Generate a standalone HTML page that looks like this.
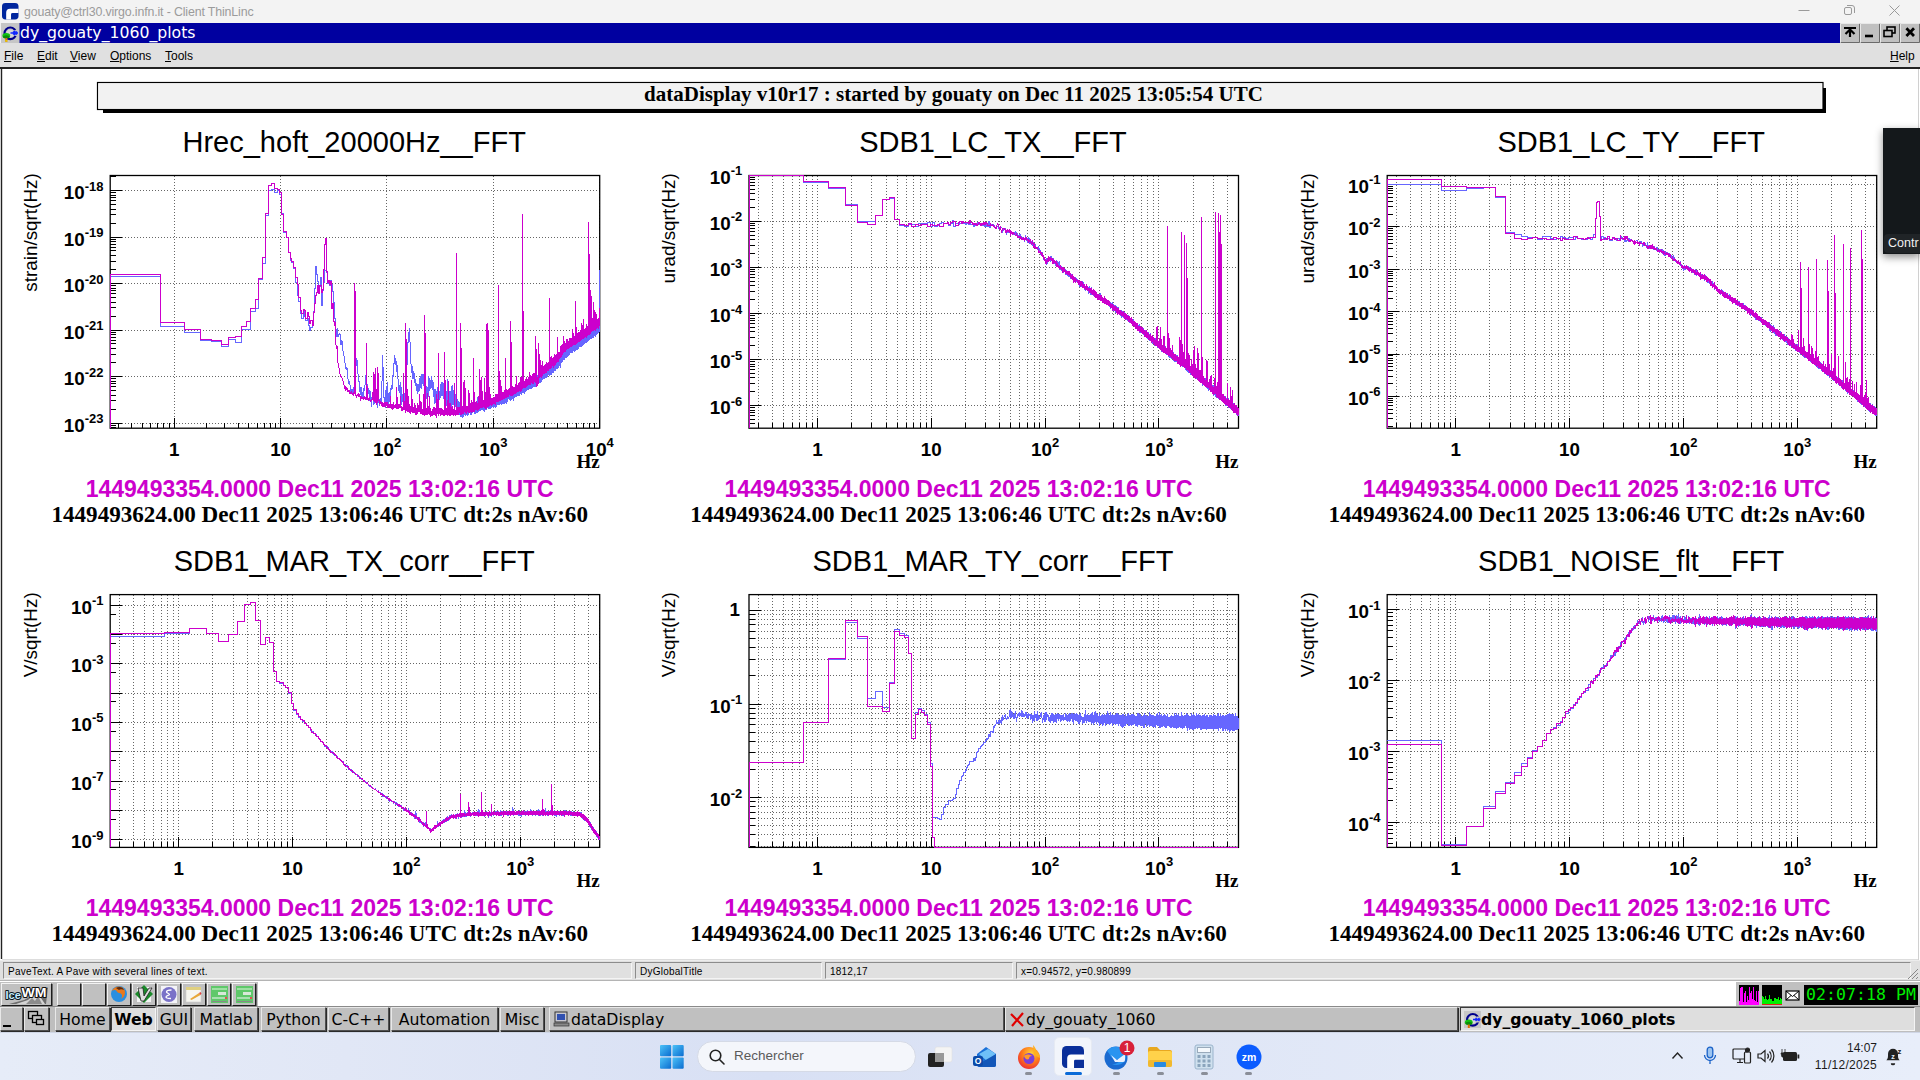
<!DOCTYPE html>
<html><head><meta charset="utf-8"><title>dy_gouaty_1060_plots</title>
<style>
html,body{margin:0;padding:0;}
body{width:1920px;height:1080px;overflow:hidden;background:#fff;font-family:"Liberation Sans",sans-serif;position:relative;}
.abs{position:absolute;}
#tl{left:0;top:0;width:1920px;height:23px;background:#f3f3f3;}
#tl .t{position:absolute;left:24px;top:5px;font-size:12.4px;color:#9b9b9b;letter-spacing:-0.15px;white-space:nowrap;}
#bb{left:0;top:23px;width:1920px;height:20px;background:#0000a0;}
#bb .t{position:absolute;left:20px;top:0px;font-family:"DejaVu Sans",sans-serif;font-size:15.7px;color:#fff;white-space:nowrap;}
#mb{left:0;top:43px;width:1920px;height:24px;background:#e0e0e0;border-bottom:2px solid #222;}
#mb span{position:absolute;top:6px;font-size:12px;color:#000;white-space:nowrap;}
#mb u{text-decoration:underline;}
svg text{font-family:"Liberation Sans",sans-serif;}
.tt{font-size:29px;fill:#000;}
.yt{font-size:18.9px;fill:#000;}
.al{font-size:18.8px;font-weight:bold;fill:#000;}
.sp{font-size:13px;font-weight:bold;}
.hz{font-family:"Liberation Serif",serif !important;font-size:19px;font-weight:bold;}
.mg{font-size:23px;font-weight:bold;fill:#cc00cc;}
.bk{font-family:"Liberation Serif",serif !important;font-size:23.1px;font-weight:bold;fill:#000;}
.pt{font-family:"Liberation Serif",serif !important;font-size:21px;font-weight:bold;fill:#000;}
</style></head><body>
<div id="tl" class="abs"><svg class="abs" style="left:2px;top:3px" width="16.5" height="16.5" viewBox="0 0 17 17"><rect width="17" height="17" rx="3.6" fill="#00269e"/><path d="M4.3 17V10a4 4 0 0 1 4-4H17v4.3H10.8a1.5 1.5 0 0 0-1.5 1.5V17z" fill="#fff"/></svg><span class="t">gouaty@ctrl30.virgo.infn.it - Client ThinLinc</span>
<svg class="abs" style="left:1780px;top:0" width="140" height="23" viewBox="0 0 140 23" fill="none" stroke="#9a9a9a" stroke-width="1"><path d="M18.5 10.5h11"/><rect x="64.5" y="7.5" width="7" height="7" rx="1.5"/><path d="M67 5.5h5a2.5 2.5 0 0 1 2.5 2.5v5"/><path d="M109.5 5.5l10 10M119.5 5.5l-10 10"/></svg></div>
<div id="bb" class="abs"><svg class="abs" style="left:0;top:0" width="19.5" height="20" viewBox="0 0 19.5 20"><rect width="19.5" height="20" fill="#c6c6c6"/><rect width="1" height="20" fill="#f0f0f0"/><circle cx="10.3" cy="10.3" r="5.8" fill="none" stroke="#00008c" stroke-width="2.1"/><circle cx="10.3" cy="10.3" r="3.600" fill="#d8d8d8"/><rect x="14" y="7" width="4" height="6" fill="#c6c6c6"/><path d="M10.5 10h7.5M14.5 7.5l.8 2.5-.8 2.5M13 8.5l4 3M13 11.5l4-3" stroke="#1228ff" stroke-width="1.3" fill="none"/><ellipse cx="6.3" cy="12.8" rx="3.900" ry="2.700" fill="#12c412"/><ellipse cx="6.3" cy="13.8" rx="3.3" ry="1.600" fill="#0a8a0a"/><rect x="5.3" y="15" width="2" height="3.8" fill="#e07000"/><rect x="5.3" y="17" width="2" height="1.8" fill="#e8c800"/></svg><svg class="abs" style="left:1840px;top:0" width="80" height="20" viewBox="0 1 80 20"><rect width="80" height="21" fill="#c0c0c0"/><g fill="none" stroke="#e8e8e8" stroke-width="1"><path d="M.5 20V1.5h19M20.5 20V1.5h19M40.5 20V1.5h19M60.5 20V1.5h19"/></g><g fill="none" stroke="#6a6a6a" stroke-width="1"><path d="M19.5 2v18.5H1M39.5 2v18.5H21M59.5 2v18.5H41M79.5 2v18.5H61"/></g><g stroke="#000" stroke-width="2.200" fill="none"><path d="M4 6h12M10 15V8M5.5 12l4.5-4.5 4.5 4.5"/><path d="M25 14h8" stroke-width="2.6"/><path d="M66.4 6.3l7.6 7.6M74 6.3l-7.6 7.6" stroke-width="2.8"/></g><g stroke="#000" stroke-width="1.6" fill="#c0c0c0"><rect x="47" y="5" width="8" height="6"/><rect x="44" y="8.5" width="8" height="6"/></g></svg><span class="t">dy_gouaty_1060_plots</span></div>
<div id="mb" class="abs"><span style="left:4px"><u>F</u>ile</span><span style="left:37px"><u>E</u>dit</span><span style="left:70px"><u>V</u>iew</span><span style="left:110px"><u>O</u>ptions</span><span style="left:165px"><u>T</u>ools</span><span style="left:1890px"><u>H</u>elp</span></div>
<svg class="abs" style="left:0;top:69px" width="1920" height="893" viewBox="0 69 1920 893">
<rect x="0" y="69" width="1920" height="893" fill="#fff"/>
<rect x="0.8" y="69" width="1.4" height="890" fill="#222"/><rect x="2" y="959" width="1916" height="1" fill="#ddd"/><rect x="1918" y="69" width="1" height="891" fill="#d0d0d0"/>
<rect x="103" y="88" width="1723" height="25" fill="#000"/>
<rect x="97.5" y="82.5" width="1725.5" height="27" fill="#fff" stroke="#000" stroke-width="1.2"/><rect x="99" y="84" width="1722.5" height="24" fill="#f2f2f2"/>
<text x="953.5" y="101" class="pt" text-anchor="middle">dataDisplay v10r17 : started by gouaty on Dec 11 2025 13:05:54 UTC</text>
<path d="M174.5 175.5V428.2M280.5 175.5V428.2M386.5 175.5V428.2M493.5 175.5V428.2M599.5 175.5V428.2M110.2 423.5H599.7M110.2 376.5H599.7M110.2 330.5H599.7M110.2 283.5H599.7M110.2 237.5H599.7M110.2 190.5H599.7" stroke="#000" stroke-opacity=".6" stroke-width="1" stroke-dasharray="1 2" fill="none" shape-rendering="crispEdges"/>
<rect x="110.2" y="175.5" width="489.5" height="252.7" fill="none" stroke="#000" stroke-width="1.3"/>
<path d="M118.5 428.2v-5M131.5 428.2v-5M142.5 428.2v-5M150.5 428.2v-5M157.5 428.2v-5M163.5 428.2v-5M169.5 428.2v-5M174.5 428.2v-10M206.5 428.2v-5M224.5 428.2v-5M238.5 428.2v-5M248.5 428.2v-5M257.5 428.2v-5M264.5 428.2v-5M270.5 428.2v-5M275.5 428.2v-5M280.5 428.2v-10M312.5 428.2v-5M331.5 428.2v-5M344.5 428.2v-5M354.5 428.2v-5M363.5 428.2v-5M370.5 428.2v-5M376.5 428.2v-5M382.5 428.2v-5M386.5 428.2v-10M418.5 428.2v-5M437.5 428.2v-5M451.5 428.2v-5M461.5 428.2v-5M469.5 428.2v-5M476.5 428.2v-5M483.5 428.2v-5M488.5 428.2v-5M493.5 428.2v-10M525.5 428.2v-5M544.5 428.2v-5M557.5 428.2v-5M567.5 428.2v-5M576.5 428.2v-5M583.5 428.2v-5M589.5 428.2v-5M594.5 428.2v-5M599.5 428.2v-10M110.2 427.5h5.5M110.2 425.5h5.5M110.2 423.5h11.5M110.2 409.5h5.5M110.2 400.5h5.5M110.2 395.5h5.5M110.2 390.5h5.5M110.2 386.5h5.5M110.2 383.5h5.5M110.2 381.5h5.5M110.2 378.5h5.5M110.2 376.5h11.5M110.2 362.5h5.5M110.2 354.5h5.5M110.2 348.5h5.5M110.2 343.5h5.5M110.2 340.5h5.5M110.2 337.5h5.5M110.2 334.5h5.5M110.2 332.5h5.5M110.2 330.5h11.5M110.2 316.5h5.5M110.2 307.5h5.5M110.2 302.5h5.5M110.2 297.5h5.5M110.2 293.5h5.5M110.2 290.5h5.5M110.2 288.5h5.5M110.2 285.5h5.5M110.2 283.5h11.5M110.2 269.5h5.5M110.2 261.5h5.5M110.2 255.5h5.5M110.2 250.5h5.5M110.2 247.5h5.5M110.2 244.5h5.5M110.2 241.5h5.5M110.2 239.5h5.5M110.2 237.5h11.5M110.2 223.5h5.5M110.2 214.5h5.5M110.2 209.5h5.5M110.2 204.5h5.5M110.2 200.5h5.5M110.2 197.5h5.5M110.2 195.5h5.5M110.2 192.5h5.5M110.2 190.5h11.5M110.2 176.5h5.5" stroke="#000" stroke-width="1" fill="none" shape-rendering="crispEdges"/>
<path d="M110.2 276.3H160.9V326.3H184.5V332.3H200.1V340.2H211.7V341.2H221V346.3H228.7V339.1H235.3V342.1H241.1V329.5H246.2H250.8V311.4H255V308.1H258.9V279.3H262.4V263H265.7V215.1H268.8V190.5H271.7V189.1H274.4V192.4H277V190.5H279.4V194.2H281.7V213.8H283.9V232.3H286V237.9H288.1V252.3H290V260.2H291.8V262.6H293.6V268.6H295.3V282.1H297V295.1H298.6V301.2H300.1V313.7H301.6V318.4H303V311.4H304.4V316H305.8V320.7H307.1V318.4H308.4V325.3H309.6V330H310.9V327.7H312V323H313.2V311.4H314.3V288.6H315.4V266.4H316.5V274.9H317.5V281.5H318.6V286.2H319.6V286.4H320.6V277.8H321.5V305.2H322.5V290.3H323.4V282.2H324.3V270H325.2V270.2H326.1V261.4H326.9V272.8H327.8V283.7H328.6V282H329.4V285.3H330.2V280.9H331V285.8H331.7V284.6H332.5V291.1H333.2V302.7H334V308.5H334.7V318.3H335.4L335.8 329L336.4 337.3L337.1 327.6L337.8 336.4L338.5 336.3L339.1 334.2L339.8 333.5L340.4 334.4L341 344.7L341.7 340.2L342.3 342.7L342.9 350.6L343.5 352.8L344.1 356.5L344.6 359.4L345.2 364.4L345.8 368.4L346.3 367.9L346.9 369.8L347.4 369L348 379L348.5 384.1L349 380.9L349.6 384.8L350.1 385L350.6 389.2L351.1 393.6L351.6 392.4L352.1 388.7L352.6 390.1L353.1 392.9L353.5 387L354 390.9L354.5 384.7L354.9 377.4L355.4 374.9L355.9 367.9L356.3 359.9L356.8 358.4L357.2 361L357.6 367.1L358.1 375.5L358.5 381.7L358.9 377.2L359.4 391.3L359.8 388.1L360.2 395.3L360.6 390.8L361 387.1L361.4 393.9L361.8 397L362.2 399L362.6 392.4L363 398.3L363.4 397.6L363.8 388.8L364.1 387.6L364.5 389.9L364.9 388.8L365.3 375.3L365.6 383.5L366 384.8L366.4 387.4L366.7 385.8L367.1 384.3L367.4 391.4L367.9 391V391.9L368.6 394.4V388.5L369.3 391.6V396.1L370 400.8V391L370.7 395.5V396L371.3 397.5V406.5L372 397.2V393.3L372.6 397.5V399.2L373.2 399.5V372L373.8 402.5V405.1L374.4 402V399.7L375 401.6V403.3L375.6 398V388.6L376.2 398.9V403.5L376.8 399.4V397.7L377.4 398.7V407.7L377.9 406.5V403.9L378.5 398.7V393.1L379.1 402.6V403.3L379.6 406.1V399.7L380.1 399.6V401.8L380.7 401.3V398.8L381.2 398.4V403.8L381.7 395.9V390.3L382.2 376.5V363.2L382.7 358V354.7L383.2 373.3V390L383.7 396.3V397.8L384.2 397.8V404.3L384.7 402.8V400.7L385.2 405.6V408.1L385.7 403.4V390L386.2 402.8V403.4L386.7 404.4V390.4L387.4 381.7V402.9L388.1 403.6V396.2L388.8 392.9V403.1L389.4 400.2V391.7L390.1 393.1V400.3L390.7 397.3V388.5L391.4 389.3V385.5L392 389.3V381.3L392.6 378V375.1L393.2 377.2V370.1L393.8 372.2V362.7L394.4 364V354.9L395 358.4V362.3L395.6 360.8V365.4L396.2 361V371.7L396.7 368.1V361.8L397.3 368V373.1L397.8 374.7V378.1L398.4 380.8V385.3L398.9 382.5V390.4L399.4 392.7V385.4L400.1 391.8V392.9L400.7 400.5V381.9L401.4 392.9V405.2L402.1 398.6V394.8L402.8 394.1V400.9L403.4 404.5V396.2L404.1 392.8V401.5L404.7 399.1V394.5L405.3 396.7V387.8L405.9 380.9V399L406.5 379.1V371.2L407.1 364.1V354.8L407.7 356V342.9L408.3 342.1V331.7L408.9 334.5V337.5L409.5 340V328.5L410.1 344.4V358.2L410.8 355.3V363.1L411.5 365.4V371.2L412.2 374.2V366.2L412.8 369.7V378.5L413.5 378V370.7L414.1 373.4V379.7L414.8 382.6V376.6L415.4 382.4V386.1L416 385V391.3L416.6 390.2V383.2L417.2 385.1V393.4L417.8 393.6V385.9L418.4 384.3V391.3L419 390.5V384.7L419.7 390.2V378.5L420.4 377.3V387.5L421.1 387.9V380L421.7 385.2V373.8L422.4 375.4V383.7L423 381.3V374.2L423.7 380.1V385.9L424.3 386.2V377L424.9 382.9V392.1L425.5 395.7V383.9L426.1 386.3V399.2L426.8 393.8V387L427.5 388V392.7L428.2 396.7V385.5L428.8 390.6V376.1L429.5 380.8V391L430.1 388V380.8L430.8 380.8V388.1L431.4 387.3V376.1L432 380.1V388.7L432.7 389.8V381.3L433.4 383.1V396.7L434.1 390V404.4L434.7 400.1V389.1L435.4 389.1V402L436 402.2V390.6L436.7 392.5V401.1L437.3 400.8V392.8L438 387V408.2L438.7 402.4V389.5L439.4 391.9V400.4L440 393.9V384.5L440.7 384.3V397.9L441.3 394.7V383.4L442 381.7V396.1L442.6 395.9V384.8L443.3 383V394.2L444 398.8V387.3L444.7 390V402.7L445.3 400.6V391.7L446 391.5V401.7L446.6 406V392.3L447.3 405.3V379.3L448 385.6V407.3L448.7 410.1V395L449.4 391.1V410.5L450 404.5V391.2L450.7 392.4V402.3L451.4 407.2V389.3L452.1 385.1V405.1L452.7 399.6V389.2L453.4 391.1V402.5L454.1 405V386.1L454.7 390.8V403.2L455.4 406.8V394.2L456.1 397.6V406.8L456.8 411.8V400.3L457.4 398.7V410.7L458.1 410.7V403.8L458.8 400.7V413.2L459.5 414.7V406.6L460.1 401.5V413.9L460.8 417.2V392.1L461.5 403V415.6L462.1 417V408.8L462.8 409.1V417.8L463.5 415.3V404L464.2 407.6V414.6L464.8 414.7V400.3L465.5 407.4V415.7L466.2 414.4V407.2L466.9 406.7V414.1L467.6 415.1V407.7L468.2 408.8V414.6L468.9 411.8V408.6L469.6 412.6V400.8L470.3 406.7V412.8L471 415.2V404.6L471.6 404.2V412.3L472.3 412.3V404L473 406.2V412.1L473.7 411.3V405.7L474.4 402V411.7L475.1 413.7V406.3L475.7 405.1V411.1L476.4 412.2V405.1L477.1 412.1V396.8L477.8 405.3V412.8L478.5 411.4V403.8L479.2 402.7V410.2L479.8 410.7V404.7L480.5 403.3V409.9L481.2 409.2V402.2L481.9 401.7V409.2L482.6 409.3V404.1L483.3 402.4V409.8L484 410.8V402.6L484.6 402.5V410.7L485.3 409.4V403.7L486 401.9V410.4L486.7 408.3V401.3L487.4 400.9V407.8L488.1 407.6V399L488.8 401V408.6L489.5 408.6V399.7L490.1 402.7V408.3L490.8 407V400.3L491.5 400.8V407.1L492.2 406.6V400.6L492.9 399.4V406.4L493.6 408V399.8L494.3 400.4V405.7L495 406.5V400.9L495.7 399V404.9L496.3 405.7V399.1L497 397.1V404.9L497.7 404.3V394.3L498.4 396.8V403.4L499.1 404.7V398.2L499.8 397.2V405.3L500.5 402.5V396.5L501.2 394.9V405.1L501.8 402.2V396.6L502.5 395.6V403.9L503.2 402V395L503.9 395.2V403.1L504.6 403.1V394.7L505.3 394.5V402L506 402.6V392.2L506.7 393.9V400.3L507.4 401.1V392.6L508.1 392.1V398.8L508.8 398.2V392.2L509.4 391.1V399.3L510.1 399.9V392.4L510.8 392.5V400L511.5 398.6V391.8L512.2 390.1V398L512.9 398V388.4L513.6 390.6V400.9L514.3 396.7V389.3L515 389.5V396L515.7 396.5V388.3L516.4 387.8V396.1L517 395.3V388.9L517.7 388.2V395.5L518.4 395.8V388.1L519.1 388.7V395.9L519.8 394V387.5L520.5 387.6V392.9L521.2 393.9V386.3L521.9 385.5V392.9L522.6 392.6V385.1L523.3 385.5V392.6L524 392V383.6L524.7 384.1V392.8L525.4 391.6V383.2L526.1 384.6V390L526.7 391.2V382.4L527.4 382.2V389.4L528.1 389.3V381.3L528.8 381.6V389L529.5 388.9V379.2L530.2 380.3V387.8L530.9 388.6V380.1L531.6 380.9V387.9L532.3 387.4V379.6L533 379V386.8L533.7 386.3V379.1L534.4 378.8V386.7L535.1 386.3V377.6L535.8 377.9V384.4L536.5 384.3V376.2L537.2 375.7V385.5L537.9 383.4V375.1L538.6 375V382.7L539.3 382.4V375.5L540 374V382.9L540.7 381.1V368.3L541.3 373.3V381.5L542 379.5V372.7L542.7 372.6V379.2L543.4 379V371.7L544.1 370.7V378.2L544.8 378.1V370.9L545.5 370.1V377.9L546.2 376.6V369.4L546.9 368.2V377.5L547.6 375.7V368.8L548.3 366.5V374.6L549 374.9V365.9L549.7 364.1V373.9L550.4 375.3V365.6L551.1 365.6V374.4L551.8 373.8V364.5L552.5 365V372.1L553.2 372.1V363.3L553.9 363.2V370.5L554.6 369.8V361.2L555.3 360.6V370.6L556 368.9V360.8L556.7 360.9V367.9L557.4 368.5V359.6L558.1 357.1V367.5L558.8 367.2V359.4L559.5 357V365.2L560.2 366.3V357.3L560.9 356.2V363.4L561.6 362.5V354L562.2 354.3V361.4L562.9 360.9V353.5L563.6 351.7V359.7L564.3 359.3V352.1L565 348.1V357.6L565.7 357.9V350.2L566.4 350V357.4L567.1 356.6V349.8L567.8 348V355.7L568.5 355.1V348.2L569.2 347.4V354.6L569.9 354V346L570.6 345.2V352.9L571.3 352.6V345.1L572 345.1V352.4L572.7 352.9V344.1L573.4 343.1V350.8L574.1 351.3V341.9L574.8 343.2V351.1L575.5 349.8V342.4L576.2 341.4V349.3L576.9 349.1V339.2L577.6 340.7V348.8L578.3 348.2V336.4L579 338.6V346.7L579.7 346.7V338.4L580.4 338.5V346.3L581.1 346.4V338.2L581.8 337.5V345L582.5 345.7V337.9L583.2 336.2V344.9L583.9 343.9V335.2L584.6 335.2V343L585.3 342.3V334.9L586 334.3V343.1L586.7 341.5V333.6L587.4 333.6V341.3L588.1 340.2V333.2L588.8 327.4V340L589.5 339.9V329L590.2 330.4V338.9L590.9 338.8V330.6L591.6 329.8V339L592.3 337.1V328.8L593 325.1V337.3L593.7 336.9V328.3L594.4 327V335.5L595.1 336V327.4L595.8 322.6V335.4L596.5 334.1V326.2L597.2 325.8V333.8L597.9 333.4V324.6L598.6 324.5V332L599.2 331.6V324L599.6 331V269.5" fill="none" stroke="#6666ff" stroke-width="1" stroke-linejoin="miter" shape-rendering="crispEdges"/>
<path d="M110.2 428.2V274.7H160.9V322.3H184.5V329.3H200.1V339.8H211.7V340.7H221V344.2H228.7V337.7H235.3V336.5H241.1V326.7H246.2V321.6H250.8V308.1H255V299.1H258.9V278.8H262.4V257.5H265.7V213.3H268.8V185.4H271.7V183.5H274.4V188.6H277V189.6H279.4V192.8H281.7V214.7H283.9V231.7H286V237H288.1V252.3H290V258.9H291.8V261.2H293.6V267.2H295.3V277H297V284.9H298.6V297.5H300.1V310H301.6V313.7H303V309.1H304.4V310.5H305.8V318.4H307.1V312.3H308.4V316H309.6V323H310.9V320.7H312V325.3H313.2V312.3H314.3V303.2H315.4V295.8H316.5V292.3H317.5V285.4H318.6V293.1H319.6V285.9H320.6V285.2H321.5V292.5H322.5V289H323.4V269.6H324.3V244.7H325.2V238.9H326.1V245.1H326.9V271H327.8V282.9H328.6V280.3H329.4V284.8H330.2V281.6H331V284.5H331.7V308.5H332.5V303.2H333.2V321.1H334V325.7H334.7V322.5H335.4L335.8 343.4L336.4 348.6L337.1 347.7L337.8 361.8L338.5 364.9L339.1 368.1L339.8 373.5L340.4 374.9L341 376.7L341.7 376.8L342.3 378.7L342.9 380.8L343.5 384L344.1 385.5L344.6 388.5L345.2 386.3L345.8 391.2L346.3 387.8L346.9 386.9L347.4 391.4L348 391.3L348.5 391.4L349 390L349.6 392.8L350.1 392.2L350.6 393.1L351.1 393.1L351.6 391.2L352.1 394.6L352.6 393.4L353.1 393.3L353.5 392.7L354 395.9L354.5 316.3L354.9 283.5L355.4 316.5L355.9 394.9L356.3 397.6L356.8 396.4L357.2 394.5L357.6 395.8L358.1 396.1L358.5 393.7L358.9 393.3L359.4 396.7L359.8 394.1L360.2 399.9L360.6 400.2L361 396.2L361.4 397.9L361.8 396.8L362.2 397L362.6 398L363 397L363.4 397.8L363.8 400.3L364.1 397.9L364.5 398.1L364.9 395.8L365.3 400.1L365.6 398.6L366 399.3L366.4 399L366.7 342.6L367.1 398.4L367.4 399.7L367.9 398.9V398.1L368.6 399.8V400.8L369.3 398.4V397.3L370 399.8V400.5L370.7 400.1V402.2L371.3 399.6V398.7L372 400V392L372.6 392.4V399.7L373.2 400.1V401.3L373.8 399.4V371.8L374.4 376.7V401.9L375 387.2V368.2L375.6 400.1V400.7L376.2 403.3V389.3L376.8 401.9V403.3L377.4 402.5V401.8L377.9 388V367.5L378.5 399.7V400.1L379.1 400.1V402.5L379.6 403.4V401.3L380.1 401.5V403.5L380.7 403.8V404.1L381.2 402.9V402.2L381.7 403.2V405.2L382.2 405.8V403.4L382.7 404.1V401.6L383.2 403.7V404.2L383.7 406.3V406.5L384.2 404.4V402.2L384.7 405.6V406.2L385.2 407.3V404.7L385.7 407.4V401.9L386.2 405.1V405.7L386.7 405.5V402.9L387.4 402.9V407.8L388.1 407.6V403.8L388.8 407V407.7L389.4 407.4V403.9L390.1 405.8V396.3L390.7 405.4V406.5L391.4 405.5V408.8L392 409.2V405.7L392.6 403.9V409.9L393.2 405.8V402.3L393.8 405.4V408.1L394.4 408V405.7L395 405.1V407.6L395.6 406.4V404.7L396.2 406.7V408.3L396.7 408.2V387.5L397.3 406.7V408.3L397.8 407.8V404.9L398.4 404.7V408.4L398.9 407.8V404.9L399.4 405.4V403.9L400.1 408.1V396.5L400.7 405.8V407.7L401.4 406V410.1L402.1 409.3V407L402.8 407.5V410.5L403.4 408.1V372.7L404.1 405.2V408.4L404.7 409.7V405.6L405.3 405.9V412.6L405.9 410V323.5L406.5 407.3V411L407.1 409.2V406.9L407.7 411.9V389.1L408.3 403.4V410.9L408.9 412.2V403.2L409.5 407.8V410.9L410.1 413.5V406.8L410.8 407V411.2L411.5 411.7V379.8L412.2 405.2V412.6L412.8 412.3V408.2L413.5 408V412.1L414.1 412.5V408.7L414.8 412.8V402.9L415.4 408.4V412.9L416 414.7V407.9L416.6 408.8V412L417.2 413.6V409.1L417.8 412.5V402.6L418.4 408.9V411.7L419 411.6V404.1L419.7 411.1V394.2L420.4 409.4V412.8L421.1 414.4V403.5L421.7 401.8V413.8L422.4 415.1V410.4L423 409.2V415L423.7 414.7V394.2L424.3 409.5V412.4L424.9 415.6V314.7L425.5 410.1V414.7L426.1 414.3V407.8L426.8 409.2V414.3L427.5 414.4V393.4L428.2 410.2V412.9L428.8 414.2V410.1L429.5 414.5V395.8L430.1 410.3V415.8L430.8 416.3V410.5L431.4 411.2V414.2L432 415.7V409.7L432.7 409.7V414.1L433.4 414.2V407.9L434.1 408.7V413.8L434.7 414.1V407.9L435.4 408V414.8L436 415.8V410.1L436.7 412.8V393.7L437.3 404.1V413.4L438 413.2V353.2L438.7 403.1V414.4L439.4 413.2V408.9L440 407.8V413.8L440.7 416.4V409.3L441.3 409V414.8L442 414.2V410L442.6 408.9V414.9L443.3 412.2V409.6L444 415.9V395.7L444.7 415.3V351.9L445.3 405.4V413.9L446 414.3V408.4L446.6 409.1V414.1L447.3 414.8V399.7L448 414.4V380.6L448.7 406.4V413.9L449.4 416.3V407.9L450 402.7V414.2L450.7 415V408.2L451.4 406.7V414.5L452.1 412.8V406.6L452.7 406.1V413.9L453.4 415.6V409.1L454.1 413.7V383.4L454.7 408.8V414.7L455.4 415.2V409.6L456.1 415V253.3L456.8 260.2V414.2L457.4 414.4V407.5L458.1 407.9V414.6L458.8 412.4V407.7L459.5 407.5V412.2L460.1 413.1V407.1L460.8 413.8V322.6L461.5 406.7V414.4L462.1 413.9V406.5L462.8 407.4V412.4L463.5 413.5V381.9L464.2 389.4V410.9L464.8 412.3V380.3L465.5 406.3V411.4L466.2 413V406.8L466.9 406.5V412.3L467.6 411.2V407.4L468.2 405.5V412.9L468.9 411.1V390.3L469.6 406.3V413.2L470.3 411.2V403.6L471 404.9V411.6L471.6 413.4V400.4L472.3 403.6V409.4L473 411.8V357.9L473.7 396V409.1L474.4 411.6V392.4L475.1 403.3V407.6L475.7 409.9V402.3L476.4 401.6V409.1L477.1 409.6V403.5L477.8 403V408.2L478.5 409.3V395.6L479.2 407.8V369.5L479.8 390.7V408.6L480.5 406.8V388L481.2 376.6V406.7L481.9 407.4V390.4L482.6 397V407.3L483.3 406.9V401.4L484 400.4V408L484.6 406.4V378.2L485.3 401V406L486 408.5V394.4L486.7 404.3V325.3L487.4 322.6V407L488.1 404.4V330L488.8 376.4V405.8L489.5 405V386.6L490.1 395.2V404.7L490.8 404V398L491.5 399V405.2L492.2 404.9V398.6L492.9 398.5V403.6L493.6 402.7V398.5L494.3 396.6V403.2L495 403.7V395.8L495.7 393.9V402.3L496.3 401.9V395.9L497 394.3V402.2L497.7 401.6V394.7L498.4 401.6V285.4L499.1 384.3V400.6L499.8 399.8V377.4L500.5 385.4V400.4L501.2 399.3V392.4L501.8 386.1V399.4L502.5 398.9V392.3L503.2 392.6V399L503.9 398.2V392.3L504.6 390.4V398.2L505.3 397.4V357.9L506 389.2V398L506.7 396V391.9L507.4 389.6V395.9L508.1 396.5V390.6L508.8 389.6V395.1L509.4 394.9V389L510.1 388.8V395.3L510.8 394.8V320.7L511.5 388.5V395.6L512.2 395.5V388.7L512.9 386.5V394.9L513.6 393.9V387.4L514.3 387.3V392.7L515 394.1V384.1L515.7 386.2V392.5L516.4 392.7V376L517 385.6V392.3L517.7 391.5V385.3L518.4 384.1V391.4L519.1 390.5V382.4L519.8 383.7V390.5L520.5 391.1V376.7L521.2 381.7V390.6L521.9 388.3V377L522.6 389V214.2L523.3 382.2V387.8L524 387.8V380.7L524.7 381.6V386.2L525.4 387.2V379.5L526.1 379.1V385.7L526.7 386.7V378.3L527.4 379.2V385.7L528.1 385.1V378.4L528.8 377.8V384.4L529.5 384.6V371.6L530.2 377.5V384.2L530.9 384.1V376.1L531.6 376.9V382.3L532.3 382.8V375.5L533 374.5V381.8L533.7 382.9V374.1L534.4 372.7V380.7L535.1 381.7V371.1L535.8 382.9V336L536.5 378.5V386L537.2 385.3V378.8L537.9 377.5V384.3L538.6 383.2V342.6L539.3 362.4V377.7L540 376.8V369.7L540.7 377V360.5L541.3 368.9V377L542 375.9V361.4L542.7 367.7V374.5L543.4 373.9V366.6L544.1 366.5V373.5L544.8 373V365.9L545.5 364.4V372.8L546.2 372.4V362.2L546.9 363.9V371.2L547.6 370.7V363.5L548.3 362V370.3L549 369.2V297.9L549.7 357.5V367.7L550.4 368.2V360.7L551.1 356.4V367.7L551.8 366.1V359.3L552.5 358.4V365.4L553.2 366.3V357.8L553.9 357.5V365.9L554.6 363.7V353.9L555.3 356V364.2L556 363.3V355.9L556.7 354.1V362.2L557.4 361.8V337L558.1 353.7V361.7L558.8 359.7V352.4L559.5 352.1V358.6L560.2 358V350.5L560.9 345.6V356.8L561.6 355.7V347.7L562.2 343.7V354.5L562.9 352.4V345.1L563.6 353V336L564.3 344.1V352L565 351.6V344.4L565.7 343.1V349.8L566.4 349.1V339.1L567.1 341.7V348.8L567.8 348.2V340.4L568.5 341.4V348.6L569.2 347.2V340.3L569.9 338.2V346.8L570.6 346.8V338.7L571.3 338.6V346.5L572 345.9V339.2L572.7 345.8V328.6L573.4 337.4V344.6L574.1 344.3V337.6L574.8 336.5V345L575.5 343.6V301.2L576.2 335.8V342.8L576.9 343.4V333.4L577.6 333.1V343.1L578.3 341.5V334.2L579 332V342L579.7 340.3V333.6L580.4 330.3V340.4L581.1 340V331.8L581.8 339.7V322.6L582.5 329.8V338.7L583.2 337.8V322.1L583.9 319.2V337.6L584.6 337V329.2L585.3 328.7V336.8L586 336.8V323.5L586.7 328.6V336.6L587.4 335.8V326.9L588.1 326.2V335L588.8 334.8V222.1L589.5 325V334.2L590.2 333.2V325.6L590.9 332.6V290.5L591.6 324.2V331.4L592.3 331V318.4L593 321.5V331.2L593.7 330.3V302.1L594.4 319.2V329.9L595.1 330.1V321.7L595.8 329.2V311.8L596.5 319.8V327.9L597.2 327V319.1L597.9 319.8V327.3L598.6 328.8V318.2L599.2 326.4V307.6L599.6 319.6V324.5" fill="none" stroke="#cc00cc" stroke-width="1" stroke-linejoin="miter" shape-rendering="crispEdges"/>
<text x="354.2" y="152.3" class="tt" text-anchor="middle">Hrec_hoft_20000Hz__FFT</text>
<text transform="translate(36.5 173.2) rotate(-90)" class="yt" text-anchor="end">strain/sqrt(Hz)</text>
<text x="103.5" y="199" class="al" text-anchor="end">10<tspan class="sp" dy="-8.5">-18</tspan></text>
<text x="103.5" y="245.5" class="al" text-anchor="end">10<tspan class="sp" dy="-8.5">-19</tspan></text>
<text x="103.5" y="292" class="al" text-anchor="end">10<tspan class="sp" dy="-8.5">-20</tspan></text>
<text x="103.5" y="338.5" class="al" text-anchor="end">10<tspan class="sp" dy="-8.5">-21</tspan></text>
<text x="103.5" y="385" class="al" text-anchor="end">10<tspan class="sp" dy="-8.5">-22</tspan></text>
<text x="103.5" y="431.5" class="al" text-anchor="end">10<tspan class="sp" dy="-8.5">-23</tspan></text>
<text x="174.2" y="455.7" class="al" text-anchor="middle">1</text>
<text x="280.6" y="455.7" class="al" text-anchor="middle">10</text>
<text x="373" y="455.7" class="al" text-anchor="start">10<tspan class="sp" dy="-9">2</tspan></text>
<text x="479.3" y="455.7" class="al" text-anchor="start">10<tspan class="sp" dy="-9">3</tspan></text>
<text x="585.7" y="455.7" class="al" text-anchor="start">10<tspan class="sp" dy="-9">4</tspan></text>
<text x="599.7" y="468.2" class="hz" text-anchor="end">Hz</text>
<text x="319.7" y="497.2" class="mg" text-anchor="middle">1449493354.0000 Dec11 2025 13:02:16 UTC</text>
<text x="319.7" y="521.7" class="bk" text-anchor="middle">1449493624.00 Dec11 2025 13:06:46 UTC dt:2s nAv:60</text>
<path d="M758.5 175.5V428.2M772.5 175.5V428.2M783.5 175.5V428.2M792.5 175.5V428.2M799.5 175.5V428.2M806.5 175.5V428.2M812.5 175.5V428.2M817.5 175.5V428.2M851.5 175.5V428.2M871.5 175.5V428.2M886.5 175.5V428.2M897.5 175.5V428.2M906.5 175.5V428.2M913.5 175.5V428.2M920.5 175.5V428.2M926.5 175.5V428.2M931.5 175.5V428.2M965.5 175.5V428.2M985.5 175.5V428.2M999.5 175.5V428.2M1010.5 175.5V428.2M1019.5 175.5V428.2M1027.5 175.5V428.2M1034.5 175.5V428.2M1039.5 175.5V428.2M1045.5 175.5V428.2M1079.5 175.5V428.2M1099.5 175.5V428.2M1113.5 175.5V428.2M1124.5 175.5V428.2M1133.5 175.5V428.2M1141.5 175.5V428.2M1147.5 175.5V428.2M1153.5 175.5V428.2M1158.5 175.5V428.2M1193.5 175.5V428.2M1213.5 175.5V428.2M1227.5 175.5V428.2M1238.5 175.5V428.2M749 405.5H1238.5M749 359.5H1238.5M749 313.5H1238.5M749 267.5H1238.5M749 221.5H1238.5" stroke="#000" stroke-opacity=".6" stroke-width="1" stroke-dasharray="1 2" fill="none" shape-rendering="crispEdges"/>
<rect x="749" y="175.5" width="489.5" height="252.7" fill="none" stroke="#000" stroke-width="1.3"/>
<path d="M758.5 428.2v-5M772.5 428.2v-5M783.5 428.2v-5M792.5 428.2v-5M799.5 428.2v-5M806.5 428.2v-5M812.5 428.2v-5M817.5 428.2v-10M851.5 428.2v-5M871.5 428.2v-5M886.5 428.2v-5M897.5 428.2v-5M906.5 428.2v-5M913.5 428.2v-5M920.5 428.2v-5M926.5 428.2v-5M931.5 428.2v-10M965.5 428.2v-5M985.5 428.2v-5M999.5 428.2v-5M1010.5 428.2v-5M1019.5 428.2v-5M1027.5 428.2v-5M1034.5 428.2v-5M1039.5 428.2v-5M1045.5 428.2v-10M1079.5 428.2v-5M1099.5 428.2v-5M1113.5 428.2v-5M1124.5 428.2v-5M1133.5 428.2v-5M1141.5 428.2v-5M1147.5 428.2v-5M1153.5 428.2v-5M1158.5 428.2v-10M1193.5 428.2v-5M1213.5 428.2v-5M1227.5 428.2v-5M1238.5 428.2v-5M749 423.5h5.5M749 419.5h5.5M749 415.5h5.5M749 412.5h5.5M749 410.5h5.5M749 407.5h5.5M749 405.5h11.5M749 391.5h5.5M749 383.5h5.5M749 377.5h5.5M749 373.5h5.5M749 369.5h5.5M749 366.5h5.5M749 364.5h5.5M749 361.5h5.5M749 359.5h11.5M749 345.5h5.5M749 337.5h5.5M749 331.5h5.5M749 327.5h5.5M749 323.5h5.5M749 320.5h5.5M749 318.5h5.5M749 315.5h5.5M749 313.5h11.5M749 299.5h5.5M749 291.5h5.5M749 285.5h5.5M749 281.5h5.5M749 277.5h5.5M749 274.5h5.5M749 271.5h5.5M749 269.5h5.5M749 267.5h11.5M749 253.5h5.5M749 245.5h5.5M749 239.5h5.5M749 235.5h5.5M749 231.5h5.5M749 228.5h5.5M749 225.5h5.5M749 223.5h5.5M749 221.5h11.5M749 207.5h5.5M749 199.5h5.5M749 193.5h5.5M749 189.5h5.5M749 185.5h5.5M749 182.5h5.5M749 179.5h5.5M749 177.5h5.5" stroke="#000" stroke-width="1" fill="none" shape-rendering="crispEdges"/>
<path d="M749 175.5H803.3V182.3H828.5V188.1H845.2V204.9H857.6V221.9H867.5V221.4H875.8V215.5H882.9V199.3H889V198.2H894.5V219.6H899.5V225.1H904V226.1H908.1V224.6H911.9V224.3H915.4V226.7H918.7V223.6H921.8V223.9H924.7V223.4H927.5V222.7H930.1V226.7H932.6V222H934.9V226.6H937.2V225.2H939.3V223.7H941.4V222.6H943.3V223.1H945.2V223.4H947.1V223H948.8V225.2H950.5V223.6H952.2V220.1H953.8V226.9H955.3V223.7H956.8V223.4H958.3V224.4H959.7V223.3H961.1V222.9H962.4V223.3H963.7V223H965V224.3H966.2V222.1H967.4V223.9H968.6V224.6H969.7V220.3H970.9V224.1H972H973V226.1H974.1V223H975.1V225H976.1V224.6H977.1V222.7H978.1V223.1H979V224.9H980V223.2H980.9V223.4H981.8V224.3H982.7V225.5H983.5V223.6H984.4V226.4H985.2V223.8H986V224.4H986.9V226.2H987.6V226H988.4V221.1H989.2V227.5H990V224.8H990.7V225.6H991.5V224.8H992.2V225.2H992.9V224.7H993.6L994 225.2L994.6 226.5L995.3 228.6L996 227.3L996.7 226.5L997.3 226.7L998 226.1L998.6 228.1L999.2 229.8L999.8 229.1L1000.5 228.2L1001.1 227.4L1001.7 227.6L1002.3 228.1L1002.8 231.2L1003.4 230.2L1004 229.1L1004.6 229.6L1005.1 229L1005.7 232.1L1006.2 229.8L1006.8 234.7L1007.3 231.7L1007.8 231.1L1008.3 231.9L1008.9 230.4L1009.4 232.1L1009.9 232L1010.4 231.3L1010.9 233.7L1011.4 230.7L1011.9 233.9L1012.3 232.3L1012.8 233.1L1013.3 234.2L1013.8 233.7L1014.2 233.6L1014.7 234.9L1015.1 231.4L1015.6 236.1L1016 234.9L1016.5 233.5L1016.9 234.6L1017.4 234L1017.8 237.8L1018.2 236.2L1018.6 236L1019.1 234.5L1019.5 237.6L1019.9 236.7L1020.3 234.2L1020.7 236.5L1021.1 236.6L1021.5 237.5L1021.9 235.9L1022.3 240.3L1022.7 239.1L1023.1 238.9L1023.5 238.1L1023.8 238.5L1024.2 241.6L1024.6 238.7L1025 240.2L1025.3 235.3L1025.7 239.7L1026.1 238L1026.4 240.4L1026.8 240.2L1027.2 241.2L1027.5 239L1028 238.5V242.2L1028.7 239.9V239.7L1029.4 239.2V242.1L1030.1 243.6V239.6L1030.8 241.9V243.2L1031.4 243.2V241.6L1032.1 242.7V239.7L1032.7 244.1V245.4L1033.3 244.6V243L1034 243.7V245.9L1034.6 243.8V248.2L1035.2 246.9V245L1035.8 244.9V248L1036.4 247.7V247.2L1037 247.9V249.9L1037.5 249.9V248.9L1038.1 248V249.8L1038.7 250.3V248.8L1039.2 248.4V249.9L1039.8 250.9V251.7L1040.3 252.4V250.3L1040.9 250V253.8L1041.4 253.3V254.6L1041.9 254.9V253.4L1042.5 252.7V252.3L1043 255.2V258.4L1043.5 259.6V256.2L1044 256.8L1044.5 258.6V258.8L1045 261.3V264L1045.5 263V260.5L1046 261.2V264.9L1046.5 263.1V257.8L1047 263V263.9L1047.4 259.2V259.1L1048 260.2V261.7L1048.7 259.9V258.3L1049.4 257V259.7L1050.1 260.6V255.8L1050.7 258.6V260.2L1051.4 259.2V255.7L1052 259.4V260.8L1052.7 259.5V262.7L1053.3 262.3V258L1053.9 260.5V262.6L1054.6 263V260.9L1055.2 262.5V264.8L1055.8 265.1V263.7L1056.4 264.2V261L1057 262V266.3L1057.5 264.4V261.4L1058.1 262.7V267.4L1058.7 265.2V263.1L1059.2 262.4V267.1L1059.8 267.5V269.8L1060.3 269.6V265.4L1060.9 268.2V269L1061.4 269.4V266.1L1061.9 267.3V269.6L1062.6 268.5V270.9L1063.2 270.8V269L1063.9 268V271.6L1064.6 271V268.9L1065.3 271.4V274.8L1065.9 272.4V269.7L1066.6 270.4V274.7L1067.2 275.2V271.7L1067.8 273.2V273.6L1068.4 273.2V276.5L1069.1 276.3V274.6L1069.7 274.1V275.6L1070.3 275.6V274.2L1070.9 273.8V279.3L1071.4 277.3V274.4L1072 274.3V279.4L1072.6 278.6V276.2L1073.2 276.7V279L1073.8 279.5V276.3L1074.5 278.6V280.6L1075.1 280V277.5L1075.8 277.1V281L1076.5 281.5V278.5L1077.1 280.3V282.3L1077.8 281.8V279.2L1078.4 281V282.7L1079 283.3V280.3L1079.6 282.9V286.9L1080.3 283.8V282L1080.9 282.3V285.9L1081.5 286.1V282.3L1082 284.6V287.4L1082.7 287.1V281L1083.4 283.1V286.6L1084.1 285.4V287.8L1084.7 289.9V284.5L1085.4 287.2V290.7L1086 288.9V287L1086.7 286.2V290L1087.3 290.5V286.4L1087.9 287.5V290L1088.6 286.8V294.2L1089.2 291.6V286.4L1089.8 289V290.8L1090.4 289.4V293.4L1091.1 295V287.6L1091.8 290.1V293.3L1092.5 293.5V291L1093.1 291.1V294.4L1093.8 295.3V290.6L1094.4 292.1V295.6L1095 296.6V291.6L1095.7 293V295.6L1096.3 295.6V293.7L1096.9 293V296.8L1097.6 294.7V299.3L1098.3 299V294.2L1099 295.2V299.9L1099.6 298.9V294.3L1100.3 294V299.7L1100.9 300.1V297.1L1101.6 297.2V300.6L1102.2 300.1V297.1L1102.9 297.6V300.3L1103.5 301.3V299L1104.2 299.2V302.2L1104.9 303.9V299.1L1105.6 299.6V303.7L1106.2 303.9V300.9L1106.8 300.6V303.7L1107.5 304.2V300.7L1108.2 301.8V304.8L1108.9 305.7V302.3L1109.6 302.9V306.5L1110.2 307.8V303.8L1110.9 302.8V308.2L1111.5 307.6V303.8L1112.2 302.2V308.8L1112.9 309.7V304.2L1113.6 305.2V310.1L1114.3 309.2V305.6L1114.9 305.5V310.7L1115.6 311.8V306.1L1116.2 306.5V311.2L1116.9 313.2V307.9L1117.6 307.8V312.6L1118.3 314.4V307.2L1119 310.5V314.2L1119.6 313.6V310.3L1120.3 310.3V314.5L1120.9 316.2V311.1L1121.6 310.7V317.3L1122.3 316.2V312L1123 310.7V317L1123.6 317.4V311.5L1124.3 313V317.2L1125 318.7V314.4L1125.7 314.4V319.3L1126.4 319.7V315.6L1127 315.9V319.3L1127.7 320.5V315.6L1128.4 315.2V321.1L1129.1 321.6V317.2L1129.8 317.7V321.7L1130.4 322.2V319.4L1131.1 317.3V323.3L1131.8 323.4V318.2L1132.5 321.5V324.1L1133.1 324.5V319.9L1133.8 319.8V325.7L1134.5 326.6V320.7L1135.2 322.3V327L1135.9 327.3V322.8L1136.6 323.1V328L1137.3 328.9V324.8L1137.9 325.2V328.8L1138.6 329.6V326L1139.3 325.3V330.2L1140 332.4V326.8L1140.7 326.5V333.3L1141.4 332V327.4L1142 328.8V333L1142.7 333.8V329.1L1143.4 329V333.7L1144.1 334.7V330.6L1144.8 330.9V335.7L1145.4 336.8V330.9L1146.1 331.9V337.3L1146.8 337.5V331.4L1147.5 333.9V338.3L1148.2 339V333.3L1148.9 332.7V339.7L1149.6 340.1V334.6L1150.2 334V340L1150.9 340.2V335.7L1151.6 336.9V341.5L1152.3 342.6V337.3L1153 338.1V343.6L1153.7 343.5V338.7L1154.4 339V345.2L1155.1 345.2V337.8L1155.7 339.8V345.4L1156.4 344.8V339.3L1157.1 342.4V346.7L1157.8 347.2V342.7L1158.5 342.4V347L1159.2 348.8V343.5L1159.9 343.7V348.7L1160.6 349V342.3L1161.2 345.6V351.2L1161.9 350.6V345.2L1162.6 345.5V349.7L1163.3 351.5V346L1164 347V352.6L1164.7 352.3V346.5L1165.4 346.3V353.1L1166.1 353.3V347.9L1166.8 348.9V354.4L1167.4 354.7V348.6L1168.1 348.9V354.9L1168.8 356.5V350.3L1169.5 350.3V357.2L1170.2 357.3V351.4L1170.9 352.4V357.2L1171.6 358.1V352.1L1172.3 352.5V358.5L1173 359.3V352.1L1173.7 353.8V359.5L1174.4 360.6V355.2L1175.1 354.6V361.7L1175.8 361.1V354L1176.4 356.1V361.4L1177.1 361.3V355.8L1177.8 356.4V362.6L1178.5 363.6V358.2L1179.2 357.4V363.2L1179.9 363.7V358.7L1180.6 358.9V365.2L1181.3 364.6V359.9L1182 359V366.2L1182.7 366.4V360.5L1183.4 361.7V366.9L1184.1 366.8V362.1L1184.8 362.8V367.2L1185.4 369.9V362.5L1186.1 363.5V369.4L1186.8 370.2V364.1L1187.5 364.8V369.7L1188.2 372.1V364.6L1188.9 365V372L1189.6 371.8V364.4L1190.3 367.2V372.7L1191 375.4V367.3L1191.7 367.6V374.3L1192.4 374.6V368.1L1193.1 367.5V376L1193.8 376.1V370.1L1194.5 370.2V375.7L1195.2 377.6V370.7L1195.8 371.6V377.9L1196.5 378.1V372.2L1197.2 373.1V379.4L1197.9 378.7V373.5L1198.6 373.8V380.4L1199.3 380.7V375L1200 373.7V381.9L1200.7 381.9V375.3L1201.4 376.1V382.8L1202.1 382.7V376.2L1202.8 377.4V385L1203.5 384.3V378.3L1204.2 378.4V385.1L1204.9 384.7V378.3L1205.6 379.9V386.4L1206.3 386.5V380.4L1206.9 379.7V387.2L1207.6 388.2V381.9L1208.3 382.4V390.6L1209 389.9V382.2L1209.7 383.6V389.4L1210.4 390.8V383.2L1211.1 385.1V391.9L1211.8 391.3V384.6L1212.5 386.4V393.2L1213.2 393.2V386.5L1213.9 385.5V394.6L1214.6 394V387.6L1215.3 387.5V395.4L1216 396.5V388.2L1216.7 389.5V396.6L1217.4 396.7V389.7L1218.1 391.5V396.8L1218.8 398.8V391.3L1219.5 392.4V398.4L1220.2 399.1V393L1220.9 394V400L1221.6 400.4V393.7L1222.3 394.5V401L1223 401.8V396L1223.7 396V402.5L1224.3 403.1V396.5L1225 396.5V404.4L1225.7 405.3V398.1L1226.4 398.1V405.6L1227.1 405.6V398L1227.8 398.5V405.9L1228.5 407.1V399.3L1229.2 400.3V407.3L1229.9 408.1V400.6L1230.6 401.2V408.4L1231.3 409.1V403.1L1232 402.9V409.4L1232.7 410.4V402.6L1233.4 404.2V411.5L1234.1 411.6V404.4L1234.8 405.3V412.1L1235.5 411.8V406.5L1236.2 407.1V413.2L1236.9 414.2V407.1L1237.6 408.2V414.5L1238.2 415.2V407.8" fill="none" stroke="#6666ff" stroke-width="1" stroke-linejoin="miter" shape-rendering="crispEdges"/>
<path d="M749 428.2V175.5H803.3V181.8H828.5V187.6H845.2V205.2H857.6V222.1H867.5V224.4H875.8V215.9H882.9V199.1H889V197.7H894.5V219.8H899.5V224.9H904V225.6H908.1V223.4H911.9V226.2H915.4V224.3H918.7V225.7H921.8V224.8H924.7V224.5H927.5V226.4H930.1V224.6H932.6V225.9H934.9V225.7H937.2V224.9H939.3V226.7H941.4V226H943.3V223.7H945.2V223H947.1V222.7H948.8V224.3H950.5V222.7H952.2V221.5H953.8V221.9H955.3V225.1H956.8V225.5H958.3V222.7H959.7V221.5H961.1V223.1H962.4V221.7H963.7V222.6H965H966.2H967.4V222.7H968.6V223.7H969.7V220.8H970.9V222.1H972V224.1H973V223.8H974.1V224.9H975.1V223H976.1V225.5H977.1V224.2H978.1V222.9H979V223.2H980V223.2H980.9V225.6H981.8V223.1H982.7V224.3H983.5V222.5H984.4V224.7H985.2V222.2H986V223.9H986.9V223.5H987.6V225.1H988.4V225.1H989.2H990V223.7H990.7V225.8H991.5V225.6H992.2V224.2H992.9V225.3H993.6L994 226.6L994.6 226.1L995.3 228.5L996 228.9L996.7 226.6L997.3 223.9L998 225.1L998.6 224.7L999.2 227.4L999.8 229L1000.5 227.2L1001.1 230.3L1001.7 232.7L1002.3 228.7L1002.8 228.1L1003.4 228.7L1004 227.8L1004.6 229.1L1005.1 229.8L1005.7 231.8L1006.2 230.8L1006.8 232.4L1007.3 231.5L1007.8 228.8L1008.3 231.1L1008.9 231.1L1009.4 232.7L1009.9 228.7L1010.4 234.8L1010.9 233.7L1011.4 231.5L1011.9 233.9L1012.3 234.2L1012.8 232.7L1013.3 232.7L1013.8 233L1014.2 235.1L1014.7 233.3L1015.1 236L1015.6 235.9L1016 236.2L1016.5 234.7L1016.9 235.7L1017.4 236.7L1017.8 235.6L1018.2 237.2L1018.6 236.7L1019.1 236.7L1019.5 237.2L1019.9 237.9L1020.3 238.4L1020.7 235.6L1021.1 239.9L1021.5 237L1021.9 238.6L1022.3 238.7L1022.7 240.2L1023.1 238.2L1023.5 239L1023.8 237.1L1024.2 239.4L1024.6 240.2L1025 240.5L1025.3 237.9L1025.7 238.6L1026.1 239.9L1026.4 237.5L1026.8 239.5L1027.2 240.4L1027.5 239.5L1028 240.3V241.7L1028.7 242.1V240L1029.4 240.3V241.6L1030.1 240.4V243L1030.8 242.9V241.7L1031.4 242.5V244.5L1032.1 241.5V240L1032.7 243.9V244.1L1033.3 242.7V246.5L1034 247.9V243.5L1034.6 246.6V247.5L1035.2 247.1V245.7L1035.8 247.7V248.6L1036.4 248.2V247.9L1037 247.6V247.4L1037.5 248.5V248.7L1038.1 249.4V251.7L1038.7 252.3V249.8L1039.2 251.8V252.3L1039.8 251.8V250.8L1040.3 252.6V253L1040.9 252.3V250.9L1041.4 254.1V255.5L1041.9 254.3V253L1042.5 255.5V255.9L1043 255.5V255.2L1043.5 258.5V259L1044 257.7V257.5L1044.5 259.1V260.1L1045 260.6V262.3L1045.5 263.1V259.3L1046 262.4V263.5L1046.5 260.7V260.6L1047 261.1V262.1L1047.4 259.7V257.9L1048 259V261.6L1048.7 258.8V257L1049.4 257.5V260.7L1050.1 259V258.2L1050.7 257.4V259.8L1051.4 260.2V258.5L1052 259.8V263.2L1052.7 263.5V259.1L1053.3 259.7V262.9L1053.9 263.4V261.6L1054.6 262.6V260.1L1055.2 262.4V263.8L1055.8 263.4V261.4L1056.4 261.6V265.9L1057 267.1V262.6L1057.5 264.2V266.1L1058.1 266.7V265.2L1058.7 265.9V266.4L1059.2 266.3V267.6L1059.8 268.4V266.3L1060.3 265.1V268.5L1060.9 268.7V268L1061.4 267.5V269.6L1061.9 268.6V268.1L1062.6 267.3V272.3L1063.2 271.6V267.2L1063.9 269V271.4L1064.6 270.9V269.5L1065.3 270.5V272.8L1065.9 273.3V271.1L1066.6 271.6V273.4L1067.2 273.8V271.8L1067.8 271.7V274.6L1068.4 274.1V271.2L1069.1 273.7V274.9L1069.7 276.1V272.3L1070.3 273.1V276.2L1070.9 275.1V277.4L1071.4 278.6V276.2L1072 275.5V277.7L1072.6 279.6V275.7L1073.2 276.6V278.7L1073.8 276.6V282.9L1074.5 280.8V277.3L1075.1 278.9V282.2L1075.8 281.5V279.3L1076.5 280.2V280.7L1077.1 280.9V283.1L1077.8 282.2V279.8L1078.4 280.9V283.2L1079 284.5V281.6L1079.6 280.9V283.4L1080.3 282.5V285.9L1080.9 286.5V283.3L1081.5 285.8V280.9L1082 282V287.1L1082.7 287.9V284.3L1083.4 284.9V286.8L1084.1 287.9V283.7L1084.7 285.7V287.6L1085.4 288.7V286.3L1086 286.2V288.8L1086.7 289.6V285.2L1087.3 286.2V290.2L1087.9 290V287.9L1088.6 288.3V290.2L1089.2 291.3V288.7L1089.8 289.7V292.6L1090.4 292.5V290.1L1091.1 288.2V293.2L1091.8 293.5V289.6L1092.5 291.4V294.2L1093.1 294.4V289.1L1093.8 291.3V295L1094.4 295.9V291.8L1095 290.6V295.4L1095.7 297.6V293.1L1096.3 294.1V297.7L1096.9 297.1V294L1097.6 295.1V299L1098.3 299.5V295L1099 295.7V298.6L1099.6 299.1V294.7L1100.3 296.7V300.4L1100.9 299.3V294.9L1101.6 297.6V300.7L1102.2 301.4V296.7L1102.9 298.3V301.6L1103.5 303.1V299.2L1104.2 298V302.7L1104.9 303.6V300.1L1105.6 299.1V303.3L1106.2 304.5V299.2L1106.8 300V303.9L1107.5 304.7V300.7L1108.2 300.8V304.5L1108.9 305.8V301.2L1109.6 302.6V305L1110.2 306.5V302.7L1110.9 304.3V307.2L1111.5 307.2V304.8L1112.2 304.6V310.3L1112.9 309.2V305.3L1113.6 305.2V308.9L1114.3 311.1V306L1114.9 306.4V310.5L1115.6 310.7V306.7L1116.2 307.6V312.9L1116.9 311V308.4L1117.6 309.3V315.4L1118.3 313.1V308.8L1119 310V313.9L1119.6 315.1V310L1120.3 310V313.4L1120.9 315.2V310.9L1121.6 312.6V315.6L1122.3 315.7V313L1123 312.2V316.9L1123.6 316.3V311.5L1124.3 314.2V317.9L1125 318.6V313.4L1125.7 314.3V319.3L1126.4 318.8V314.8L1127 315.4V319.6L1127.7 320V316.2L1128.4 316.9V321.8L1129.1 319.9V316.7L1129.8 317.3V322.1L1130.4 322.5V319.4L1131.1 318.6V322.9L1131.8 324V319.9L1132.5 319.7V323.8L1133.1 325.8V321.7L1133.8 322.5V325.8L1134.5 327.1V321.9L1135.2 322.6V328.6L1135.9 327.6V323.7L1136.6 323.9V327.7L1137.3 329.5V323.9L1137.9 323.6V330.5L1138.6 330.5V326.8L1139.3 326.5V331.5L1140 331V326.3L1140.7 326.9V331.2L1141.4 332V327L1142 328.4V333.4L1142.7 332.7V328.4L1143.4 329.4V333.1L1144.1 334.3V329.9L1144.8 331.4V336.4L1145.4 336.1V331.1L1146.1 331.5V335.5L1146.8 337.8V331.7L1147.5 332.8V337.6L1148.2 338.3V333.8L1148.9 334.8V339.1L1149.6 339V335.9L1150.2 334.5V340.5L1150.9 340.7V335.7L1151.6 336.4V342.4L1152.3 341.9V336L1153 337.2V343.3L1153.7 342.7V338.2L1154.4 338.4V344.6L1155.1 344.2V340L1155.7 340V346.3L1156.4 345V332.4L1157.1 325.9V346.5L1157.8 346.3V341.1L1158.5 341.1V346.6L1159.2 348.8V338.2L1159.9 344.1V348.4L1160.6 349.1V326.8L1161.2 344.1V349.6L1161.9 350.5V344.6L1162.6 345.4V351.1L1163.3 352.6V343.7L1164 336.5V351.2L1164.7 352.9V347.5L1165.4 347.2V352.8L1166.1 354.2V347.9L1166.8 349.6V353.8L1167.4 354V226.5L1168.1 348.9V355.4L1168.8 355.4V349.2L1169.5 356.3V337.6L1170.2 351.2V356.1L1170.9 356.4V352L1171.6 350.2V357.2L1172.3 358.2V344.7L1173 353.6V358.4L1173.7 359.1V353.5L1174.4 354.1V360.2L1175.1 360.4V355.6L1175.8 354.9V360L1176.4 361.2V356.8L1177.1 356.4V361.8L1177.8 363.4V357.1L1178.5 357.4V363.1L1179.2 363.9V358.2L1179.9 363.4V336.8L1180.6 357.9V366.7L1181.3 365.3V232.5L1182 357.6V366.3L1182.7 365.3V344L1183.4 361.8V366.5L1184.1 367V235.3L1184.8 362.9V367.7L1185.4 367.6V362.7L1186.1 358.6V369.7L1186.8 369.2V243.1L1187.5 359.4V369.8L1188.2 370V365.2L1188.9 370.9V353.1L1189.6 366.4V372.7L1190.3 372.7V366.5L1191 368.3V373.1L1191.7 374.2V359L1192.4 369.5V374.7L1193.1 375.6V369.5L1193.8 374.9V352.5L1194.5 345.8V377.7L1195.2 377.9V363.7L1195.8 366.5V376.3L1196.5 377.4V371.9L1197.2 366.4V378.2L1197.9 379.3V348.1L1198.6 374.1V380.5L1199.3 381.3V374.3L1200 369.6V380.5L1200.7 382.7V372.6L1201.4 382.5V216.8L1202.1 377.2V383L1202.8 383.5V376L1203.5 377.4V383.6L1204.2 385.2V377.9L1204.9 379.4V385.2L1205.6 387.1V380.5L1206.3 379.6V386.6L1206.9 387.1V359.6L1207.6 368.8V387.8L1208.3 387.6V382.2L1209 382.9V388.7L1209.7 389.5V381L1210.4 376.5V390.4L1211.1 392V375.5L1211.8 385.1V391.3L1212.5 392.5V385.7L1213.2 387.3V393.1L1213.9 394.5V387.3L1214.6 393.9V378.5L1215.3 394.2V211.8L1216 389.3V396.6L1216.7 396.4V389.2L1217.4 382V397.4L1218.1 397V212.7L1218.8 376.7V397.3L1219.5 400.3V232.5L1220.2 393.4V399.4L1220.9 399.6V214.8L1221.6 393.2V400.2L1222.3 402.1V395L1223 394.6V401.7L1223.7 402.3V395.2L1224.3 397V403.1L1225 403.6V397.7L1225.7 397.5V404L1226.4 404.5V398.7L1227.1 405.3V383.3L1227.8 399.3V405.2L1228.5 406.7V400L1229.2 400.7V406.4L1229.9 407.8V401.7L1230.6 408.1V387.1L1231.3 401.6V408.5L1232 409.5V389.6L1232.7 401.8V410.3L1233.4 411.5V404.5L1234.1 404V410.7L1234.8 413V404.8L1235.5 406V412.3L1236.2 412.8V406.4L1236.9 405.5V414L1237.6 415.6V406.8L1238.2 408.1V414.7" fill="none" stroke="#cc00cc" stroke-width="1" stroke-linejoin="miter" shape-rendering="crispEdges"/>
<text x="993" y="152.3" class="tt" text-anchor="middle">SDB1_LC_TX__FFT</text>
<text transform="translate(675.3 173.2) rotate(-90)" class="yt" text-anchor="end">urad/sqrt(Hz)</text>
<text x="742.3" y="183.9" class="al" text-anchor="end">10<tspan class="sp" dy="-8.5">-1</tspan></text>
<text x="742.3" y="229.9" class="al" text-anchor="end">10<tspan class="sp" dy="-8.5">-2</tspan></text>
<text x="742.3" y="276" class="al" text-anchor="end">10<tspan class="sp" dy="-8.5">-3</tspan></text>
<text x="742.3" y="322" class="al" text-anchor="end">10<tspan class="sp" dy="-8.5">-4</tspan></text>
<text x="742.3" y="368.1" class="al" text-anchor="end">10<tspan class="sp" dy="-8.5">-5</tspan></text>
<text x="742.3" y="414.1" class="al" text-anchor="end">10<tspan class="sp" dy="-8.5">-6</tspan></text>
<text x="817.5" y="455.7" class="al" text-anchor="middle">1</text>
<text x="931.3" y="455.7" class="al" text-anchor="middle">10</text>
<text x="1031.1" y="455.7" class="al" text-anchor="start">10<tspan class="sp" dy="-9">2</tspan></text>
<text x="1145" y="455.7" class="al" text-anchor="start">10<tspan class="sp" dy="-9">3</tspan></text>
<text x="1238.5" y="468.2" class="hz" text-anchor="end">Hz</text>
<text x="958.5" y="497.2" class="mg" text-anchor="middle">1449493354.0000 Dec11 2025 13:02:16 UTC</text>
<text x="958.5" y="521.7" class="bk" text-anchor="middle">1449493624.00 Dec11 2025 13:06:46 UTC dt:2s nAv:60</text>
<path d="M1396.5 175.5V428.2M1410.5 175.5V428.2M1421.5 175.5V428.2M1430.5 175.5V428.2M1438.5 175.5V428.2M1444.5 175.5V428.2M1450.5 175.5V428.2M1455.5 175.5V428.2M1489.5 175.5V428.2M1510.5 175.5V428.2M1524.5 175.5V428.2M1535.5 175.5V428.2M1544.5 175.5V428.2M1551.5 175.5V428.2M1558.5 175.5V428.2M1564.5 175.5V428.2M1569.5 175.5V428.2M1603.5 175.5V428.2M1623.5 175.5V428.2M1638.5 175.5V428.2M1649.5 175.5V428.2M1658.5 175.5V428.2M1665.5 175.5V428.2M1672.5 175.5V428.2M1678.5 175.5V428.2M1683.5 175.5V428.2M1717.5 175.5V428.2M1737.5 175.5V428.2M1751.5 175.5V428.2M1762.5 175.5V428.2M1771.5 175.5V428.2M1779.5 175.5V428.2M1786.5 175.5V428.2M1791.5 175.5V428.2M1797.5 175.5V428.2M1831.5 175.5V428.2M1851.5 175.5V428.2M1865.5 175.5V428.2M1876.5 175.5V428.2M1387.2 396.5H1876.7M1387.2 354.5H1876.7M1387.2 311.5H1876.7M1387.2 269.5H1876.7M1387.2 226.5H1876.7M1387.2 184.5H1876.7" stroke="#000" stroke-opacity=".6" stroke-width="1" stroke-dasharray="1 2" fill="none" shape-rendering="crispEdges"/>
<rect x="1387.2" y="175.5" width="489.5" height="252.7" fill="none" stroke="#000" stroke-width="1.3"/>
<path d="M1396.5 428.2v-5M1410.5 428.2v-5M1421.5 428.2v-5M1430.5 428.2v-5M1438.5 428.2v-5M1444.5 428.2v-5M1450.5 428.2v-5M1455.5 428.2v-10M1489.5 428.2v-5M1510.5 428.2v-5M1524.5 428.2v-5M1535.5 428.2v-5M1544.5 428.2v-5M1551.5 428.2v-5M1558.5 428.2v-5M1564.5 428.2v-5M1569.5 428.2v-10M1603.5 428.2v-5M1623.5 428.2v-5M1638.5 428.2v-5M1649.5 428.2v-5M1658.5 428.2v-5M1665.5 428.2v-5M1672.5 428.2v-5M1678.5 428.2v-5M1683.5 428.2v-10M1717.5 428.2v-5M1737.5 428.2v-5M1751.5 428.2v-5M1762.5 428.2v-5M1771.5 428.2v-5M1779.5 428.2v-5M1786.5 428.2v-5M1791.5 428.2v-5M1797.5 428.2v-10M1831.5 428.2v-5M1851.5 428.2v-5M1865.5 428.2v-5M1876.5 428.2v-5M1387.2 426.5h5.5M1387.2 418.5h5.5M1387.2 413.5h5.5M1387.2 409.5h5.5M1387.2 405.5h5.5M1387.2 402.5h5.5M1387.2 400.5h5.5M1387.2 398.5h5.5M1387.2 396.5h11.5M1387.2 383.5h5.5M1387.2 376.5h5.5M1387.2 370.5h5.5M1387.2 366.5h5.5M1387.2 363.5h5.5M1387.2 360.5h5.5M1387.2 358.5h5.5M1387.2 355.5h5.5M1387.2 354.5h11.5M1387.2 341.5h5.5M1387.2 333.5h5.5M1387.2 328.5h5.5M1387.2 324.5h5.5M1387.2 321.5h5.5M1387.2 318.5h5.5M1387.2 315.5h5.5M1387.2 313.5h5.5M1387.2 311.5h11.5M1387.2 298.5h5.5M1387.2 291.5h5.5M1387.2 286.5h5.5M1387.2 281.5h5.5M1387.2 278.5h5.5M1387.2 275.5h5.5M1387.2 273.5h5.5M1387.2 271.5h5.5M1387.2 269.5h11.5M1387.2 256.5h5.5M1387.2 248.5h5.5M1387.2 243.5h5.5M1387.2 239.5h5.5M1387.2 236.5h5.5M1387.2 233.5h5.5M1387.2 230.5h5.5M1387.2 228.5h5.5M1387.2 226.5h11.5M1387.2 214.5h5.5M1387.2 206.5h5.5M1387.2 201.5h5.5M1387.2 197.5h5.5M1387.2 193.5h5.5M1387.2 190.5h5.5M1387.2 188.5h5.5M1387.2 186.5h5.5M1387.2 184.5h11.5" stroke="#000" stroke-width="1" fill="none" shape-rendering="crispEdges"/>
<path d="M1387.2 184.4H1441.5V190.5H1466.7V188.4H1483.4V187.8H1495.8V197.1H1505.7V232.5H1514V234.2H1521.1V236.1H1527.2V237.4H1532.7V237H1537.7V239.7H1542.2V236.3H1546.3V236.4H1550.1V238H1553.6V239.2H1556.9V238.3H1560V236.5H1562.9V237.9H1565.7V238.4H1568.3V237.1H1570.8V237.6H1573.1V239.3H1575.4V237.8H1577.5V238.9H1579.6V238.3H1581.5V239.1H1583.4H1585.3V239.6H1587V237.1H1588.7V237.6H1590.4V239.9H1592V237H1593.5V234.3H1595V218.3H1596.5V202.2H1597.9V201.8H1599.3V216.2H1600.6V238.2H1601.9V236.7H1603.2V239.5H1604.4V237.5H1605.6V239.5H1606.8V238.9H1607.9V238.7H1609.1V240.9H1610.2V239.8H1611.2V240.7H1612.3V237.4H1613.3V238.6H1614.3V238.3H1615.3V238.6H1616.3V240.1H1617.2V238.5H1618.2V238.9H1619.1V240.4H1620V239.1H1620.9V236.8H1621.7V237H1622.6V239.5H1623.4V239.2H1624.2V241.7H1625.1V239.4H1625.8V241.1H1626.6V240.8H1627.4V238.8H1628.2V241.9H1628.9V238.1H1629.7V240.6H1630.4V239.1H1631.1V239.7H1631.8L1632.2 242L1632.8 241.9L1633.5 242.7L1634.2 241.4L1634.9 242.3L1635.5 242.7L1636.2 240.2L1636.8 240.5L1637.4 240.3L1638 242.4L1638.7 243.5L1639.3 241.6L1639.9 243L1640.5 243.2L1641 241.4L1641.6 242.6L1642.2 245.1L1642.8 246.2L1643.3 244.8L1643.9 245.1L1644.4 244.2L1645 243L1645.5 244.6L1646 245.2L1646.5 247.3L1647.1 246.3L1647.6 244.2L1648.1 245.8L1648.6 247.7L1649.1 245.8L1649.6 248.4L1650.1 247.7L1650.5 248.1L1651 245.9L1651.5 248.1L1652 246.1L1652.4 245.3L1652.9 247.4L1653.3 248.1L1653.8 249.4L1654.2 245.6L1654.7 248.4L1655.1 247.8L1655.6 248.6L1656 249.3L1656.4 248.6L1656.8 251L1657.3 247.1L1657.7 250.4L1658.1 249.9L1658.5 250L1658.9 250.5L1659.3 248.7L1659.7 252.9L1660.1 250.2L1660.5 249L1660.9 251.5L1661.3 251.8L1661.7 249.7L1662 251.8L1662.4 253.6L1662.8 249.7L1663.2 250.2L1663.5 253.5L1663.9 250.8L1664.3 251.9L1664.6 253.4L1665 255.9L1665.4 252.6L1665.7 251.2L1666.2 254.1V254.3L1666.9 254.2V254L1667.6 253.2V251.8L1668.3 253.7V255.2L1669 255V253.1L1669.6 253.9V255.3L1670.3 254.8V256.6L1670.9 257.4V254.9L1671.5 255.3V257.5L1672.2 256.8V259.9L1672.8 258.8V258.5L1673.4 259V255L1674 257.3V258.2L1674.6 259.4V259.6L1675.2 259.7V259.2L1675.7 260V261.2L1676.3 262.1V262.6L1676.9 262.4V261.9L1677.4 261.5V263.9L1678 262.8V262.2L1678.5 261.9V261.5L1679.1 262.6V263.5L1679.6 263.7L1680.1 265V261L1680.7 264.3V265L1681.2 265V264.3L1681.7 265.7V266.1L1682.2 267.9V268.3L1682.7 267.6V267.3L1683.2 267V270.6L1683.7 267.8V267.5L1684.2 268.1V269.8L1684.7 268.4V264.8L1685.2 267.5V269.9L1685.6 269.7V267.4L1686.2 267.1V266L1686.9 266.8V267.8L1687.6 266.8V268.9L1688.3 269.3V266L1688.9 267.5V270.1L1689.6 269.5V266.9L1690.2 268.6V270.1L1690.9 270.2V268L1691.5 268.2V270.1L1692.1 271.3V268.8L1692.8 270.3V272.2L1693.4 273.3V269.8L1694 271.2V272.9L1694.6 274.5V269.7L1695.2 272.3V273.9L1695.7 274.1V268.8L1696.3 272V274.5L1696.9 276.2V272.2L1697.4 272.6V274.1L1698 274V274.4L1698.5 274.9V272.8L1699.1 273.6V274.7L1699.6 274.9V273L1700.1 275.1V276.4L1700.8 275.4V277.7L1701.4 277V275L1702.1 276V277.8L1702.8 276.8V275.3L1703.5 275.3V278.9L1704.1 277.4V280.5L1704.8 279.1V277.7L1705.4 279.1V275.4L1706 276.9V278.3L1706.6 279.8V276.2L1707.3 278.9V280L1707.9 277.9V282.6L1708.5 282.4V279.9L1709.1 278.6V282.5L1709.6 283.7V280.2L1710.2 280.6V281.7L1710.8 281V284.8L1711.4 284.6V282.5L1712 281.9V286.3L1712.7 287.2V284.1L1713.3 282.9V286.5L1714 286V285.2L1714.7 285.9V289.6L1715.3 287.8V286.8L1716 287.2V290L1716.6 290.2V286.6L1717.2 288.7V292.1L1717.8 291.6V289.5L1718.5 289.1V292.4L1719.1 292.7V290L1719.7 290.7V293.2L1720.2 294.6V290.6L1720.9 290.6V293.6L1721.6 293.2V289.5L1722.3 291.6V295.2L1722.9 295V291.1L1723.6 291.4V295.5L1724.2 295.4V292.9L1724.9 293.4V296.6L1725.5 297.1V293.8L1726.1 293.6V296.8L1726.8 298.3V295.1L1727.4 295.3V295.6L1728 295.8V298.2L1728.6 299.3V296.1L1729.3 295.1V299.2L1730 301V296.9L1730.7 296.6V299.9L1731.3 302V297.5L1732 297.4V300.8L1732.6 303.4V298L1733.2 298.5V302.6L1733.9 301V299.9L1734.5 298.7V302.2L1735.1 303.2V300.4L1735.8 300.4V303.9L1736.5 304.2V300.7L1737.2 300.9V304.7L1737.8 306.3V301.5L1738.5 301.9V305.6L1739.1 305.5V301.1L1739.8 302.4V306.8L1740.4 306.5V303L1741.1 303.1V307.2L1741.7 307.5V303.3L1742.4 303.6V308.2L1743.1 307.6V303.5L1743.8 304.4V308.2L1744.4 309.3V305.8L1745 305.7V310.1L1745.7 310.3V305.2L1746.4 307V309.5L1747.1 311V306.9L1747.8 308.7V311.9L1748.4 312.5V308.3L1749.1 308.2V313.4L1749.7 313.1V310.7L1750.4 310V315.9L1751.1 313.9V310.2L1751.8 310.6V314.3L1752.5 315V312.1L1753.1 310.4V316.7L1753.8 317.1V312.5L1754.4 313.2V318.3L1755.1 316.8V314.7L1755.8 314.6V319.4L1756.5 319.1V314.5L1757.2 314.4V318.6L1757.8 319.9V315.9L1758.5 316.6V320.5L1759.1 320.4V317.2L1759.8 318.1V320.7L1760.5 321.4V317.9L1761.2 317.9V321.5L1761.8 322.2V319.4L1762.5 319.5V323.3L1763.2 323.2V319.2L1763.9 318.9V324.4L1764.6 324.6V321.6L1765.2 321.6V325.1L1765.9 325.8V322.6L1766.6 322.8V326.2L1767.3 327.1V322.5L1768 322.4V326.6L1768.6 327.9V324.3L1769.3 323.4V329.4L1770 330.6V324.5L1770.7 324.6V328.9L1771.3 330.5V325.5L1772 327.5V331.7L1772.7 330.7V327L1773.4 326.2V331.6L1774.1 333.5V328.6L1774.8 327.8V333.5L1775.5 335.5V329.3L1776.1 330.5V335.6L1776.8 334.1V330.4L1777.5 330V335.1L1778.2 335.5V330.9L1778.9 331.7V336.1L1779.6 336.5V330.6L1780.2 332.3V336.9L1780.9 338.5V332.1L1781.6 332.3V338.6L1782.3 339.4V335.4L1783 335.5V340.2L1783.6 339.1V335.8L1784.3 335V341.5L1785 341.7V337.1L1785.7 335.8V341.2L1786.4 341.9V336.7L1787.1 337.8V342.5L1787.8 344.5V338.9L1788.4 338.7V343.4L1789.1 344.5V338.9L1789.8 341V344.6L1790.5 346.1V340.2L1791.2 341.5V345.4L1791.9 346.4V341.8L1792.6 342.1V347L1793.3 347.4V342.7L1793.9 342.1V348.6L1794.6 348.9V343.8L1795.3 344.5V349.1L1796 351V344.7L1796.7 344.5V350.2L1797.4 350.9V344.1L1798.1 346.5V350.9L1798.8 351.3V346.3L1799.4 347.3V352.5L1800.1 353.4V347.4L1800.8 347.8V353.5L1801.5 353.6V348.2L1802.2 348.9V354.6L1802.9 356V349.9L1803.6 350.5V355.8L1804.3 357.5V350.3L1805 351.1V356.9L1805.6 357.3V351.8L1806.3 352.1V357.4L1807 358V353.1L1807.7 353.2V358.7L1808.4 359.4V354.4L1809.1 352.9V359.1L1809.8 360V354.9L1810.5 355.4V361.2L1811.2 361.1V356.9L1811.9 356.6V362L1812.6 363.3V357.3L1813.3 357V362.2L1814 363.1V358.5L1814.6 358.5V364.2L1815.3 366.2V358.9L1816 359.4V365.4L1816.7 365.8V360.2L1817.4 361.4V366.7L1818.1 367.4V362L1818.8 361.1V366.9L1819.5 368.4V362.6L1820.2 362.8V368.6L1820.9 367.9V364.7L1821.6 363.9V369.5L1822.3 371.2V365.4L1823 364.8V370.5L1823.6 371.6V365.8L1824.3 366V371.7L1825 373.9V367.3L1825.7 365.9V373.7L1826.4 374V368.5L1827.1 369V374.5L1827.8 375.6V368.3L1828.5 370.4V375L1829.2 376.1V370.6L1829.9 369.6V376.5L1830.6 376.4V370.9L1831.3 371.6V377.7L1832 378.6V372.8L1832.7 373.2V378.8L1833.4 379.8V374L1834 374.7V379.7L1834.7 380.6V375.4L1835.4 374.8V382.7L1836.1 381.9V375.9L1836.8 377.4V383.8L1837.5 382.3V376.9L1838.2 378.6V384.2L1838.9 383.9V378.9L1839.6 378.7V384.7L1840.3 385V379.5L1841 380.1V385.9L1841.7 387.5V381.3L1842.4 380.7V387.4L1843.1 388.6V381.7L1843.8 381.5V388.7L1844.5 388.6V383.4L1845.1 384V389.6L1845.8 390.3V384.3L1846.5 384.5V391L1847.2 391.9V385L1847.9 385.2V392.9L1848.6 392.4V385.4L1849.3 385.4V392.8L1850 394.1V387.2L1850.7 388.7V394.6L1851.4 396.1V389.5L1852.1 388.7V395.7L1852.8 395.9V390.2L1853.5 390.5V396.9L1854.2 397.1V392L1854.9 392.4V397.4L1855.6 399.2V392.7L1856.3 392.7V399.1L1857 400.1V393.4L1857.7 394.7V399.9L1858.4 401.9V394.7L1859.1 395.2V402.1L1859.8 401.8V396.3L1860.5 396.9V402.7L1861.2 403.8V397L1861.9 398.3V404.2L1862.5 404.7V398.4L1863.2 398.2V406.1L1863.9 405.4V398L1864.6 399.8V406.4L1865.3 406.8V400.1L1866 401.6V407.8L1866.7 407.6V401.4L1867.4 402.6V408L1868.1 409.2V402.4L1868.8 402.1V410.4L1869.5 411.1V404.3L1870.2 404.8V410.3L1870.9 411.5V404.6L1871.6 405.6V411.6L1872.3 411.9V404.3L1873 406.8V412.6L1873.7 412.8V407.6L1874.4 406.8V414.1L1875.1 414.6V407.7L1875.8 409.3V414.8L1876.4 416V409.2" fill="none" stroke="#6666ff" stroke-width="1" stroke-linejoin="miter" shape-rendering="crispEdges"/>
<path d="M1387.2 428.2V179.7H1441.5V186.7H1466.7V187.5H1483.4H1495.8V196.8H1505.7V233.2H1514V238.2H1521.1V239.1H1527.2V238.7H1532.7V237.4H1537.7V238.5H1542.2V238.9H1546.3V239.8H1550.1V239.7H1553.6V237.1H1556.9V238.9H1560V240.5H1562.9V238.3H1565.7V239H1568.3V239.1H1570.8V239.4H1573.1V236.5H1575.4V236H1577.5V238.9H1579.6V238.5H1581.5V238.7H1583.4V239.3H1585.3V238.4H1587V237.7H1588.7V238.8H1590.4V237.9H1592V237.7H1593.5V237.2H1595V218.3H1596.5V202.2H1597.9V201.8H1599.3V216.2H1600.6V240.1H1601.9V239.9H1603.2H1604.4V238.7H1605.6V238.8H1606.8V239.5H1607.9V236.8H1609.1V239.2H1610.2V239.3H1611.2V239.5H1612.3V237.2H1613.3V237H1614.3V239.4H1615.3V238.2H1616.3V238H1617.2V240.4H1618.2V240.8H1619.1V240.5H1620V235.8H1620.9V238.4H1621.7H1622.6V238.9H1623.4V239.3H1624.2V236.5H1625.1V239.7H1625.8V238.6H1626.6V236.5H1627.4V239.9H1628.2V239.8H1628.9V240.3H1629.7V241.6H1630.4V240.6H1631.1V239.1H1631.8L1632.2 241.2L1632.8 241L1633.5 242.8L1634.2 244.3L1634.9 240.5L1635.5 243.7L1636.2 242.8L1636.8 242.8L1637.4 240.8L1638 244.3L1638.7 242L1639.3 245.5L1639.9 242.5L1640.5 242.2L1641 243.5L1641.6 243.6L1642.2 243.9L1642.8 243.2L1643.3 245.2L1643.9 241.6L1644.4 245.5L1645 245.2L1645.5 245.5L1646 245.5L1646.5 246.5L1647.1 246.3L1647.6 248.2L1648.1 248.8L1648.6 248.1L1649.1 246.2L1649.6 244.8L1650.1 248.8L1650.5 247.2L1651 249L1651.5 246.4L1652 247.9L1652.4 244L1652.9 248.7L1653.3 246.4L1653.8 248.4L1654.2 248.6L1654.7 247.8L1655.1 250L1655.6 247.8L1656 249.7L1656.4 248.4L1656.8 248.5L1657.3 252L1657.7 250.5L1658.1 249.9L1658.5 250.9L1658.9 249.7L1659.3 250L1659.7 251L1660.1 249.9L1660.5 251L1660.9 251.8L1661.3 250.3L1661.7 251.7L1662 250.7L1662.4 252.5L1662.8 252.6L1663.2 252.7L1663.5 252.2L1663.9 254.8L1664.3 252.3L1664.6 253.1L1665 253.4L1665.4 254.7L1665.7 253.2L1666.2 253.2V252.7L1666.9 253.3V253.9L1667.6 253.4V254.7L1668.3 254.2V256.5L1669 256.2V254.7L1669.6 254.9V255.9L1670.3 255.8V254.6L1670.9 256.2V257.8L1671.5 258.1V259.2L1672.2 257.8V257L1672.8 256.2V259.3L1673.4 260V260.6L1674 260.4V258.9L1674.6 258.6V259.9L1675.2 259.8V259.7L1675.7 259.3V260.7L1676.3 261.5V262.1L1676.9 261.7V261.1L1677.4 261.5V263.5L1678 263.7V262.1L1678.5 263.5V260.4L1679.1 261.9V264.2L1679.6 264.7V262.8L1680.1 264.4L1680.7 264.3V262.5L1681.2 265.9V266.5L1681.7 267V264.8L1682.2 265.8V267.9L1682.7 267.5V265.9L1683.2 268.3V269.2L1683.7 268.2V266.3L1684.2 266.5V268L1684.7 266.5V266.2L1685.2 268.5V268.6L1685.6 268.1V266.9L1686.2 266.3V268.4L1686.9 267.5V266.8L1687.6 266.5V269L1688.3 270.1V267.2L1688.9 267V270.7L1689.6 271.5V268.5L1690.2 267.3V270.3L1690.9 270.4V269L1691.5 269.6V272.5L1692.1 271.7V269.1L1692.8 270V271.2L1693.4 272V269.8L1694 270.4V271.9L1694.6 271.3V273.2L1695.2 272.5V270.5L1695.7 271.5V273.9L1696.3 273.4V275L1696.9 273.6V271.9L1697.4 271V274L1698 273.3V275.1L1698.5 276.1V273.1L1699.1 275.3V276.8L1699.6 274.7V273.3L1700.1 272.9V276.3L1700.8 274.2V278.6L1701.4 277.9V275.6L1702.1 274.8V278.6L1702.8 278V274.9L1703.5 275.3V277.7L1704.1 278.8V276.1L1704.8 274.2V279.9L1705.4 279.8V276.3L1706 276.6V280.1L1706.6 281.1V278.1L1707.3 278.5V281.2L1707.9 281.2V278.3L1708.5 279.2V280.2L1709.1 280V282.5L1709.6 282.7V280L1710.2 281V283.4L1710.8 285.7V280.5L1711.4 281.4V285.7L1712 284.8V283.8L1712.7 284.6V287.4L1713.3 287V285.4L1714 284.2V288.8L1714.7 288.6V286.7L1715.3 286V288.5L1716 289V286.6L1716.6 286.6V290.2L1717.2 291.1V287.6L1717.8 287.7V289.7L1718.5 289.5V292.7L1719.1 292.7V289.1L1719.7 290.1V293.9L1720.2 291.8V290.2L1720.9 291.2V293.6L1721.6 293.5V290.9L1722.3 291.9V294.7L1722.9 296.2V292.6L1723.6 292.3V296.5L1724.2 295.8V292.8L1724.9 293.2V297.1L1725.5 297.2V292.5L1726.1 294V297.2L1726.8 297.4V294.2L1727.4 294V297.7L1728 298.9V295.6L1728.6 295.5V298.5L1729.3 299V296.6L1730 296V299.9L1730.7 300.6V297.2L1731.3 297.9V300.8L1732 301.9V297.5L1732.6 297.9V302.5L1733.2 302.3V298.7L1733.9 299.4V301.9L1734.5 302.5V299.8L1735.1 297.7V303.3L1735.8 302.8V300.3L1736.5 300.5V304.1L1737.2 303.8V300.6L1737.8 301.1V305L1738.5 304.8V301.8L1739.1 303.7V306.1L1739.8 306.6V303.1L1740.4 303.6V306.5L1741.1 307.2V303.5L1741.7 304.2V308.6L1742.4 308.4V303.1L1743.1 304.9V308.2L1743.8 308.5V306.4L1744.4 305.6V309.1L1745 309.3V305.8L1745.7 306.6V309L1746.4 311.2V305.8L1747.1 307.3V312.2L1747.8 313.2V307.4L1748.4 308.8V312.6L1749.1 312.5V308.4L1749.7 309.3V314L1750.4 312.9V309.9L1751.1 309.5V314.5L1751.8 314.6V310.3L1752.5 310.6V315.7L1753.1 316V311.7L1753.8 312.7V315.7L1754.4 316.4V313.4L1755.1 313.5V317.6L1755.8 317.2V313.2L1756.5 314.4V318.9L1757.2 317.9V314.5L1757.8 315.9V319.7L1758.5 319.9V316L1759.1 317.5V320.9L1759.8 320V316L1760.5 318.3V320.6L1761.2 321.6V318.1L1761.8 319V322.7L1762.5 323.8V319.4L1763.2 319.7V323.3L1763.9 324.7V319.9L1764.6 320.3V324.6L1765.2 324.6V319.8L1765.9 321.4V325.1L1766.6 326.7V321.7L1767.3 322.5V327.9L1768 326.9V323.8L1768.6 322.8V327.4L1769.3 328V323.6L1770 325V329L1770.7 329.4V326.6L1771.3 326.5V328.7L1772 330.9V325.9L1772.7 327.2V331.8L1773.4 330.9V326.7L1774.1 328.3V331.3L1774.8 332V328.8L1775.5 329.4V333.2L1776.1 334.5V329.6L1776.8 330.2V333.7L1777.5 335.5V330.2L1778.2 330.9V335.9L1778.9 336.7V331.2L1779.6 331.9V336.3L1780.2 337.4V333.2L1780.9 333.3V338.6L1781.6 337.4V333.3L1782.3 334.2V338.2L1783 339V333.9L1783.6 335.5V340.3L1784.3 342.1V336.6L1785 336.3V340.4L1785.7 340.4V336.9L1786.4 337.8V340.6L1787.1 338.8V342.6L1787.8 342.4V338.5L1788.4 339.3V344.4L1789.1 344.9V339.3L1789.8 339.6V344.6L1790.5 344.9V340.4L1791.2 341.9V345.5L1791.9 346.5V334.1L1792.6 342.6V347.4L1793.3 347V343.1L1793.9 339.2V347.4L1794.6 348.6V344.2L1795.3 345.4V349.2L1796 349V344.3L1796.7 344.7V349.4L1797.4 352.4V346.1L1798.1 351.4V329.7L1798.8 347.1V351.8L1799.4 351.8V347.2L1800.1 347.4V352.9L1800.8 353.7V262L1801.5 349.4V353.4L1802.2 353.9V347.6L1802.9 349V354.9L1803.6 354.6V338.4L1804.3 352.2V356.1L1805 356.2V351.1L1805.6 352.8V356.2L1806.3 356.9V352.1L1807 353.1V357.2L1807.7 358.2V351.7L1808.4 360.5V267.1L1809.1 354.9V359.7L1809.8 360.3V356.5L1810.5 354.9V360.6L1811.2 361.5V346.5L1811.9 357.2V361.7L1812.6 363.6V348.2L1813.3 357.5V363.6L1814 363.9V359.5L1814.6 358.6V363.9L1815.3 363.9V350.7L1816 365.4V259.4L1816.7 355.3V366.5L1817.4 365.8V360.5L1818.1 356.4V367L1818.8 367.3V361.5L1819.5 362V367.8L1820.2 367.8V363.5L1820.9 363.6V369.1L1821.6 369.3V364.3L1822.3 364.5V371.1L1823 371.2V365L1823.6 360.6V371.1L1824.3 371.8V367L1825 366V372.9L1825.7 373.1V368.4L1826.4 368.1V373.3L1827.1 375.3V369.2L1827.8 375V259.9L1828.5 364.1V374.8L1829.2 375.1V368.1L1829.9 364V376.2L1830.6 376.4V371.1L1831.3 377.6V354L1832 372.6V377.8L1832.7 378.9V373.6L1833.4 367.9V379.4L1834 379.7V369L1834.7 379.9V234.9L1835.4 366.1V382.4L1836.1 381.5V376.7L1836.8 377.1V383.1L1837.5 382.9V377.8L1838.2 383.1V356.1L1838.9 363.8V383.6L1839.6 384.8V378.5L1840.3 379.1V385.2L1841 385.4V380.4L1841.7 380.7V386.5L1842.4 386.5V381.9L1843.1 389.8V243.8L1843.8 382.7V388L1844.5 388.7V383.5L1845.1 389.4V362.5L1845.8 384.9V390L1846.5 391.1V381.1L1847.2 376.9V391.4L1847.9 392.1V386.7L1848.6 382V392.7L1849.3 393.5V379.1L1850 393.2V247.6L1850.7 388.1V394.1L1851.4 395.6V388.9L1852.1 395.7V381.2L1852.8 390.5V395.6L1853.5 396V391.3L1854.2 397.9V384.3L1854.9 385.1V397.5L1855.6 398.9V392.1L1856.3 399.8V382.2L1857 393.6V400.1L1857.7 399.5V394.1L1858.4 395.2V401.2L1859.1 401.8V395.4L1859.8 396V401.5L1860.5 403.1V384.9L1861.2 397.9V402.8L1861.9 403.4V230.2L1862.5 389.9V404.6L1863.2 405.5V396.9L1863.9 400.3V405.7L1864.6 405.5V399.5L1865.3 392.8V406.7L1866 408V379.7L1866.7 402.4V408.2L1867.4 408.9V401.8L1868.1 397.4V409.1L1868.8 409.6V404L1869.5 403.5V410.4L1870.2 410.3V404.7L1870.9 404.8V411.8L1871.6 411V405.7L1872.3 405.7V413.7L1873 412.1V405.8L1873.7 406.2V413.3L1874.4 415V407.4L1875.1 408.4V414.1L1875.8 414.7V409.4L1876.4 409V414.9" fill="none" stroke="#cc00cc" stroke-width="1" stroke-linejoin="miter" shape-rendering="crispEdges"/>
<text x="1631.2" y="152.3" class="tt" text-anchor="middle">SDB1_LC_TY__FFT</text>
<text transform="translate(1313.5 173.2) rotate(-90)" class="yt" text-anchor="end">urad/sqrt(Hz)</text>
<text x="1380.5" y="192.9" class="al" text-anchor="end">10<tspan class="sp" dy="-8.5">-1</tspan></text>
<text x="1380.5" y="235.3" class="al" text-anchor="end">10<tspan class="sp" dy="-8.5">-2</tspan></text>
<text x="1380.5" y="277.7" class="al" text-anchor="end">10<tspan class="sp" dy="-8.5">-3</tspan></text>
<text x="1380.5" y="320.1" class="al" text-anchor="end">10<tspan class="sp" dy="-8.5">-4</tspan></text>
<text x="1380.5" y="362.5" class="al" text-anchor="end">10<tspan class="sp" dy="-8.5">-5</tspan></text>
<text x="1380.5" y="404.9" class="al" text-anchor="end">10<tspan class="sp" dy="-8.5">-6</tspan></text>
<text x="1455.7" y="455.7" class="al" text-anchor="middle">1</text>
<text x="1569.5" y="455.7" class="al" text-anchor="middle">10</text>
<text x="1669.3" y="455.7" class="al" text-anchor="start">10<tspan class="sp" dy="-9">2</tspan></text>
<text x="1783.2" y="455.7" class="al" text-anchor="start">10<tspan class="sp" dy="-9">3</tspan></text>
<text x="1876.7" y="468.2" class="hz" text-anchor="end">Hz</text>
<text x="1596.7" y="497.2" class="mg" text-anchor="middle">1449493354.0000 Dec11 2025 13:02:16 UTC</text>
<text x="1596.7" y="521.7" class="bk" text-anchor="middle">1449493624.00 Dec11 2025 13:06:46 UTC dt:2s nAv:60</text>
<path d="M119.5 594.6V847.4M133.5 594.6V847.4M144.5 594.6V847.4M153.5 594.6V847.4M161.5 594.6V847.4M167.5 594.6V847.4M173.5 594.6V847.4M178.5 594.6V847.4M212.5 594.6V847.4M233.5 594.6V847.4M247.5 594.6V847.4M258.5 594.6V847.4M267.5 594.6V847.4M274.5 594.6V847.4M281.5 594.6V847.4M287.5 594.6V847.4M292.5 594.6V847.4M326.5 594.6V847.4M346.5 594.6V847.4M361.5 594.6V847.4M372.5 594.6V847.4M381.5 594.6V847.4M388.5 594.6V847.4M395.5 594.6V847.4M401.5 594.6V847.4M406.5 594.6V847.4M440.5 594.6V847.4M460.5 594.6V847.4M474.5 594.6V847.4M485.5 594.6V847.4M494.5 594.6V847.4M502.5 594.6V847.4M509.5 594.6V847.4M514.5 594.6V847.4M520.5 594.6V847.4M554.5 594.6V847.4M574.5 594.6V847.4M588.5 594.6V847.4M599.5 594.6V847.4M110.2 839.5H599.7M110.2 810.5H599.7M110.2 781.5H599.7M110.2 751.5H599.7M110.2 722.5H599.7M110.2 693.5H599.7M110.2 663.5H599.7M110.2 634.5H599.7M110.2 605.5H599.7" stroke="#000" stroke-opacity=".6" stroke-width="1" stroke-dasharray="1 2" fill="none" shape-rendering="crispEdges"/>
<rect x="110.2" y="594.6" width="489.5" height="252.8" fill="none" stroke="#000" stroke-width="1.3"/>
<path d="M119.5 847.4v-5M133.5 847.4v-5M144.5 847.4v-5M153.5 847.4v-5M161.5 847.4v-5M167.5 847.4v-5M173.5 847.4v-5M178.5 847.4v-10M212.5 847.4v-5M233.5 847.4v-5M247.5 847.4v-5M258.5 847.4v-5M267.5 847.4v-5M274.5 847.4v-5M281.5 847.4v-5M287.5 847.4v-5M292.5 847.4v-10M326.5 847.4v-5M346.5 847.4v-5M361.5 847.4v-5M372.5 847.4v-5M381.5 847.4v-5M388.5 847.4v-5M395.5 847.4v-5M401.5 847.4v-5M406.5 847.4v-10M440.5 847.4v-5M460.5 847.4v-5M474.5 847.4v-5M485.5 847.4v-5M494.5 847.4v-5M502.5 847.4v-5M509.5 847.4v-5M514.5 847.4v-5M520.5 847.4v-10M554.5 847.4v-5M574.5 847.4v-5M588.5 847.4v-5M599.5 847.4v-5M110.2 839.5h11.5M110.2 819.5h5.5M110.2 810.5h11.5M110.2 789.5h5.5M110.2 781.5h11.5M110.2 760.5h5.5M110.2 751.5h11.5M110.2 731.5h5.5M110.2 722.5h11.5M110.2 701.5h5.5M110.2 693.5h11.5M110.2 672.5h5.5M110.2 663.5h11.5M110.2 643.5h5.5M110.2 634.5h11.5M110.2 614.5h5.5M110.2 605.5h11.5" stroke="#000" stroke-width="1" fill="none" shape-rendering="crispEdges"/>
<path d="M110.2 636.3H164.5V633.3H189.7V628.8H206.4V633.9H218.8V641.7H228.7V634.6H237V621.6H244.1V604.6H250.2V602.7H255.7V620.6H260.7V644.8H265.2V637.6H269.3V642.7H273.1V671.4H276.6V681.8H279.9V683.3H283V685.9H285.9V687.7H288.7V693H291.3V703.8H293.8V710.2H296.1V714.3H298.4V717.3H300.5V719.4H302.6V721.1H304.5V723.3H306.4V725.9H308.3V727.7H310V730.1H311.7V731.8H313.4V733.6H315V734.5H316.5V736.7H318V738.7H319.5V739.5H320.9V741.7H322.3V742.7H323.6V744.8H324.9V746H326.2V746.8H327.4V747.9H328.6V749.3H329.8V750.7H330.9V751.9H332.1V753.3H333.2V754.1H334.2V755H335.3V755.4H336.3V756.7H337.3V758.4H338.3V758.5H339.3V759.7H340.2V760.7H341.2V761.1H342.1V761.8H343V762.7H343.9V764.2H344.7V764.8H345.6V765.3H346.4V765.9H347.2V767.2H348.1V767.9H348.8V769H349.6V769.7H350.4V769.6H351.2V770H351.9V771.2H352.7V771.4H353.4V772.2H354.1V773.2H354.8L355.2 773.4L355.8 773.5L356.5 774.7L357.2 774.7L357.9 776.9L358.5 776.1L359.2 776.9L359.8 777.6L360.4 777.9L361 779.3L361.7 779.1L362.3 779.4L362.9 779.4L363.5 780.7L364 781.3L364.6 781.7L365.2 781.6L365.8 782.3L366.3 783.1L366.9 783.2L367.4 783.8L368 783.9L368.5 785L369 785.3L369.5 785.8L370.1 786.6L370.6 786.2L371.1 786.6L371.6 787.1L372.1 787.5L372.6 788.4L373.1 788.3L373.5 788.6L374 789.1L374.5 789.2L375 789.3L375.4 789L375.9 790L376.3 790.3L376.8 790.8L377.2 791.9L377.7 791.4L378.1 791.7L378.6 790.9L379 792.4L379.4 792.5L379.8 792.9L380.3 793.7L380.7 793L381.1 793.5L381.5 793.7L381.9 794.8L382.3 794L382.7 795.6L383.1 795L383.5 794.5L383.9 796.3L384.3 796.3L384.7 796.3L385 796.9L385.4 797.7L385.8 797.1L386.2 798L386.5 797.4L386.9 798.4L387.3 797.3L387.6 798.9L388 798.9L388.4 798.5L388.7 799.9L389.2 799.3V798.9L389.9 800V800.8L390.6 800.1V800L391.3 801.5V801.7L392 801.1V800.8L392.6 801.4V801.5L393.3 802V802.4L393.9 802.1V803L394.5 802.6V801.5L395.2 802.8V803.9L395.8 804.1V803.1L396.4 803V804.6L397 804.1V803.5L397.6 803.4V804L398.2 805.1V805.7L398.7 805.9V806.1L399.3 805.7V805.5L399.9 805.5V805.8L400.4 805.4V806.3L401 806.9V804.7L401.5 806.5V807.8L402.1 808.2V807.1L402.6 807.2V807.8L403.1 807.6V808.2L403.7 809V809.7L404.2 809V808.1L404.7 808.8V810.2L405.2 809.1L405.7 809.6V810.3L406.2 809.8V811L406.7 809.9L407.2 809.8V809.6L407.7 812V812.2L408.2 811V810.9L408.6 811.2V808.5L409.2 811.2V811.6L409.9 812V813L410.6 813.5V813.9L411.3 815.6V811.8L411.9 813.5V815.7L412.6 815.9V813.7L413.2 814.7V816.1L413.9 816.5V815.5L414.5 814.3V818.2L415.1 817.3V816.2L415.8 817.8V810.8L416.4 816.8V818.8L417 818.7V816.8L417.6 818V819.7L418.2 820.6V817.1L418.7 818.4V820.3L419.3 819.4V816.6L419.9 820.3V823.2L420.4 822V819.7L421 821.5V822.5L421.5 823.3V820.6L422.1 822.3V823.4L422.6 823.6V822.8L423.1 823.2V823.8L423.8 822.5V826.2L424.4 825.7V824.3L425.1 823.6V826.2L425.8 826.8V825.6L426.5 826V827.7L427.1 827.7V826.7L427.8 826.9V828.7L428.4 828.8V827.8L429 828.1V829.9L429.6 830.1V829.5L430.3 828.7V831.8L430.9 830V829.7L431.5 830.1V831L432.1 830.4V829.1L432.6 829V830L433.2 829.5V828.6L433.8 828.5V829.9L434.4 828V826.9L435 827.1V828.5L435.7 827.9V825.7L436.3 826.1V826.9L437 826.8V824.6L437.7 826.1V821.4L438.3 825.1V826.5L439 825.1V822.6L439.6 822.1V824.8L440.2 824.8V822.2L440.8 822.1V824.4L441.5 823.5V822.2L442.1 821.1V823.5L442.7 822.6V820.6L443.2 819.9V821.7L443.9 822.5V820.2L444.6 818.9V822.6L445.3 821.8V819.2L445.9 819.4V821.8L446.6 820.5V818.7L447.2 819.3V820L447.9 819.4V817.3L448.5 817.9V820.1L449.1 819.4V816.7L449.8 815.2V818.9L450.4 818.5V815.8L451 815.6V817.6L451.6 817.8V815.1L452.3 816.2V817.3L453 817.2V815.8L453.7 815.8V817.8L454.3 817.8V815.7L455 816.1V817.6L455.6 818.1V814.9L456.2 815.5V816.7L456.9 816.3V815L457.5 814.1V816.2L458.1 817.4V814.3L458.8 814.7V817.4L459.5 816.2V813.7L460.2 812.8V816.2L460.8 816.1V813.7L461.5 814V816.7L462.1 815.7V813.2L462.8 813.5V815.8L463.4 816.3V813.7L464.1 813.5V817L464.7 814.9V809.7L465.4 814.5V815.1L466.1 816.7V813.3L466.8 813V815.6L467.4 815.4V813.4L468 812.6V815.4L468.7 816V812.9L469.4 813.4V814.8L470.1 815.7V813.7L470.8 812.9V815.7L471.4 815.4V813.9L472.1 815.3V812.1L472.7 812.2V814.8L473.4 815.5V813.4L474.1 813.3V815.5L474.8 815.2V813.3L475.5 813V814.9L476.1 815.3V812.3L476.8 812.9V815.2L477.4 815V812.1L478.1 812.9V814.7L478.8 815.2V809.5L479.5 812V815.1L480.2 814.3V812.5L480.8 813V815L481.5 814.3V812.3L482.1 812.5V815.1L482.8 815.7V812.5L483.5 812.8V815.1L484.2 815V812.1L484.8 813.2V815.8L485.5 815.4V812.4L486.2 812.2V814.3L486.9 814.3V812.1L487.6 812.5V815.1L488.2 815V812.6L488.9 812.8V816L489.6 814.9V812.1L490.3 812.9V815.2L491 815.9V812.1L491.6 811.8V814.5L492.3 814.6V812.4L493 811.8V815.5L493.7 814.9V811.7L494.3 812.5V814.8L495 814.8V812.2L495.7 811.9V814.4L496.4 814.6V811.5L497.1 812.2V815L497.8 814.6V811.7L498.5 811.5V815.1L499.1 814.4V812.4L499.8 812.2V814.9L500.5 815.3V809.7L501.2 811.7V815.4L501.9 814.6V811.7L502.6 811.8V814.4L503.2 814.8V811.7L503.9 812.1V814.3L504.6 814.6V811.3L505.3 811.9V814.6L506 814.1V811.3L506.6 811.8V814.6L507.3 815.4V811.9L508 812.1V815.1L508.7 815.4V812.4L509.4 810.8V814.4L510.1 814.3V811.7L510.8 811.3V814.8L511.4 814.1V812L512.1 811.8V814.2L512.8 814.9V807.3L513.5 811.9V815.3L514.2 814.4V811.6L514.9 811.8V814.6L515.6 814.8V812L516.3 811.9V814.6L516.9 814.5V812L517.6 811.6V814.4L518.3 815.1V811.3L519 810.9V814.8L519.7 815.4V812.3L520.4 812.2V814.7L521.1 815.5V811.2L521.8 812.2V815L522.4 814.9V812L523.1 811.5V815.1L523.8 814.4V812L524.5 811.7V814.9L525.2 814.6V811.7L525.9 811.8V815.1L526.6 814.5V812L527.3 811V814.3L528 814.8V812.3L528.6 812.1V814.6L529.3 814.3V812L530 812V814.4L530.7 814.6V808.8L531.4 811.1V814.8L532.1 815.1V811.5L532.8 811.3V814.9L533.5 814.8V812L534.2 811.9V814.2L534.9 814.7V811.8L535.6 811.8V815.1L536.3 814.3V812.1L537 811.3V814.6L537.6 814.5V811.6L538.3 810.4V815.2L539 815.4V810.2L539.7 811.5V814.6L540.4 815.3V811.9L541.1 811.9V814.7L541.8 814.6V812L542.5 809.3V815.3L543.2 814.6V811.6L543.9 809.1V814.7L544.6 815V811.8L545.3 814.3V808.1L546 811.7V814.7L546.6 815V811.6L547.3 811.8V815.3L548 815V811.7L548.7 811.5V814.8L549.4 814.6V811.6L550.1 811.5V814.7L550.8 814.9V810.9L551.5 811.8V814.8L552.2 814.6V812.1L552.9 812.1V814.8L553.6 814.9V811.7L554.3 811V815.1L555 815.2V811.3L555.7 812V814.6L556.4 815.1V811.6L557 811.7V815.3L557.7 814.6V811.8L558.4 811.8V814.7L559.1 815V811.8L559.8 811.9V814.8L560.5 814.7V811.8L561.2 812V815.2L561.9 815.2V811.7L562.6 811.6V815.4L563.3 815.4V811.3L564 811.1V815L564.7 814.8V812.1L565.4 811.2V814.8L566.1 814.8V811.7L566.8 811.4V814.8L567.5 814.7V811.4L568.1 811.7V814.6L568.8 815V811.8L569.5 812.3V814.9L570.2 815.3V811.9L570.9 812.3V815.5L571.6 815.6V811.7L572.3 812.3V815.2L573 815.4V811.6L573.7 812.3V815.7L574.4 815.3V812.1L575.1 812.1V815L575.8 815.7V812.4L576.5 812.2V815.6L577.2 815.5V812.1L577.9 813V815.8L578.6 815.9V812.4L579.3 812.5V815.7L580 816.2V812.6L580.7 813.3V816.5L581.4 816.9V813L582.1 814V817.7L582.8 818.8V814.7L583.5 815.1V818.6L584.2 819.6V815.7L584.9 816.4V819.4L585.5 820.3V816.9L586.2 817.3V821.5L586.9 821.8V817.9L587.6 818.2V822.5L588.3 823V819.8L589 820.9V824.7L589.7 826.7V821.8L590.4 822.4V826.9L591.1 828.2V824.3L591.8 825.5V829.4L592.5 830V826.4L593.2 827.3V831.3L593.9 831.9V829.1L594.6 830.2V833.1L595.3 834.4V830.7L596 831.4V835L596.7 836.1V833L597.4 833.6V837.4L598.1 837.4V834.2L598.8 835.4V839.2L599.4 839.7V836.2" fill="none" stroke="#6666ff" stroke-width="1" stroke-linejoin="miter" shape-rendering="crispEdges"/>
<path d="M110.2 847.4V633.4H164.5V632.6H189.7V628.3H206.4V633.4H218.8V641.2H228.7V634.2H237V621.2H244.1V604.1H250.2V602.3H255.7V620.1H260.7V644.4H265.2V637.1H269.3V642.3H273.1V671H276.6V681.4H279.9V682.8H283V685.5H285.9V687.2H288.7V692.5H291.3V703.4H293.8V709.8H296.1V713.9H298.4V716.8H300.5V719.4H302.6V720.6H304.5V723.9H306.4V725.5H308.3V727.9H310V729.6H311.7V732.2H313.4V733.1H315V735H316.5V736.9H318V738.1H319.5V739.4H320.9V741.6H322.3V742.9H323.6V744.8H324.9V745.8H326.2V747.1H327.4V748.1H328.6V749.4H329.8V750.8H330.9V752H332.1V752.5H333.2V753.8H334.2V754.3H335.3V755.5H336.3V757.1H337.3V758H338.3V758.5H339.3V759.9H340.2V760.4H341.2V761.2H342.1V762H343V762.9H343.9V764.1H344.7V765.1H345.6V766.1H346.4V766.3H347.2V766.4H348.1V768.4H348.8V768.1H349.6V769.9H350.4V770.3H351.2V770.7H351.9H352.7V772.1H353.4H354.1V772.6H354.8L355.2 773.2L355.8 774.1L356.5 774.5L357.2 775.1L357.9 775.5L358.5 776.4L359.2 777L359.8 778.4L360.4 778.4L361 778.5L361.7 778.6L362.3 778.7L362.9 780.1L363.5 780.7L364 781.5L364.6 781L365.2 782.4L365.8 782.8L366.3 783.1L366.9 783.7L367.4 783.2L368 784.1L368.5 784.9L369 784.8L369.5 785.9L370.1 785.6L370.6 786.1L371.1 787.1L371.6 787.3L372.1 787.5L372.6 788.3L373.1 787.9L373.5 788.7L374 789L374.5 789.5L375 789.5L375.4 789.6L375.9 789.9L376.3 790.2L376.8 790.4L377.2 791L377.7 791.6L378.1 791.6L378.6 792.4L379 792.3L379.4 792.7L379.8 793L380.3 793.3L380.7 793.9L381.1 794.5L381.5 794.2L381.9 793.8L382.3 795.2L382.7 795L383.1 794.9L383.5 795.3L383.9 795.8L384.3 796.2L384.7 795.4L385 796.4L385.4 796.4L385.8 796.8L386.2 797.8L386.5 797.5L386.9 797.4L387.3 798.1L387.6 798.5L388 799.1L388.4 798.8L388.7 799.2L389.2 798.8V800.4L389.9 800.4V799.8L390.6 800V800.3L391.3 800.3V800.4L392 801.1V801.9L392.6 801.8V801.3L393.3 801.6V802.5L393.9 802.8V802L394.5 802.3V802.9L395.2 803.1V803.3L395.8 804L396.4 803.8V803.5L397 804.3V804.6L397.6 804.4V805.6L398.2 805.6V804.4L398.7 805V803.8L399.3 805V805.7L399.9 805.9V806.5L400.4 806.4V805.4L401 806.3V806.5L401.5 806.2V807.8L402.1 807.5V807.2L402.6 807.2V808.5L403.1 808.1V807.5L403.7 808.2V808.8L404.2 809.5V809.6L404.7 809.1V810.5L405.2 808.7V807.1L405.7 808.8V810.2L406.2 809.6L406.7 809.9V811.3L407.2 810.8L407.7 811V811.2L408.2 810.8V810.5L408.6 811.1V812.3L409.2 812V812.8L409.9 812.8V813.8L410.6 812.9V814.8L411.3 815.1V813.7L411.9 813.5V815.3L412.6 815.4V813.2L413.2 814.8V816.8L413.9 816.9V815.1L414.5 815.7V816.5L415.1 816.1V817.1L415.8 816.9V818.4L416.4 817.9V816.8L417 817V819.4L417.6 819.4V817.8L418.2 817.8V820.2L418.7 819.4V821.2L419.3 820.6V820.2L419.9 820.2V819.4L420.4 820.1V821.8L421 821.9V822.4L421.5 822.7V821.9L422.1 822.7V823.6L422.6 824V822.4L423.1 823.6V824.3L423.8 823.4V825.6L424.4 825.5V823.3L425.1 825.1V827L425.8 826.7V825.5L426.5 827.8V810.9L427.1 826.6V828.4L427.8 828.7V827.2L428.4 827.5V829L429 828.8V829.9L429.6 829.2V830.8L430.3 831.3V829.4L430.9 830.4V831.5L431.5 830.7V830L432.1 830.3V829.1L432.6 828.8V829.8L433.2 830.3V827.6L433.8 827.1V828.3L434.4 828.1V826.1L435 827V827.8L435.7 828.2V825.6L436.3 825.6V827.6L437 826.8V825.6L437.7 826.6V824.2L438.3 823.7V825.1L439 825.1V822.5L439.6 823V824.1L440.2 824.9V822.7L440.8 822.9V824L441.5 823.3V821.5L442.1 821.6V822.9L442.7 823.5V821.2L443.2 821.1V823L443.9 822.1V820.8L444.6 820.2V821.7L445.3 821.9V819.4L445.9 818.8V820.7L446.6 820.4V818.2L447.2 819.1V820.3L447.9 819.8V818.2L448.5 817.5V819.5L449.1 818.7V817.4L449.8 816.6V818.8L450.4 817.7V816.9L451 817.4V816.2L451.6 815.7V817.8L452.3 817.6V816L453 815.8V818.8L453.7 816.7V815.1L454.3 815.7V818.1L455 816.8V814.8L455.6 815.6V816.7L456.2 817.7V814.5L456.9 815.3V816.9L457.5 816.6V814.7L458.1 814.6V816.4L458.8 816.5V815.2L459.5 814V816.8L460.2 816.4V793.9L460.8 814.8V816.8L461.5 816.2V813.8L462.1 814.4V816.3L462.8 815.4V814L463.4 812.8V815.5L464.1 816V813.9L464.7 813.8V815.9L465.4 815.5V814.3L466.1 813.7V815.8L466.8 815.4V813.7L467.4 813.6V815.7L468 815.4V812.9L468.7 816.1V802.4L469.4 812.6V815.2L470.1 815V813.8L470.8 812.9V815.5L471.4 815.1V813.6L472.1 813.5V814.9L472.7 814.6V813.1L473.4 812.9V815.2L474.1 815.5V813.2L474.8 812.7V815.5L475.5 815.1V813.1L476.1 813.9V814.9L476.8 815V812.6L477.4 812.9V814.9L478.1 815.4V812.2L478.8 812.7V815.5L479.5 814.8V813.4L480.2 812.7V815.4L480.8 815.3V812.8L481.5 815.5V791.8L482.1 812.6V815L482.8 815V813L483.5 812.4V815L484.2 815.2V813L484.8 812.8V814.8L485.5 815.4V812.9L486.2 812.8V814.9L486.9 814.6V812.7L487.6 812.5V815.1L488.2 815.5V813L488.9 812.7V815.3L489.6 814.4V812.4L490.3 813.3V815.3L491 814.6V804.4L491.6 813.1V815.6L492.3 814.8V813L493 812.2V814.4L493.7 814.5V812.2L494.3 812.1V815L495 814.8V812.5L495.7 812.8V814.5L496.4 815.3V812.3L497.1 812V814L497.8 814.8V812.3L498.5 812.4V815.1L499.1 815.1V812.6L499.8 812.3V815.2L500.5 814.6V812.2L501.2 811.8V814.2L501.9 814.8V812L502.6 812V814.3L503.2 815.2V812L503.9 811.8V814.4L504.6 814.4V812L505.3 811.8V814.4L506 813.7V812.4L506.6 812.2V814.2L507.3 814.2V811.7L508 812.2V814.7L508.7 814.3V811.8L509.4 811.8V814.8L510.1 814.4V811.4L510.8 811.7V814.9L511.4 814.3V811.8L512.1 811.6V814.2L512.8 815V811.3L513.5 811.6V814.7L514.2 814.3V811.9L514.9 811.5V814.4L515.6 814.6V812.4L516.3 812V814.6L516.9 815.1V811.6L517.6 811.7V814.3L518.3 813.9V811.9L519 812V814.1L519.7 814.7V812L520.4 812.1V814.7L521.1 814.3V812.2L521.8 811.9V814.7L522.4 814.7V812.2L523.1 811.2V814.2L523.8 814.4V811.9L524.5 812.2V814.5L525.2 814.6V811.7L525.9 811.8V814.7L526.6 814.5V812.2L527.3 812V814.8L528 814.5V811.6L528.6 812.3V815L529.3 814.4V812L530 811.7V814.3L530.7 814.2V811.9L531.4 811.6V814.5L532.1 814.4V812.4L532.8 811.8V814.7L533.5 814.5V812L534.2 811.6V814.3L534.9 814.2V812.1L535.6 811.8V814.4L536.3 814.5V812L537 811.7V815L537.6 814.5V812L538.3 811.5V814.6L539 815V811.7L539.7 812V814.5L540.4 814.6V811.7L541.1 811.3V814.3L541.8 814.7V811.9L542.5 814.6V799.2L543.2 812V814.3L543.9 815.3V812.3L544.6 811.2V814.5L545.3 815.1V812.2L546 812.1V814.4L546.6 814.7V812.2L547.3 811.6V814.7L548 814.6V812L548.7 812.1V815.1L549.4 814.8V811.2L550.1 811.8V814.7L550.8 814.9V811.9L551.5 814.6V783.9L552.2 812.1V815.2L552.9 815V811.4L553.6 812V814.7L554.3 814.6V811.9L555 811.7V814.9L555.7 814.4V812L556.4 811.5V814.7L557 814.5V812.2L557.7 811.6V814.6L558.4 814.7V811.6L559.1 812V814.6L559.8 814.3V812.1L560.5 811.7V814.8L561.2 814.3V811.9L561.9 811.3V814.6L562.6 814V811.7L563.3 811.7V814.3L564 815.3V811.8L564.7 811.9V814.5L565.4 814.7V812L566.1 811.8V814.6L566.8 814.9V812.1L567.5 812.2V814.7L568.1 814.9V812.1L568.8 811.9V814.9L569.5 815V812L570.2 812.1V814.8L570.9 815.1V812L571.6 812.1V814.8L572.3 815.3V812.2L573 812.3V815.6L573.7 815.3V812.5L574.4 812.3V815.2L575.1 815.2V812.7L575.8 812.6V815.4L576.5 815.4V812.6L577.2 812.2V815.4L577.9 816.3V812.5L578.6 812.4V815.6L579.3 815.3V812.7L580 813V815.7L580.7 816.3V813.5L581.4 814V817L582.1 817.3V814.7L582.8 815V818L583.5 819V815.2L584.2 815.9V819.1L584.9 819.6V816.6L585.5 817.2V820L586.2 820.6V817.8L586.9 818V821.1L587.6 822.3V818.4L588.3 819.7V823L589 824.7V820.7L589.7 822.3V825.5L590.4 826.8V822.9L591.1 824.4V827.8L591.8 828.9V825.4L592.5 826.8V830.7L593.2 831.4V828.3L593.9 829V832.2L594.6 833.3V829.9L595.3 830.9V833.9L596 834.8V832.1L596.7 832.7V835.5L597.4 836.8V833.6L598.1 834.3V838.1L598.8 839.3V835.5L599.4 836.7V839.3" fill="none" stroke="#cc00cc" stroke-width="1" stroke-linejoin="miter" shape-rendering="crispEdges"/>
<text x="354.2" y="571.4" class="tt" text-anchor="middle">SDB1_MAR_TX_corr__FFT</text>
<text transform="translate(36.5 592.3) rotate(-90)" class="yt" text-anchor="end">V/sqrt(Hz)</text>
<text x="103.5" y="613.7" class="al" text-anchor="end">10<tspan class="sp" dy="-8.5">-1</tspan></text>
<text x="103.5" y="672.3" class="al" text-anchor="end">10<tspan class="sp" dy="-8.5">-3</tspan></text>
<text x="103.5" y="730.9" class="al" text-anchor="end">10<tspan class="sp" dy="-8.5">-5</tspan></text>
<text x="103.5" y="789.5" class="al" text-anchor="end">10<tspan class="sp" dy="-8.5">-7</tspan></text>
<text x="103.5" y="848.1" class="al" text-anchor="end">10<tspan class="sp" dy="-8.5">-9</tspan></text>
<text x="178.7" y="874.9" class="al" text-anchor="middle">1</text>
<text x="292.5" y="874.9" class="al" text-anchor="middle">10</text>
<text x="392.3" y="874.9" class="al" text-anchor="start">10<tspan class="sp" dy="-9">2</tspan></text>
<text x="506.2" y="874.9" class="al" text-anchor="start">10<tspan class="sp" dy="-9">3</tspan></text>
<text x="599.7" y="887.4" class="hz" text-anchor="end">Hz</text>
<text x="319.7" y="916.4" class="mg" text-anchor="middle">1449493354.0000 Dec11 2025 13:02:16 UTC</text>
<text x="319.7" y="940.9" class="bk" text-anchor="middle">1449493624.00 Dec11 2025 13:06:46 UTC dt:2s nAv:60</text>
<path d="M758.5 594.6V847.4M772.5 594.6V847.4M783.5 594.6V847.4M792.5 594.6V847.4M799.5 594.6V847.4M806.5 594.6V847.4M812.5 594.6V847.4M817.5 594.6V847.4M851.5 594.6V847.4M871.5 594.6V847.4M886.5 594.6V847.4M897.5 594.6V847.4M906.5 594.6V847.4M913.5 594.6V847.4M920.5 594.6V847.4M926.5 594.6V847.4M931.5 594.6V847.4M965.5 594.6V847.4M985.5 594.6V847.4M999.5 594.6V847.4M1010.5 594.6V847.4M1019.5 594.6V847.4M1027.5 594.6V847.4M1034.5 594.6V847.4M1039.5 594.6V847.4M1045.5 594.6V847.4M1079.5 594.6V847.4M1099.5 594.6V847.4M1113.5 594.6V847.4M1124.5 594.6V847.4M1133.5 594.6V847.4M1141.5 594.6V847.4M1147.5 594.6V847.4M1153.5 594.6V847.4M1158.5 594.6V847.4M1193.5 594.6V847.4M1213.5 594.6V847.4M1227.5 594.6V847.4M1238.5 594.6V847.4M749 846.5H1238.5M749 834.5H1238.5M749 825.5H1238.5M749 818.5H1238.5M749 812.5H1238.5M749 806.5H1238.5M749 801.5H1238.5M749 797.5H1238.5M749 769.5H1238.5M749 752.5H1238.5M749 741.5H1238.5M749 732.5H1238.5M749 724.5H1238.5M749 718.5H1238.5M749 713.5H1238.5M749 708.5H1238.5M749 704.5H1238.5M749 675.5H1238.5M749 659.5H1238.5M749 647.5H1238.5M749 638.5H1238.5M749 631.5H1238.5M749 624.5H1238.5M749 619.5H1238.5M749 614.5H1238.5M749 610.5H1238.5" stroke="#000" stroke-opacity=".6" stroke-width="1" stroke-dasharray="1 2" fill="none" shape-rendering="crispEdges"/>
<rect x="749" y="594.6" width="489.5" height="252.8" fill="none" stroke="#000" stroke-width="1.3"/>
<path d="M758.5 847.4v-5M772.5 847.4v-5M783.5 847.4v-5M792.5 847.4v-5M799.5 847.4v-5M806.5 847.4v-5M812.5 847.4v-5M817.5 847.4v-10M851.5 847.4v-5M871.5 847.4v-5M886.5 847.4v-5M897.5 847.4v-5M906.5 847.4v-5M913.5 847.4v-5M920.5 847.4v-5M926.5 847.4v-5M931.5 847.4v-10M965.5 847.4v-5M985.5 847.4v-5M999.5 847.4v-5M1010.5 847.4v-5M1019.5 847.4v-5M1027.5 847.4v-5M1034.5 847.4v-5M1039.5 847.4v-5M1045.5 847.4v-10M1079.5 847.4v-5M1099.5 847.4v-5M1113.5 847.4v-5M1124.5 847.4v-5M1133.5 847.4v-5M1141.5 847.4v-5M1147.5 847.4v-5M1153.5 847.4v-5M1158.5 847.4v-10M1193.5 847.4v-5M1213.5 847.4v-5M1227.5 847.4v-5M1238.5 847.4v-5M749 846.5h5.5M749 834.5h5.5M749 825.5h5.5M749 818.5h5.5M749 812.5h5.5M749 806.5h5.5M749 801.5h5.5M749 797.5h11.5M749 769.5h5.5M749 752.5h5.5M749 741.5h5.5M749 732.5h5.5M749 724.5h5.5M749 718.5h5.5M749 713.5h5.5M749 708.5h5.5M749 704.5h11.5M749 675.5h5.5M749 659.5h5.5M749 647.5h5.5M749 638.5h5.5M749 631.5h5.5M749 624.5h5.5M749 619.5h5.5M749 614.5h5.5M749 610.5h11.5" stroke="#000" stroke-width="1" fill="none" shape-rendering="crispEdges"/>
<path d="M749 762.9H803.3V722.7H828.5V659.4H845.2V622H857.6V638.2H867.5V698.1H875.8V691.1H882.9V707.9H889V682.8H894.5V629.1H899.5V633.3H904V635.7H908.1V653.5H911.9V738.6H915.4V712H918.7V708.7H921.8V710.6H924.7V714.3H927.5V722.7H930.1V763.9H932.6V817.3H934.9V817.4H937.2V818.1H939.3V819.2H941.4V814.1H943.3V807.4H945.2V804.9H947.1V804H948.8V800H950.5V800.8H952.2V799H953.8V798.5H955.3V794.6H956.8V788.5H958.3V784.2H959.7V780.6H961.1V776.5H962.4V775.4H963.7V772H965V770.8H966.2V767.5H967.4V765.3H968.6V764.8H969.7V761.5H970.9V761.1H972V761H973V758.8H974.1V760.8H975.1V757H976.1V752.1H977.1V751.2H978.1V748.8H979V748.4H980V748.1H980.9V746.3H981.8V745.2H982.7V744.6H983.5V742.1H984.4V742.4H985.2V740.6H986V738.7H986.9V739.9H987.6V738.8H988.4V734.7H989.2V736.9H990V734.7H990.7V731.3H991.5V731.5H992.2V731.1H992.9V732.1H993.6L994 725.6L994.6 726.9L995.3 725.6L996 724.2L996.7 721.3L997.3 723.4L998 723.9L998.6 722L999.2 719.2L999.8 723.9L1000.5 721.4L1001.1 723.6L1001.7 719.7L1002.3 715.4L1002.8 720.7L1003.4 718.3L1004 716.7L1004.6 716.8L1005.1 714.4L1005.7 718.7L1006.2 719.1L1006.8 719.3L1007.3 716.7L1007.8 718L1008.3 717.5L1008.9 719.2L1009.4 710.3L1009.9 716.3L1010.4 717L1010.9 709.4L1011.4 715.1L1011.9 717.5L1012.3 714.6L1012.8 713.1L1013.3 715.3L1013.8 718.4L1014.2 718.2L1014.7 717.8L1015.1 711.3L1015.6 711.6L1016 718.4L1016.5 719.9L1016.9 718L1017.4 716L1017.8 714.9L1018.2 716L1018.6 715.9L1019.1 711.8L1019.5 715.4L1019.9 716.7L1020.3 713L1020.7 714.7L1021.1 716.9L1021.5 710L1021.9 711.6L1022.3 711.9L1022.7 716.4L1023.1 716.8L1023.5 715.9L1023.8 713.5L1024.2 715.9L1024.6 714.1L1025 716.5L1025.3 711.8L1025.7 714.3L1026.1 712.4L1026.4 715.1L1026.8 717.2L1027.2 719.1L1027.5 714.9L1028 715.4V717.1L1028.7 717.2V714L1029.4 715.1V715.3L1030.1 714.9V713.7L1030.8 719.2V719.8L1031.4 716.5V713.9L1032.1 715.8V722.5L1032.7 717.2V715.8L1033.3 715.4V717L1034 721.2V710.5L1034.6 718.2V718.6L1035.2 717.1V715.9L1035.8 716.9V714.9L1036.4 714.8V717.7L1037 721.2V711.3L1037.5 711.4V715.1L1038.1 715.5V718.5L1038.7 719.2V717.2L1039.2 716V719.1L1039.8 717.2V716.3L1040.3 716.4V713L1040.9 713.4V717.2L1041.4 713.7V712.4L1041.9 715.1V717.4L1042.5 721.7V722.6L1043 717.7V715.3L1043.5 715.5V719.3L1044 720.3V712.7L1044.5 718V719.6L1045 721.9V715.4L1045.5 714.5V714.4L1046 712.3V720.3L1046.5 714V713.5L1047 715.5V715.9L1047.4 716.4V714.7L1048 715.3V719.4L1048.7 720.2V716.8L1049.4 718V721.1L1050.1 720.6V717.6L1050.7 715.5V721.5L1051.4 720.4V714.6L1052 713V721.3L1052.7 714.5V713.9L1053.3 716V719.4L1053.9 722.5V714.4L1054.6 716.4V719.7L1055.2 722.3V716.5L1055.8 714.1V719.9L1056.4 722.8V715.3L1057 714V717.5L1057.5 719.2V714L1058.1 714.1V719.4L1058.7 721.4V717.2L1059.2 719.3V714.4L1059.8 714.7V716.9L1060.3 714.6V722.4L1060.9 717.5V715.9L1061.4 715.6V720.4L1061.9 719.3V715.1L1062.6 715V718.5L1063.2 720.9V715.6L1063.9 713.9V718.9L1064.6 719.2V717.1L1065.3 719.7V713.3L1065.9 715.2V718.3L1066.6 720.6V713.9L1067.2 717.7V720.3L1067.8 721.5V716.1L1068.4 713.6V721L1069.1 720.9V713.5L1069.7 714.7V720.9L1070.3 720.5V714.8L1070.9 714.4V719.6L1071.4 717.5V715.3L1072 712.7V718.7L1072.6 721.5V715.1L1073.2 717V723.8L1073.8 718.5V714.9L1074.5 714.2V719.2L1075.1 719V716.1L1075.8 714.4V720.3L1076.5 720.3V714.2L1077.1 715V720.9L1077.8 721.2V715.3L1078.4 715.9V720.6L1079 724.4V715.2L1079.6 714.5V719.9L1080.3 722.1V714L1080.9 713.8V717.7L1081.5 718.6V716.2L1082 717.7V723.6L1082.7 722.9V716.6L1083.4 718.1V719.5L1084.1 722.9V713.8L1084.7 715.7V722L1085.4 720.3V710.2L1086 716.2V722.6L1086.7 721.4V715.5L1087.3 714.7V719.7L1087.9 720.7V714.5L1088.6 717V721.4L1089.2 720.9V715.1L1089.8 715V721.3L1090.4 722.4V715L1091.1 714.4V723.7L1091.8 722.6V715.6L1092.5 712.1V721.2L1093.1 723V717.3L1093.8 715.6V724.5L1094.4 719.9V712.4L1095 712.1V720.1L1095.7 721.7V716.5L1096.3 714.5V723.1L1096.9 722.4V713.5L1097.6 717.1V721.3L1098.3 723.1V716.3L1099 716.2V725.9L1099.6 722.1V713.1L1100.3 717.9V722.5L1100.9 723.6V716.9L1101.6 714.7V722.4L1102.2 724.1V713.8L1102.9 717V725.5L1103.5 724V717.5L1104.2 714.5V722.2L1104.9 721.3V715.2L1105.6 715.9V726.1L1106.2 722.5V713.9L1106.8 715.5V720.8L1107.5 723.6V711.3L1108.2 714.1V722.7L1108.9 723.5V715.3L1109.6 716.9V724.9L1110.2 723V715.6L1110.9 712.4V722.7L1111.5 722.1V716.5L1112.2 714.1V724.7L1112.9 725.2V715.9L1113.6 715.7V723.3L1114.3 723V715.8L1114.9 715.2V723.2L1115.6 724.3V715.3L1116.2 713.6V723.3L1116.9 724V713.2L1117.6 715.5V722L1118.3 726V714.4L1119 716.7V723.5L1119.6 722.9V715.4L1120.3 715.8V725.9L1120.9 723.3V715.3L1121.6 716.7V724.2L1122.3 728.1V718.5L1123 714.4V726.9L1123.6 723.6V717.3L1124.3 716V725.2L1125 725.6V717.5L1125.7 714.4V725.3L1126.4 721.8V717.1L1127 716V724.2L1127.7 723.2V715L1128.4 713.4V726L1129.1 725.8V714.7L1129.8 716.4V722.6L1130.4 725.4V716L1131.1 716.4V725L1131.8 725.1V713.6L1132.5 715.7V725.2L1133.1 723.7V714.7L1133.8 715.2V723.7L1134.5 722.7V716.1L1135.2 717.2V725.5L1135.9 726V715.6L1136.6 717V724.5L1137.3 726.8V716.3L1137.9 713.4V723.7L1138.6 724.1V712.9L1139.3 715.6V724.8L1140 722.1V713.9L1140.7 717.1V726.2L1141.4 724.7V716.5L1142 716.5V725.5L1142.7 724.8V717.1L1143.4 716.1V725.1L1144.1 728.1V715L1144.8 713.4V724.3L1145.4 722.4V717L1146.1 714.9V726.6L1146.8 726.7V715.9L1147.5 718V725.7L1148.2 725V716.3L1148.9 716.6V724.8L1149.6 727.2V711.6L1150.2 716.1V723.9L1150.9 725.3V715.3L1151.6 716.4V725.9L1152.3 726.4V715.4L1153 715.7V726.8L1153.7 725.3V715.1L1154.4 718.1V725.3L1155.1 727.6V717.2L1155.7 716.7V725.5L1156.4 724.7V715.5L1157.1 714.4V723.9L1157.8 726.3V715L1158.5 716.3V725.7L1159.2 724.1V712.4L1159.9 715V728.1L1160.6 725.1V715.3L1161.2 714.9V726.3L1161.9 726.1V715.3L1162.6 718.5V726L1163.3 725.3V715.5L1164 715.4V726L1164.7 726.8V714.1L1165.4 715.7V727.2L1166.1 727.3V716L1166.8 716.9V724.2L1167.4 725.6V714.4L1168.1 717V725.8L1168.8 725.7V717.4L1169.5 717.4V726.2L1170.2 725.4V715.8L1170.9 717.3V727.8L1171.6 725.9V714.6L1172.3 717.5V726.2L1173 726.1V716.6L1173.7 716.4V728.4L1174.4 727V712.7L1175.1 715.6V727.3L1175.8 727.7V716.5L1176.4 712.7V728.3L1177.1 727.6V716.1L1177.8 715.8V727.4L1178.5 727V714.3L1179.2 717.3V725.9L1179.9 727.2V716L1180.6 717.5V728.3L1181.3 727V712.6L1182 714.9V728.7L1182.7 727.8V716.2L1183.4 716.7V726.4L1184.1 728.3V715.6L1184.8 716.2V726L1185.4 725.7V717.5L1186.1 714.9V725.5L1186.8 727.9V713.1L1187.5 715.6V730.9L1188.2 727.1V716L1188.9 715.8V725.8L1189.6 729.8V716.2L1190.3 716.2V729.2L1191 726.3V715.2L1191.7 713.3V728.1L1192.4 729V715.3L1193.1 716.3V726.2L1193.8 729.5V714.3L1194.5 716.1V729L1195.2 727.6V716.7L1195.8 716.1V728L1196.5 726.9V713.3L1197.2 715.8V728.2L1197.9 728V716.6L1198.6 714.2V727.7L1199.3 727.2V717.1L1200 714.8V727.3L1200.7 729.6V715.6L1201.4 716.1V729.9L1202.1 729.2V715.6L1202.8 716V727.9L1203.5 729.2V716.9L1204.2 713.9V726.3L1204.9 729.1V717.2L1205.6 716.7V728.4L1206.3 729.8V717.6L1206.9 715.1V728.2L1207.6 728.3V716L1208.3 717.1V728.6L1209 727.4V714.6L1209.7 716.4V728.7L1210.4 728.3V715.5L1211.1 715.9V727.4L1211.8 728.4V716.1L1212.5 717.1V728.1L1213.2 729.1V715.3L1213.9 714.2V727.1L1214.6 728.6V715.6L1215.3 715.6V728.3L1216 728.3V716.5L1216.7 716.8V726L1217.4 729.1V715.6L1218.1 714.4V731.1L1218.8 728.8V716.3L1219.5 716.4V727.2L1220.2 728V714.9L1220.9 715V727.6L1221.6 727.7V716.5L1222.3 715.8V729.1L1223 730.9V715.3L1223.7 715.2V728.8L1224.3 728.3V717.3L1225 716.3V729.2L1225.7 730.5V717.4L1226.4 716.2V729.1L1227.1 727.1V716L1227.8 714.9V729.9L1228.5 729.5V716.5L1229.2 713.8V732.4L1229.9 728.6V714.5L1230.6 715.1V729.7L1231.3 729V715.2L1232 714.6V728.1L1232.7 730.7V716.7L1233.4 714.1V730.2L1234.1 730.5V717.2L1234.8 716.7V729.4L1235.5 729.4V713.3L1236.2 716.8V729.7L1236.9 728.1V717.2L1237.6 717V728.8L1238.2 728.1V717.6" fill="none" stroke="#6666ff" stroke-width="1" stroke-linejoin="miter" shape-rendering="crispEdges"/>
<path d="M749 847.4V762.9H803.3V722.7H828.5V658.3H845.2V620.6H857.6V636.5H867.5V706.1H875.8H882.9V711.6H889V683.7H894.5V631.5H899.5V635.7H904V637.5H908.1V653.8H911.9V738.6H915.4V714.5H918.7V709.6H921.8V712H924.7V715.7H927.5V724.1H930.1V766.7H932.6V837.8H934.9V847.4H937.2H939.3H941.4H943.3H945.2H947.1H948.8H950.5H952.2H953.8H955.3H956.8H958.3H959.7H961.1H962.4H963.7H965H966.2H967.4H968.6H969.7H970.9H972H973H974.1H975.1H976.1H977.1H978.1H979H980H980.9H981.8H982.7H983.5H984.4H985.2H986H986.9H987.6H988.4H989.2H990H990.7H991.5H992.2H992.9H993.6L994 847.4L994.6 847.4L995.3 847.4L996 847.4L996.7 847.4L997.3 847.4L998 847.4L998.6 847.4L999.2 847.4L999.8 847.4L1000.5 847.4L1001.1 847.4L1001.7 847.4L1002.3 847.4L1002.8 847.4L1003.4 847.4L1004 847.4L1004.6 847.4L1005.1 847.4L1005.7 847.4L1006.2 847.4L1006.8 847.4L1007.3 847.4L1007.8 847.4L1008.3 847.4L1008.9 847.4L1009.4 847.4L1009.9 847.4L1010.4 847.4L1010.9 847.4L1011.4 847.4L1011.9 847.4L1012.3 847.4L1012.8 847.4L1013.3 847.4L1013.8 847.4L1014.2 847.4L1014.7 847.4L1015.1 847.4L1015.6 847.4L1016 847.4L1016.5 847.4L1016.9 847.4L1017.4 847.4L1017.8 847.4L1018.2 847.4L1018.6 847.4L1019.1 847.4L1019.5 847.4L1019.9 847.4L1020.3 847.4L1020.7 847.4L1021.1 847.4L1021.5 847.4L1021.9 847.4L1022.3 847.4L1022.7 847.4L1023.1 847.4L1023.5 847.4L1023.8 847.4L1024.2 847.4L1024.6 847.4L1025 847.4L1025.3 847.4L1025.7 847.4L1026.1 847.4L1026.4 847.4L1026.8 847.4L1027.2 847.4L1027.5 847.4L1028 847.4L1028.7 847.4L1029.4 847.4L1030.1 847.4L1030.8 847.4L1031.4 847.4L1032.1 847.4L1032.7 847.4L1033.3 847.4L1034 847.4L1034.6 847.4L1035.2 847.4L1035.8 847.4L1036.4 847.4L1037 847.4L1037.5 847.4L1038.1 847.4L1038.7 847.4L1039.2 847.4L1039.8 847.4L1040.3 847.4L1040.9 847.4L1041.4 847.4L1041.9 847.4L1042.5 847.4L1043 847.4L1043.5 847.4L1044 847.4L1044.5 847.4L1045 847.4L1045.5 847.4L1046 847.4L1046.5 847.4L1047 847.4L1047.4 847.4L1048 847.4L1048.7 847.4L1049.4 847.4L1050.1 847.4L1050.7 847.4L1051.4 847.4L1052 847.4L1052.7 847.4L1053.3 847.4L1053.9 847.4L1054.6 847.4L1055.2 847.4L1055.8 847.4L1056.4 847.4L1057 847.4L1057.5 847.4L1058.1 847.4L1058.7 847.4L1059.2 847.4L1059.8 847.4L1060.3 847.4L1060.9 847.4L1061.4 847.4L1061.9 847.4L1062.6 847.4L1063.2 847.4L1063.9 847.4L1064.6 847.4L1065.3 847.4L1065.9 847.4L1066.6 847.4L1067.2 847.4L1067.8 847.4L1068.4 847.4L1069.1 847.4L1069.7 847.4L1070.3 847.4L1070.9 847.4L1071.4 847.4L1072 847.4L1072.6 847.4L1073.2 847.4L1073.8 847.4L1074.5 847.4L1075.1 847.4L1075.8 847.4L1076.5 847.4L1077.1 847.4L1077.8 847.4L1078.4 847.4L1079 847.4L1079.6 847.4L1080.3 847.4L1080.9 847.4L1081.5 847.4L1082 847.4L1082.7 847.4L1083.4 847.4L1084.1 847.4L1084.7 847.4L1085.4 847.4L1086 847.4L1086.7 847.4L1087.3 847.4L1087.9 847.4L1088.6 847.4L1089.2 847.4L1089.8 847.4L1090.4 847.4L1091.1 847.4L1091.8 847.4L1092.5 847.4L1093.1 847.4L1093.8 847.4L1094.4 847.4L1095 847.4L1095.7 847.4L1096.3 847.4L1096.9 847.4L1097.6 847.4L1098.3 847.4L1099 847.4L1099.6 847.4L1100.3 847.4L1100.9 847.4L1101.6 847.4L1102.2 847.4L1102.9 847.4L1103.5 847.4L1104.2 847.4L1104.9 847.4L1105.6 847.4L1106.2 847.4L1106.8 847.4L1107.5 847.4L1108.2 847.4L1108.9 847.4L1109.6 847.4L1110.2 847.4L1110.9 847.4L1111.5 847.4L1112.2 847.4L1112.9 847.4L1113.6 847.4L1114.3 847.4L1114.9 847.4L1115.6 847.4L1116.2 847.4L1116.9 847.4L1117.6 847.4L1118.3 847.4L1119 847.4L1119.6 847.4L1120.3 847.4L1120.9 847.4L1121.6 847.4L1122.3 847.4L1123 847.4L1123.6 847.4L1124.3 847.4L1125 847.4L1125.7 847.4L1126.4 847.4L1127 847.4L1127.7 847.4L1128.4 847.4L1129.1 847.4L1129.8 847.4L1130.4 847.4L1131.1 847.4L1131.8 847.4L1132.5 847.4L1133.1 847.4L1133.8 847.4L1134.5 847.4L1135.2 847.4L1135.9 847.4L1136.6 847.4L1137.3 847.4L1137.9 847.4L1138.6 847.4L1139.3 847.4L1140 847.4L1140.7 847.4L1141.4 847.4L1142 847.4L1142.7 847.4L1143.4 847.4L1144.1 847.4L1144.8 847.4L1145.4 847.4L1146.1 847.4L1146.8 847.4L1147.5 847.4L1148.2 847.4L1148.9 847.4L1149.6 847.4L1150.2 847.4L1150.9 847.4L1151.6 847.4L1152.3 847.4L1153 847.4L1153.7 847.4L1154.4 847.4L1155.1 847.4L1155.7 847.4L1156.4 847.4L1157.1 847.4L1157.8 847.4L1158.5 847.4L1159.2 847.4L1159.9 847.4L1160.6 847.4L1161.2 847.4L1161.9 847.4L1162.6 847.4L1163.3 847.4L1164 847.4L1164.7 847.4L1165.4 847.4L1166.1 847.4L1166.8 847.4L1167.4 847.4L1168.1 847.4L1168.8 847.4L1169.5 847.4L1170.2 847.4L1170.9 847.4L1171.6 847.4L1172.3 847.4L1173 847.4L1173.7 847.4L1174.4 847.4L1175.1 847.4L1175.8 847.4L1176.4 847.4L1177.1 847.4L1177.8 847.4L1178.5 847.4L1179.2 847.4L1179.9 847.4L1180.6 847.4L1181.3 847.4L1182 847.4L1182.7 847.4L1183.4 847.4L1184.1 847.4L1184.8 847.4L1185.4 847.4L1186.1 847.4L1186.8 847.4L1187.5 847.4L1188.2 847.4L1188.9 847.4L1189.6 847.4L1190.3 847.4L1191 847.4L1191.7 847.4L1192.4 847.4L1193.1 847.4L1193.8 847.4L1194.5 847.4L1195.2 847.4L1195.8 847.4L1196.5 847.4L1197.2 847.4L1197.9 847.4L1198.6 847.4L1199.3 847.4L1200 847.4L1200.7 847.4L1201.4 847.4L1202.1 847.4L1202.8 847.4L1203.5 847.4L1204.2 847.4L1204.9 847.4L1205.6 847.4L1206.3 847.4L1206.9 847.4L1207.6 847.4L1208.3 847.4L1209 847.4L1209.7 847.4L1210.4 847.4L1211.1 847.4L1211.8 847.4L1212.5 847.4L1213.2 847.4L1213.9 847.4L1214.6 847.4L1215.3 847.4L1216 847.4L1216.7 847.4L1217.4 847.4L1218.1 847.4L1218.8 847.4L1219.5 847.4L1220.2 847.4L1220.9 847.4L1221.6 847.4L1222.3 847.4L1223 847.4L1223.7 847.4L1224.3 847.4L1225 847.4L1225.7 847.4L1226.4 847.4L1227.1 847.4L1227.8 847.4L1228.5 847.4L1229.2 847.4L1229.9 847.4L1230.6 847.4L1231.3 847.4L1232 847.4L1232.7 847.4L1233.4 847.4L1234.1 847.4L1234.8 847.4L1235.5 847.4L1236.2 847.4L1236.9 847.4L1237.6 847.4L1238.2 847.4" fill="none" stroke="#cc00cc" stroke-width="1" stroke-linejoin="miter" shape-rendering="crispEdges"/>
<text x="993" y="571.4" class="tt" text-anchor="middle">SDB1_MAR_TY_corr__FFT</text>
<text transform="translate(675.3 592.3) rotate(-90)" class="yt" text-anchor="end">V/sqrt(Hz)</text>
<text x="740" y="616.4" class="al" text-anchor="end">1</text>
<text x="742.3" y="712.5" class="al" text-anchor="end">10<tspan class="sp" dy="-8.5">-1</tspan></text>
<text x="742.3" y="806.1" class="al" text-anchor="end">10<tspan class="sp" dy="-8.5">-2</tspan></text>
<text x="817.5" y="874.9" class="al" text-anchor="middle">1</text>
<text x="931.3" y="874.9" class="al" text-anchor="middle">10</text>
<text x="1031.1" y="874.9" class="al" text-anchor="start">10<tspan class="sp" dy="-9">2</tspan></text>
<text x="1145" y="874.9" class="al" text-anchor="start">10<tspan class="sp" dy="-9">3</tspan></text>
<text x="1238.5" y="887.4" class="hz" text-anchor="end">Hz</text>
<text x="958.5" y="916.4" class="mg" text-anchor="middle">1449493354.0000 Dec11 2025 13:02:16 UTC</text>
<text x="958.5" y="940.9" class="bk" text-anchor="middle">1449493624.00 Dec11 2025 13:06:46 UTC dt:2s nAv:60</text>
<path d="M1396.5 594.6V847.4M1410.5 594.6V847.4M1421.5 594.6V847.4M1430.5 594.6V847.4M1438.5 594.6V847.4M1444.5 594.6V847.4M1450.5 594.6V847.4M1455.5 594.6V847.4M1489.5 594.6V847.4M1510.5 594.6V847.4M1524.5 594.6V847.4M1535.5 594.6V847.4M1544.5 594.6V847.4M1551.5 594.6V847.4M1558.5 594.6V847.4M1564.5 594.6V847.4M1569.5 594.6V847.4M1603.5 594.6V847.4M1623.5 594.6V847.4M1638.5 594.6V847.4M1649.5 594.6V847.4M1658.5 594.6V847.4M1665.5 594.6V847.4M1672.5 594.6V847.4M1678.5 594.6V847.4M1683.5 594.6V847.4M1717.5 594.6V847.4M1737.5 594.6V847.4M1751.5 594.6V847.4M1762.5 594.6V847.4M1771.5 594.6V847.4M1779.5 594.6V847.4M1786.5 594.6V847.4M1791.5 594.6V847.4M1797.5 594.6V847.4M1831.5 594.6V847.4M1851.5 594.6V847.4M1865.5 594.6V847.4M1876.5 594.6V847.4M1387.2 822.5H1876.7M1387.2 751.5H1876.7M1387.2 680.5H1876.7M1387.2 609.5H1876.7" stroke="#000" stroke-opacity=".6" stroke-width="1" stroke-dasharray="1 2" fill="none" shape-rendering="crispEdges"/>
<rect x="1387.2" y="594.6" width="489.5" height="252.8" fill="none" stroke="#000" stroke-width="1.3"/>
<path d="M1396.5 847.4v-5M1410.5 847.4v-5M1421.5 847.4v-5M1430.5 847.4v-5M1438.5 847.4v-5M1444.5 847.4v-5M1450.5 847.4v-5M1455.5 847.4v-10M1489.5 847.4v-5M1510.5 847.4v-5M1524.5 847.4v-5M1535.5 847.4v-5M1544.5 847.4v-5M1551.5 847.4v-5M1558.5 847.4v-5M1564.5 847.4v-5M1569.5 847.4v-10M1603.5 847.4v-5M1623.5 847.4v-5M1638.5 847.4v-5M1649.5 847.4v-5M1658.5 847.4v-5M1665.5 847.4v-5M1672.5 847.4v-5M1678.5 847.4v-5M1683.5 847.4v-10M1717.5 847.4v-5M1737.5 847.4v-5M1751.5 847.4v-5M1762.5 847.4v-5M1771.5 847.4v-5M1779.5 847.4v-5M1786.5 847.4v-5M1791.5 847.4v-5M1797.5 847.4v-10M1831.5 847.4v-5M1851.5 847.4v-5M1865.5 847.4v-5M1876.5 847.4v-5M1387.2 843.5h5.5M1387.2 838.5h5.5M1387.2 833.5h5.5M1387.2 829.5h5.5M1387.2 825.5h5.5M1387.2 822.5h11.5M1387.2 800.5h5.5M1387.2 788.5h5.5M1387.2 779.5h5.5M1387.2 772.5h5.5M1387.2 767.5h5.5M1387.2 762.5h5.5M1387.2 758.5h5.5M1387.2 754.5h5.5M1387.2 751.5h11.5M1387.2 730.5h5.5M1387.2 717.5h5.5M1387.2 708.5h5.5M1387.2 701.5h5.5M1387.2 696.5h5.5M1387.2 691.5h5.5M1387.2 687.5h5.5M1387.2 683.5h5.5M1387.2 680.5h11.5M1387.2 659.5h5.5M1387.2 646.5h5.5M1387.2 637.5h5.5M1387.2 630.5h5.5M1387.2 625.5h5.5M1387.2 620.5h5.5M1387.2 616.5h5.5M1387.2 612.5h5.5M1387.2 609.5h11.5" stroke="#000" stroke-width="1" fill="none" shape-rendering="crispEdges"/>
<path d="M1387.2 740.9H1441.5V844.3H1466.7V826.6H1483.4V806.3H1495.8V791.8H1505.7V782.2H1514V772.7H1521.1V763.5H1527.2V757.8H1532.7V750.7H1537.7V746.4H1542.2V740.1H1546.3V733.7H1550.1V729.4H1553.6V727.6H1556.9V725.1H1560V721.8H1562.9V717.7H1565.7V713.4H1568.3V710.7H1570.8V708.4H1573.1V704.6H1575.4V703.3H1577.5V698H1579.6V697.3H1581.5V693.2H1583.4V692.8H1585.3V690.6H1587V690.2H1588.7V684.5H1590.4V682H1592V681.7H1593.5V678H1595V676.5H1596.5V677.3H1597.9V675.2H1599.3V670.6H1600.6V669.9H1601.9V667.8H1603.2V665.5H1604.4V665.1H1605.6V666.6H1606.8V663.1H1607.9V661.6H1609.1V659H1610.2V655.7H1611.2V656.8H1612.3V655H1613.3V653.7H1614.3V655.3H1615.3V652.2H1616.3V650H1617.2V650.3H1618.2V646.2H1619.1V648.5H1620V647.3H1620.9V642.4H1621.7V642.1H1622.6V641.3H1623.4V641H1624.2V638.5H1625.1V638H1625.8V637.6H1626.6V635.3H1627.4V636.6H1628.2V634H1628.9V632.8H1629.7V633.1H1630.4V631.9H1631.1V628.7H1631.8L1632.2 629.2L1632.8 631L1633.5 627.1L1634.2 625.9L1634.9 626.7L1635.5 628L1636.2 625.8L1636.8 624.4L1637.4 620L1638 624.2L1638.7 622.2L1639.3 622.8L1639.9 620.9L1640.5 623.3L1641 621.1L1641.6 621L1642.2 617.2L1642.8 622L1643.3 623.5L1643.9 621.3L1644.4 622.6L1645 618.2L1645.5 618.3L1646 620.5L1646.5 619.7L1647.1 619L1647.6 618.6L1648.1 615.8L1648.6 620.5L1649.1 619.4L1649.6 617.6L1650.1 619L1650.5 615.2L1651 617.6L1651.5 621.1L1652 618.3L1652.4 620.7L1652.9 617.5L1653.3 615.3L1653.8 618.2L1654.2 621.4L1654.7 619.9L1655.1 621.1L1655.6 619L1656 616.8L1656.4 618.4L1656.8 616.7L1657.3 623.3L1657.7 617L1658.1 620.2L1658.5 617.9L1658.9 621.3L1659.3 617.6L1659.7 621.6L1660.1 618.8L1660.5 618.6L1660.9 619.8L1661.3 618.6L1661.7 621.7L1662 616.1L1662.4 616L1662.8 621.4L1663.2 620.1L1663.5 617.6L1663.9 621.8L1664.3 621.4L1664.6 620.7L1665 619.4L1665.4 619.3L1665.7 617.3L1666.2 619V619.1L1666.9 617.6V621.3L1667.6 623.1V619.2L1668.3 617.1V622.9L1669 621.2V620.4L1669.6 619.3V615.5L1670.3 617.8V622.5L1670.9 618.1V617L1671.5 619.8V622.2L1672.2 621.9V616L1672.8 615.3V619.6L1673.4 618.3V617.6L1674 614.6V621.2L1674.6 619.1V618.8L1675.2 621.5V623.7L1675.7 619.8V618.7L1676.3 617.2V616.5L1676.9 615.8V619.3L1677.4 616.9V616.1L1678 619.7V624.1L1678.5 619.9V614.4L1679.1 619.8V620.9L1679.6 619.5V617.5L1680.1 620V623.9L1680.7 620.7V616.5L1681.2 621.7V622.2L1681.7 621.3V618.1L1682.2 618.1V620L1682.7 618.7V618.2L1683.2 619.6V623.3L1683.7 622.8V619.1L1684.2 620.5V615.9L1684.7 621.1V621.7L1685.2 620.2V617L1685.6 618.4V621.8L1686.2 624V619.1L1686.9 616.9V622.1L1687.6 620.8V620.1L1688.3 621V616.9L1688.9 617.2V622L1689.6 623.9V618.3L1690.2 618.5V621L1690.9 619.9V622.6L1691.5 621.4V618.8L1692.1 618.2V622.5L1692.8 623.2V619.3L1693.4 620V621.9L1694 623.5V618.5L1694.6 618.5V624L1695.2 624.8V618.4L1695.7 621.3V623.9L1696.3 623V620.1L1696.9 620.8V618.5L1697.4 619.9V621.8L1698 623.6V618.3L1698.5 617.1V624.9L1699.1 623.2V614.3L1699.6 618.5V625.8L1700.1 621.7V617.8L1700.8 620.5V622.1L1701.4 621.8V618.3L1702.1 620.3V621.7L1702.8 623.1V618.6L1703.5 618.8V622.6L1704.1 623.5V620L1704.8 619.1V617.2L1705.4 618.4V621L1706 623.5V618L1706.6 617V623.4L1707.3 624.2V617.1L1707.9 618V622.7L1708.5 622.6V620L1709.1 620.5V616.4L1709.6 618.1V622.3L1710.2 622.3V619.6L1710.8 620V622.3L1711.4 621.3V617.4L1712 619.1V622.5L1712.7 625.8V618L1713.3 618.6V621.7L1714 621.8V617.5L1714.7 620.5V624.2L1715.3 622.7V619.1L1716 616.8V622.7L1716.6 623.1V617.9L1717.2 617.4V623.5L1717.8 623.5V617.4L1718.5 619.2V623.9L1719.1 621.1V618.5L1719.7 617.8V623.6L1720.2 623.6V619.7L1720.9 618.4V622L1721.6 621.8V616L1722.3 617.7V623.7L1722.9 626.2V618.8L1723.6 618.6V622.7L1724.2 624.1V620.3L1724.9 619V625.2L1725.5 623V617.8L1726.1 620.2V625.7L1726.8 622V617.9L1727.4 618.6V622.6L1728 622.3V619.5L1728.6 618.4V623.3L1729.3 625V616.9L1730 619.5V624.1L1730.7 625.2V617.8L1731.3 619.5V625.1L1732 623.2V619.3L1732.6 617V623.7L1733.2 623.7V618L1733.9 620.1V623.9L1734.5 622.8V619L1735.1 618V629.1L1735.8 625.1V617.3L1736.5 617.3V622.2L1737.2 625.2V616.8L1737.8 617.4V625.3L1738.5 626.7V618.4L1739.1 618.8V624.4L1739.8 623.7V618.9L1740.4 617.1V625.8L1741.1 623.5V618L1741.7 618.4V622.4L1742.4 623.3V618.4L1743.1 617.5V624.1L1743.8 625.8V619L1744.4 619.9V625L1745 623.2V616.9L1745.7 618.2V625.5L1746.4 624.1V619.3L1747.1 620.1V623.3L1747.8 623.9V617.9L1748.4 620.4V626.3L1749.1 624.4V619.6L1749.7 618.6V623.4L1750.4 627V617.9L1751.1 614.4V625.3L1751.8 628.1V617.6L1752.5 617.5V625.3L1753.1 625V616.9L1753.8 617.5V624.6L1754.4 625.4V616.1L1755.1 617.5V625.6L1755.8 624.4V618.2L1756.5 618.8V628.2L1757.2 624.3V617L1757.8 618.1V625.7L1758.5 625.9V617.8L1759.1 618.3V624L1759.8 626.7V617.2L1760.5 618.6V626.6L1761.2 623.8V618.7L1761.8 619.3V626.3L1762.5 626.1V618.7L1763.2 619.3V625.6L1763.9 624.8V618.9L1764.6 617.7V626.8L1765.2 626.4V618L1765.9 617.9V626.1L1766.6 622.9V618.9L1767.3 617.6V626.1L1768 626.1V619L1768.6 617.2V626.8L1769.3 625.8V615.3L1770 618.8V627L1770.7 626.9V618.2L1771.3 617.4V625.6L1772 630.4V618.6L1772.7 616.7V627L1773.4 624.8V619.8L1774.1 617.8V624.7L1774.8 625.8V618.9L1775.5 615.7V624.6L1776.1 625.7V619.4L1776.8 617.2V625.6L1777.5 627.5V617.8L1778.2 617.9V625L1778.9 625.2V618.7L1779.6 618.3V623.9L1780.2 626.8V617.5L1780.9 619V628.2L1781.6 625.2V619.6L1782.3 617.5V626L1783 626.8V619.1L1783.6 618.2V625.8L1784.3 627.5V616.2L1785 616.4V625.3L1785.7 626.4V618.5L1786.4 617.1V624.4L1787.1 624.8V617L1787.8 619.2V627.3L1788.4 626.7V618.1L1789.1 617.8V627.2L1789.8 627V618.8L1790.5 617.3V626.2L1791.2 627.1V617L1791.9 617.2V626.7L1792.6 626.2V616.4L1793.3 616.6V628.1L1793.9 628.4V617.2L1794.6 618.3V629L1795.3 626.3V619.4L1796 617.9V625.7L1796.7 626.5V618.3L1797.4 619.6V625.7L1798.1 628.6V618.4L1798.8 618.7V626.2L1799.4 627.9V618.6L1800.1 617V626.5L1800.8 626.6V617.1L1801.5 618.6V628L1802.2 625.4V616.6L1802.9 618.3V627.5L1803.6 628.9V618.5L1804.3 619.7V625.5L1805 629.5V618.7L1805.6 616.5V626.4L1806.3 627.3V616.3L1807 618.7V630.9L1807.7 625.9V618.4L1808.4 619.3V628.1L1809.1 627.6V617.5L1809.8 615.7V625.7L1810.5 626.6V617.4L1811.2 618.7V627L1811.9 627.2V617.2L1812.6 616.6V628.5L1813.3 627.5V618.4L1814 616.8V627.9L1814.6 627.6V618.1L1815.3 618.4V627.9L1816 627.9V618.2L1816.7 618.8V626.3L1817.4 626.8V618.1L1818.1 617.3V628.7L1818.8 626.8V618.2L1819.5 617.6V626.9L1820.2 626.1V617.7L1820.9 618.7V627.5L1821.6 628.4V618.2L1822.3 615.6V628.9L1823 627.8V619L1823.6 617.2V627.1L1824.3 627.2V616.9L1825 618.7V627.8L1825.7 628.6V619.3L1826.4 618.2V626.7L1827.1 628.5V616.2L1827.8 618.7V629.1L1828.5 629.2V617.8L1829.2 617.6V627.3L1829.9 628V617.5L1830.6 616.6V627.8L1831.3 627.5V619.1L1832 617.3V626.3L1832.7 626.3V616.9L1833.4 617.3V627.9L1834 627.7V618.5L1834.7 618.6V628.3L1835.4 627V619.6L1836.1 617.1V627.2L1836.8 628.2V618.2L1837.5 618.5V627.7L1838.2 628.3V618.9L1838.9 616.6V629.4L1839.6 629.6V619.1L1840.3 619.1V628.3L1841 627.8V618.5L1841.7 618V628L1842.4 628.7V618.4L1843.1 618.6V627.1L1843.8 627V620L1844.5 617.7V626.8L1845.1 628.2V616.3L1845.8 617.7V629.3L1846.5 629V618L1847.2 618.6V629.2L1847.9 628.4V617L1848.6 616.4V628.6L1849.3 629.5V617.2L1850 617.2V629.7L1850.7 629.2V618.4L1851.4 618.5V630L1852.1 628.8V618.9L1852.8 617.7V628.3L1853.5 628.4V617.3L1854.2 618.3V628.3L1854.9 630.5V618.8L1855.6 617.9V629.1L1856.3 628.2V619.1L1857 617.8V630.3L1857.7 630.5V619L1858.4 617.7V628.8L1859.1 627.5V617.1L1859.8 618.7V629.1L1860.5 629.5V618.5L1861.2 618.3V628.3L1861.9 628.7V619L1862.5 619.7V629.8L1863.2 628.3V617.3L1863.9 618.6V629.1L1864.6 629V618L1865.3 617.5V630L1866 628.5V617.6L1866.7 618.3V628.7L1867.4 627.9V617.5L1868.1 616.5V629.6L1868.8 629.6V617.4L1869.5 618.6V628.3L1870.2 629.7V617L1870.9 619.2V629.4L1871.6 630.5V617.4L1872.3 618.6V630.2L1873 630.4V617.8L1873.7 617.8V629.1L1874.4 628.8V618.2L1875.1 617.7V630.3L1875.8 629.2V618.3L1876.4 618.5V632.3" fill="none" stroke="#6666ff" stroke-width="1" stroke-linejoin="miter" shape-rendering="crispEdges"/>
<path d="M1387.2 847.4V744.3H1441.5V845.3H1466.7V826.6H1483.4V808.8H1495.8V793.9H1505.7V783.3H1514V775.2H1521.1V766.6H1527.2V758.5H1532.7V751H1537.7V746.4H1542.2V740.8H1546.3V733.9H1550.1V729.8H1553.6V728.5H1556.9V723.7H1560V722.5H1562.9V717.3H1565.7V711.8H1568.3V709.5H1570.8V707.1H1573.1V705.9H1575.4V702.4H1577.5V699.4H1579.6V696.2H1581.5V693.3H1583.4V691.7H1585.3V688.2H1587V687.8H1588.7V687.4H1590.4V681.1H1592V683.7H1593.5V680.1H1595V675.9H1596.5V676.1H1597.9V674.6H1599.3V672.3H1600.6V668H1601.9H1603.2V668.4H1604.4V666.6H1605.6V665.1H1606.8H1607.9V661.1H1609.1V660.5H1610.2V658.3H1611.2V657.1H1612.3V656.5H1613.3V652.8H1614.3V650H1615.3V651.9H1616.3V647.7H1617.2V651.2H1618.2V647.8H1619.1V646.4H1620V645.4H1620.9V646H1621.7V641.2H1622.6H1623.4V640H1624.2V643.6H1625.1V640.2H1625.8V639.4H1626.6V635.8H1627.4V634.7H1628.2V634.3H1628.9V636.1H1629.7V630.6H1630.4V632.6H1631.1V629.1H1631.8L1632.2 629.6L1632.8 628.3L1633.5 627.4L1634.2 627.5L1634.9 628.7L1635.5 625.9L1636.2 625.5L1636.8 623.6L1637.4 626.3L1638 623.5L1638.7 623.8L1639.3 619.4L1639.9 621.9L1640.5 623.4L1641 621.2L1641.6 619L1642.2 619.2L1642.8 620.9L1643.3 621.2L1643.9 621.8L1644.4 618.8L1645 618.6L1645.5 618.1L1646 623.6L1646.5 619.3L1647.1 618.7L1647.6 615.6L1648.1 618L1648.6 618.8L1649.1 617.8L1649.6 617.8L1650.1 615.2L1650.5 619.9L1651 623.8L1651.5 620.6L1652 617.4L1652.4 618.5L1652.9 618.8L1653.3 618L1653.8 617.5L1654.2 618.7L1654.7 618.1L1655.1 621.1L1655.6 618.7L1656 620.6L1656.4 620.8L1656.8 617.8L1657.3 622.9L1657.7 619.8L1658.1 615.9L1658.5 619.2L1658.9 619.2L1659.3 617.5L1659.7 617.6L1660.1 621.1L1660.5 620.3L1660.9 620.8L1661.3 618.7L1661.7 618.2L1662 620.1L1662.4 619.9L1662.8 620.7L1663.2 620.4L1663.5 618.8L1663.9 619.8L1664.3 616.1L1664.6 617.8L1665 616.9L1665.4 615.4L1665.7 620.6L1666.2 616.8V615.7L1666.9 618.8L1667.6 618.2V616.4L1668.3 617.7V621.3L1669 620.6V616.8L1669.6 621.7V622.9L1670.3 620.7V620.6L1670.9 620.3V624.3L1671.5 619.9V618.8L1672.2 620.2V621.1L1672.8 620.3V617.7L1673.4 621.1V621.6L1674 621.7V619.9L1674.6 618.8V622L1675.2 620.1V615.8L1675.7 618.5V618.8L1676.3 619.7V621.4L1676.9 621.2V620.1L1677.4 619.8V622.3L1678 622.2V620.3L1678.5 620.4V618.4L1679.1 622.8V623.5L1679.6 620.7V620.1L1680.1 620.4V620.5L1680.7 620.1V618L1681.2 619.9V622.8L1681.7 620.4V619.7L1682.2 617.4V616.4L1682.7 620.8V621.8L1683.2 621.8V621.4L1683.7 619.7V623.6L1684.2 622.6V619.7L1684.7 621.5V622L1685.2 622.2V623.1L1685.6 620.9V619.6L1686.2 622.8V614.8L1686.9 617.8V623.2L1687.6 620.5V619.6L1688.3 621.1V616.7L1688.9 619.5V621.8L1689.6 620.7V617.3L1690.2 620.8V623.3L1690.9 620.6V619.9L1691.5 619.7V623.7L1692.1 622V618.1L1692.8 617.9V620.3L1693.4 620V617.8L1694 618.2V623.7L1694.6 622.2V619.6L1695.2 621.6V626.5L1695.7 622.4V616.2L1696.3 622.4V624.1L1696.9 620.3V618.8L1697.4 620V621.7L1698 620.6V624L1698.5 620.9V618.8L1699.1 617.6V623.8L1699.6 623.7V619.2L1700.1 620.9V616.2L1700.8 619.4V623.3L1701.4 622.4V619.2L1702.1 617.5V623.8L1702.8 623.9V618L1703.5 616.6V622.3L1704.1 624.4V618.2L1704.8 617.8V623.9L1705.4 622.4V619.7L1706 618.8V623L1706.6 619.5V627L1707.3 621.4V617.7L1707.9 617.3V622.3L1708.5 623.5V617.9L1709.1 619.8V623.6L1709.6 624.1V619.8L1710.2 619.4V624.4L1710.8 623.7V618.9L1711.4 618.3V622.6L1712 623.8V619.3L1712.7 618V622.6L1713.3 624V618.6L1714 615.7V623.3L1714.7 625.5V618.8L1715.3 616.2V622.4L1716 623.4V619.1L1716.6 616.6V623.5L1717.2 623.3V620.1L1717.8 620.5V618.9L1718.5 619.7V623.3L1719.1 623.2V619.6L1719.7 618.7V624.2L1720.2 623.4V617.8L1720.9 618.5V623.7L1721.6 624.3V618.8L1722.3 620.4V623.7L1722.9 622.1V619.9L1723.6 617.9V625L1724.2 623.6V619.2L1724.9 618.2V623.2L1725.5 624.2V619.4L1726.1 618.6V621.1L1726.8 623.4V617.9L1727.4 618.3V622.9L1728 623.4V618.4L1728.6 618.8V623.9L1729.3 625V617.9L1730 618.3V622.9L1730.7 624.5V618.8L1731.3 616.1V625.8L1732 624.1V618.7L1732.6 618.1V624.9L1733.2 621.7V618.2L1733.9 621.4V614.8L1734.5 620V623.3L1735.1 623.9V621.2L1735.8 619V625.4L1736.5 627.6V619.3L1737.2 620.5V625.6L1737.8 626V618L1738.5 619.1V624.9L1739.1 624.6V618L1739.8 618.3V625.7L1740.4 621.8V617.6L1741.1 619.4V625.2L1741.7 624.1V620L1742.4 617.1V624.5L1743.1 623.3V619.4L1743.8 619.1V622.2L1744.4 624.2V618.7L1745 619.2V624.4L1745.7 625.9V616.3L1746.4 619.6V623.2L1747.1 626.5V617.9L1747.8 618.1V625.7L1748.4 625.4V617.9L1749.1 618.8V625.4L1749.7 622.9V617.7L1750.4 617.6V624.7L1751.1 623.7V619.2L1751.8 616.5V628.6L1752.5 625.3V618.3L1753.1 617.7V624.6L1753.8 624.9V618.6L1754.4 617.3V624.3L1755.1 623.5V617.9L1755.8 618.7V626.1L1756.5 623.8V618.4L1757.2 618.2V623.5L1757.8 626.2V618.9L1758.5 617.9V623.7L1759.1 625.8V617.7L1759.8 616.9V626L1760.5 626.2V620L1761.2 618.1V624.6L1761.8 625.6V618.4L1762.5 618.5V626.1L1763.2 624.4V616.5L1763.9 619.7V626.5L1764.6 623.9V618.8L1765.2 617.2V626.7L1765.9 625.7V617.4L1766.6 619.4V625.1L1767.3 625.3V617.9L1768 620V627L1768.6 626.5V620.1L1769.3 617.8V625.2L1770 627.8V618.5L1770.7 618.2V624.2L1771.3 626V618.6L1772 618.2V623.6L1772.7 625.6V617.8L1773.4 618.8V625.2L1774.1 626.3V616.9L1774.8 619.3V626.9L1775.5 624.3V619.2L1776.1 619.4V626.9L1776.8 625.5V617.9L1777.5 618.8V624.7L1778.2 625.9V618.4L1778.9 618.7V627.2L1779.6 625.7V619.3L1780.2 618.5V626.9L1780.9 625.7V618.4L1781.6 618.6V626.3L1782.3 624.3V617.2L1783 617.3V625.2L1783.6 625V618.4L1784.3 617.7V625.6L1785 626.1V618.1L1785.7 615.9V626.1L1786.4 626.8V618L1787.1 618.4V625.4L1787.8 627.8V619L1788.4 618.5V626.8L1789.1 624.9V619.1L1789.8 616.3V627.1L1790.5 626.4V618.3L1791.2 619.2V625.5L1791.9 627.7V620.6L1792.6 619.4V625.4L1793.3 626.3V618.9L1793.9 617.1V625.5L1794.6 624.9V617.9L1795.3 619.2V626.5L1796 625.9V617.8L1796.7 618.8V625.4L1797.4 626.1V617.9L1798.1 619.7V627L1798.8 625.4V618.5L1799.4 618.1V626L1800.1 624.3V617.2L1800.8 617.6V626.3L1801.5 627.2V616.9L1802.2 618.6V624.6L1802.9 626V617.9L1803.6 617.8V627.8L1804.3 629.9V617.2L1805 618.6V628.3L1805.6 627V619.3L1806.3 619.1V625.9L1807 629.8V618.3L1807.7 618V628.5L1808.4 626.8V618.2L1809.1 618.1V627.5L1809.8 625.5V618L1810.5 619.5V626.4L1811.2 628.5V618.4L1811.9 618.4V626.1L1812.6 627.8V618.8L1813.3 618.8V628.2L1814 625.9V616.5L1814.6 618.3V626.3L1815.3 625.7V617.5L1816 618.8V627.8L1816.7 627.8V619.1L1817.4 619.1V626.5L1818.1 626.7V618.2L1818.8 619.9V626.2L1819.5 627.9V618.8L1820.2 618V626.9L1820.9 628V617.4L1821.6 617V626.5L1822.3 629.1V619.3L1823 618.9V627.3L1823.6 627.5V618.3L1824.3 618.8V627.8L1825 626.2V616.7L1825.7 618.3V629.5L1826.4 627.8V618.3L1827.1 618.1V627L1827.8 626.5V617.5L1828.5 619.1V626.6L1829.2 627.5V617.1L1829.9 617.8V627.6L1830.6 627.6V619.5L1831.3 617.5V627.5L1832 626.9V618.3L1832.7 618.5V627.1L1833.4 629.2V619.1L1834 618.3V627.4L1834.7 627.8V618.5L1835.4 619.5V627L1836.1 627.4V620L1836.8 617.8V627.3L1837.5 626.6V617.1L1838.2 617.9V628.8L1838.9 627.2V618.2L1839.6 617.6V627.4L1840.3 627.9V619.6L1841 617.4V627.8L1841.7 627.1V618.4L1842.4 617.6V627.5L1843.1 626.8V615.9L1843.8 618.7V629.9L1844.5 628.7V617.5L1845.1 618.9V627.3L1845.8 628.8V619.2L1846.5 618.4V628.1L1847.2 626.7V619L1847.9 618.7V627.6L1848.6 628.7V618.4L1849.3 617.9V628.1L1850 627.7V618.2L1850.7 618.1V627.6L1851.4 627.2V616.6L1852.1 618.9V628L1852.8 630V619L1853.5 619.4V627.4L1854.2 629.6V617.6L1854.9 617.9V629.3L1855.6 628.6V619.1L1856.3 618.5V629.7L1857 627.6V618.9L1857.7 618.1V628.1L1858.4 628V618.5L1859.1 619.2V628.5L1859.8 630V620.2L1860.5 617.4V630L1861.2 629V617.1L1861.9 619.4V628.3L1862.5 627.8V618L1863.2 619.2V628L1863.9 628.9V618.8L1864.6 618.4V628.7L1865.3 627.6V618.3L1866 619.6V629.3L1866.7 628.6V618.7L1867.4 619V629.5L1868.1 628.7V617.7L1868.8 618.8V628.5L1869.5 628.3V619L1870.2 618.2V628.6L1870.9 628V619.3L1871.6 619.5V627.3L1872.3 627.8V619.4L1873 618.2V628L1873.7 630.3V619.3L1874.4 617.6V629.5L1875.1 629.3V619.2L1875.8 619V629.5L1876.4 628.3V618.3" fill="none" stroke="#cc00cc" stroke-width="1" stroke-linejoin="miter" shape-rendering="crispEdges"/>
<text x="1631.2" y="571.4" class="tt" text-anchor="middle">SDB1_NOISE_flt__FFT</text>
<text transform="translate(1313.5 592.3) rotate(-90)" class="yt" text-anchor="end">V/sqrt(Hz)</text>
<text x="1380.5" y="618.1" class="al" text-anchor="end">10<tspan class="sp" dy="-8.5">-1</tspan></text>
<text x="1380.5" y="689" class="al" text-anchor="end">10<tspan class="sp" dy="-8.5">-2</tspan></text>
<text x="1380.5" y="759.9" class="al" text-anchor="end">10<tspan class="sp" dy="-8.5">-3</tspan></text>
<text x="1380.5" y="830.8" class="al" text-anchor="end">10<tspan class="sp" dy="-8.5">-4</tspan></text>
<text x="1455.7" y="874.9" class="al" text-anchor="middle">1</text>
<text x="1569.5" y="874.9" class="al" text-anchor="middle">10</text>
<text x="1669.3" y="874.9" class="al" text-anchor="start">10<tspan class="sp" dy="-9">2</tspan></text>
<text x="1783.2" y="874.9" class="al" text-anchor="start">10<tspan class="sp" dy="-9">3</tspan></text>
<text x="1876.7" y="887.4" class="hz" text-anchor="end">Hz</text>
<text x="1596.7" y="916.4" class="mg" text-anchor="middle">1449493354.0000 Dec11 2025 13:02:16 UTC</text>
<text x="1596.7" y="940.9" class="bk" text-anchor="middle">1449493624.00 Dec11 2025 13:06:46 UTC dt:2s nAv:60</text>
</svg>
<style>
#sb{left:0;top:960px;width:1920px;height:21px;background:#e0e0e0;border-top:1px solid #ececec;border-bottom:1px solid #b4b4b4;box-sizing:border-box}
#sb div{position:absolute;top:1px;height:17px;box-sizing:border-box;border:1px solid;border-color:#8c8c8c #f4f4f4 #f4f4f4 #8c8c8c;font-size:10px;line-height:17px;padding-left:4px;color:#000;white-space:nowrap;letter-spacing:0.23px}
#ice1{left:0;top:982px;width:1920px;height:25px;background:#fff;}
#ice2{left:0;top:1006px;width:1920px;height:26px;background:#bebebe;border-top:1px solid #8a8a8a;box-sizing:border-box}
.ib{position:absolute;box-sizing:border-box;background:#c0c0c0;border:1px solid;border-color:#f2f2f2 #1c1c1c #1c1c1c #f2f2f2;box-shadow:1px 1px 0 #6a6a6a;}
.wb{position:absolute;top:0px;height:24px;box-sizing:border-box;background:#c0c0c0;border:1px solid;border-color:#e8e8e8 #505050 #505050 #e8e8e8;box-shadow:1px 1px 0 #2a2a2a;font-family:"DejaVu Sans",sans-serif;font-size:15.7px;line-height:23px;color:#000;white-space:nowrap;text-align:center;overflow:hidden}
.wb.act{background:#dedede;font-weight:bold;border-color:#3a3a3a #f4f4f4 #f4f4f4 #3a3a3a;box-shadow:none}
#wt{left:0;top:1032px;width:1920px;height:48px;background:linear-gradient(90deg,#e6ecf8 0%,#e1e7f6 18%,#d8e0f4 40%,#dfe6f6 60%,#e8eefa 100%);border-top:1px solid #cfd6e6;box-sizing:border-box}
#wt .txt{position:absolute;font-size:12px;color:#1b1b1b;white-space:nowrap}
</style>
<div id="sb" class="abs"><div style="left:3px;width:629px">PaveText. A Pave with several lines of text.</div><div style="left:635px;width:187px">DyGlobalTitle</div><div style="left:825px;width:188px">1812,17</div><div style="left:1016px;width:895px">x=0.94572, y=0.980899</div><svg class="abs" style="left:1906px;top:6px" width="13" height="13" viewBox="0 0 13 13" stroke="#888" stroke-width="1"><path d="M12 2L2 12M12 6L6 12M12 10l-2 2"/></svg></div>
<div id="ice1" class="abs">
<div class="abs" style="left:0;top:0;width:258px;height:25px;background:#c0c0c0"></div>
<div class="ib" style="left:1px;top:1px;width:51px;height:23px"><svg width="49" height="21" viewBox="0 0 49 21"><path d="M7 20L22 16l9-5 5-5 3 5 7-8-2 17z" fill="#6e6e6e"/><path d="M14 20l12-4 6-5 4-3 3 6 4 6z" fill="#d4d4d4"/><path d="M24 20l6-6 3 3 3-5 4 8z" fill="#8c8c8c"/><path d="M40 12l5-8" stroke="#222" stroke-width="1"/><text x="3.5" y="15" font-family="Liberation Sans,sans-serif" font-size="11" font-weight="bold" fill="#c4ecff" stroke="#0c1822" stroke-width="2" stroke-linejoin="round" paint-order="stroke">Ice</text><text x="19.5" y="12.5" font-family="Liberation Sans,sans-serif" font-size="13" font-weight="bold" fill="#fff" stroke="#111" stroke-width="2" stroke-linejoin="round" paint-order="stroke" textLength="25" lengthAdjust="spacingAndGlyphs">WM</text></svg></div>
<div class="ib" style="left:57px;top:1px;width:24px;height:23px"></div>
<div class="ib" style="left:82px;top:1px;width:24px;height:23px"></div>
<div class="ib" style="left:107px;top:1px;width:24px;height:23px"><svg width="22" height="21" viewBox="1 1 22 21" style="display:block"><circle cx="12" cy="11" r="8" fill="#2a8fe0"/><path d="M5 8c2-5 9-6 12-2 2 3 1 8-3 10 2-3 1-6-2-6-2 0-2-3-4-3-1 0-2 0-3 1z" fill="#e8791c"/><path d="M9 5c3-2 7-1 8 2-2-1-4-1-5 0z" fill="#5a2a10"/></svg></div>
<div class="ib" style="left:132px;top:1px;width:24px;height:23px"><svg width="22" height="21" viewBox="1 1 22 21" style="display:block"><rect x="5" y="4" width="14" height="15" fill="#f4f4f4"/><path d="M12 2l9 9-9 9-9-9z" fill="#1a8a2a"/><path d="M6 5h5l1 8 5-8h3l-8 13h-3z" fill="#ddd" stroke="#222" stroke-width=".8"/></svg></div>
<div class="ib" style="left:157px;top:1px;width:24px;height:23px"><svg width="22" height="21" viewBox="1 1 22 21" style="display:block"><rect x="4" y="3" width="16" height="17" fill="#f4f4f8"/><circle cx="12" cy="11.5" r="7.5" fill="#7a72c8"/><path d="M14.5 7c-3 0-5 1-5 2s3 1.5 3 2.5-3.5 1-3.5 2.5 3 1.5 5 1.5" stroke="#fff" stroke-width="1.3" fill="none"/></svg></div>
<div class="ib" style="left:182px;top:1px;width:24px;height:23px"><svg width="22" height="21" viewBox="1 1 22 21" style="display:block"><rect x="4" y="4" width="15" height="15" fill="#f6f6f0" stroke="#ccc" stroke-width=".6"/><rect x="4" y="4" width="15" height="3" fill="#e0d080"/><path d="M8 16l9-6 1.5 2-9 5z" fill="#e8a838"/><path d="M17 10l1.5-1 1 1.5-1 1.5z" fill="#e04040"/></svg></div>
<div class="ib" style="left:207px;top:1px;width:24px;height:23px"><svg width="22" height="21" viewBox="1 1 22 21" style="display:block"><rect x="4" y="3" width="17" height="17" fill="#5fc86a"/><rect x="5" y="5" width="15" height="2" fill="#9fe0a4"/><rect x="11" y="9" width="8" height="3" fill="#d8e8d8"/><rect x="5" y="14" width="15" height="2" fill="#a8e0b0"/><rect x="18" y="14" width="2" height="2" fill="#e05050"/><rect x="5" y="18" width="15" height="1" fill="#888"/></svg></div>
<div class="ib" style="left:232px;top:1px;width:24px;height:23px"><svg width="22" height="21" viewBox="1 1 22 21" style="display:block"><rect x="4" y="3" width="17" height="17" fill="#5fc86a"/><rect x="5" y="5" width="15" height="2" fill="#9fe0a4"/><rect x="11" y="9" width="8" height="3" fill="#d8e8d8"/><rect x="5" y="14" width="15" height="2" fill="#a8e0b0"/><rect x="18" y="14" width="2" height="2" fill="#e05050"/><rect x="5" y="18" width="15" height="1" fill="#888"/></svg></div>
<div class="abs" style="left:1736px;top:0;width:184px;height:25px;background:#c0c0c0"></div>
<svg class="abs" style="left:1739px;top:2.5px" width="20" height="20" viewBox="0 0 20 20"><rect width="20" height="20" fill="#000"/><rect x="0" y="16" width="1" height="4" fill="#ff00ff"/><rect x="1" y="3" width="1" height="17" fill="#ff00ff"/><rect x="2" y="2" width="1" height="18" fill="#ff00ff"/><rect x="3" y="2" width="1" height="18" fill="#ff00ff"/><rect x="4" y="17" width="1" height="3" fill="#ff00ff"/><rect x="5" y="8" width="1" height="12" fill="#ff00ff"/><rect x="6" y="6" width="1" height="14" fill="#ff00ff"/><rect x="7" y="17" width="1" height="3" fill="#ff00ff"/><rect x="8" y="11" width="1" height="9" fill="#ff00ff"/><rect x="9" y="15" width="1" height="5" fill="#ff00ff"/><rect x="10" y="2" width="1" height="18" fill="#ff00ff"/><rect x="11" y="8" width="1" height="12" fill="#ff00ff"/><rect x="12" y="6" width="1" height="14" fill="#ff00ff"/><rect x="13" y="14" width="1" height="6" fill="#ff00ff"/><rect x="14" y="2" width="1" height="18" fill="#ff00ff"/><rect x="15" y="15" width="1" height="5" fill="#ff00ff"/><rect x="16" y="16" width="1" height="4" fill="#ff00ff"/><rect x="17" y="6" width="1" height="14" fill="#ff00ff"/><rect x="18" y="17" width="1" height="3" fill="#ff00ff"/><rect x="19" y="6" width="1" height="14" fill="#ff00ff"/><rect y="17" width="20" height="3" fill="#ff00ff"/></svg>
<svg class="abs" style="left:1762px;top:2.5px" width="20" height="20" viewBox="0 0 20 20"><rect width="20" height="20" fill="#000"/><rect x="0" y="11" width="1" height="9" fill="#00ee00"/><rect x="1" y="12" width="1" height="8" fill="#00ee00"/><rect x="2" y="14" width="1" height="6" fill="#00ee00"/><rect x="3" y="11" width="1" height="9" fill="#00ee00"/><rect x="4" y="14" width="1" height="6" fill="#00ee00"/><rect x="5" y="15" width="1" height="5" fill="#00ee00"/><rect x="6" y="14" width="1" height="6" fill="#00ee00"/><rect x="7" y="10" width="1" height="10" fill="#00ee00"/><rect x="8" y="14" width="1" height="6" fill="#00ee00"/><rect x="9" y="14" width="1" height="6" fill="#00ee00"/><rect x="10" y="16" width="1" height="4" fill="#00ee00"/><rect x="11" y="16" width="1" height="4" fill="#00ee00"/><rect x="12" y="13" width="1" height="7" fill="#00ee00"/><rect x="13" y="13" width="1" height="7" fill="#00ee00"/><rect x="14" y="14" width="1" height="6" fill="#00ee00"/><rect x="15" y="14" width="1" height="6" fill="#00ee00"/><rect x="16" y="12" width="1" height="8" fill="#00ee00"/><rect x="17" y="15" width="1" height="5" fill="#00ee00"/><rect x="18" y="13" width="1" height="7" fill="#00ee00"/><rect x="19" y="14" width="1" height="6" fill="#00ee00"/><rect y="19" width="20" height="1" fill="#e02020"/></svg>
<svg class="abs" style="left:1785px;top:6.5px" width="15" height="13" viewBox="0 0 15 13"><rect x="1" y="2" width="13" height="9" fill="#fff" stroke="#000" stroke-width="1.2"/><path d="M1 2l6.5 5.5L14 2M1 11l5-4.5M14 11l-5-4.5" stroke="#000" stroke-width="1" fill="none"/></svg>
<div class="abs" style="left:1804px;top:2.5px;width:114px;height:20px;background:#000;color:#00ee00;font-family:'DejaVu Sans Mono','Liberation Mono',monospace;font-size:16.5px;line-height:19px;letter-spacing:0.05px;text-align:center;white-space:nowrap">02:07:18 PM</div>
</div>
<div id="ice2" class="abs">
<div class="wb" style="left:0;width:23px"><svg width="21" height="21"><rect x="2" y="17" width="8" height="2" fill="#000"/></svg></div>
<div class="wb" style="left:24px;width:25px"><svg width="23" height="21" fill="#c0c0c0" stroke="#000" stroke-width="1.3"><rect x="3.5" y="3.5" width="9" height="7"/><rect x="7.5" y="7.5" width="9" height="7"/><rect x="11.5" y="11.5" width="7" height="5"/></svg></div>
<div class="wb" style="left:55px;width:55px">Home</div>
<div class="wb act" style="left:111px;width:45px">Web</div>
<div class="wb" style="left:157px;width:34px">GUI</div>
<div class="wb" style="left:194px;width:64px">Matlab</div>
<div class="wb" style="left:261px;width:65px">Python</div>
<div class="wb" style="left:328px;width:61px">C-C++</div>
<div class="wb" style="left:391px;width:107px">Automation</div>
<div class="wb" style="left:500px;width:44px">Misc</div>
<div class="wb" style="left:549px;width:455px;text-align:left;padding-left:21px"><svg width="17" height="17" viewBox="0 0 17 17" style="position:absolute;left:3px;top:3px"><rect x="2" y="1" width="12" height="10" fill="#c8c8d0" stroke="#333" stroke-width="1"/><rect x="4" y="3" width="8" height="6" fill="#3050b0"/><rect x="1" y="12" width="15" height="3" fill="#888" stroke="#333" stroke-width=".7"/></svg>dataDisplay</div>
<div class="wb" style="left:1005px;width:453px;text-align:left;padding-left:20px"><svg width="17" height="17" viewBox="0 0 17 17" style="position:absolute;left:3px;top:3px"><path d="M2 3l12 12M14 2L3 15" stroke="#e00000" stroke-width="2.2" fill="none"/></svg>dy_gouaty_1060</div>
<div class="wb act" style="left:1460px;width:455px;text-align:left;padding-left:20px"><svg width="17" height="17" viewBox="1.5 1.5 17 17" style="position:absolute;left:3px;top:3px"><rect x="1" y="1" width="18" height="18" fill="#c6c6c6"/><circle cx="10.3" cy="10.3" r="5.8" fill="none" stroke="#00008c" stroke-width="2.1"/><circle cx="10.3" cy="10.3" r="3.600" fill="#d8d8d8"/><rect x="14" y="7" width="4" height="6" fill="#c6c6c6"/><path d="M10.5 10h7.5M13 8.5l4 3M13 11.5l4-3" stroke="#1228ff" stroke-width="1.3" fill="none"/><ellipse cx="6.3" cy="12.8" rx="3.900" ry="2.700" fill="#12c412"/><ellipse cx="6.3" cy="13.8" rx="3.3" ry="1.600" fill="#0a8a0a"/><rect x="5.3" y="15" width="2" height="3.5" fill="#e07000"/></svg>dy_gouaty_1060_plots</div>
</div>
<div id="wt" class="abs">
<svg class="abs" style="left:660px;top:12px" width="24" height="24" viewBox="0 0 24 24"><defs><linearGradient id="wl" x1="0" y1="0" x2="1" y2="1"><stop offset="0" stop-color="#4cc2f8"/><stop offset="1" stop-color="#0a6cd0"/></linearGradient></defs><rect x="0" y="0" width="11.2" height="11.2" rx="1" fill="url(#wl)"/><rect x="12.5" y="0" width="11.2" height="11.2" rx="1" fill="url(#wl)"/><rect x="0" y="12.5" width="11.2" height="11.2" rx="1" fill="url(#wl)"/><rect x="12.5" y="12.5" width="11.2" height="11.2" rx="1" fill="url(#wl)"/></svg>
<div class="abs" style="left:697px;top:8px;width:219px;height:31px;border-radius:16px;background:#f4f6fb;border:1px solid #d5dae6;box-sizing:border-box"></div>
<svg class="abs" style="left:708px;top:15px" width="18" height="18" viewBox="0 0 18 18" fill="none" stroke="#222" stroke-width="1.600"><circle cx="7.5" cy="7.5" r="5.3"/><path d="M11.5 11.5l4.5 4.5" stroke-linecap="round"/></svg>
<span class="txt" style="left:734px;top:15px;font-size:13.5px;color:#5a5a5a">Rechercher</span>
<svg class="abs" style="left:927px;top:12px" width="26" height="24" viewBox="0 0 26 24"><rect x="8" y="2" width="17" height="15" rx="2" fill="#f4f4f4" stroke="#ddd" stroke-width=".5"/><rect x="1" y="8" width="16" height="14" rx="2" fill="#222"/><rect x="8" y="8" width="9" height="9" fill="#999"/></svg>
<svg class="abs" style="left:972px;top:12px" width="26" height="24" viewBox="0 0 26 24"><path d="M5 9l9-7 10 7v11a2 2 0 0 1-2 2H7a2 2 0 0 1-2-2z" fill="#1a70d8"/><path d="M7 9l9-5 8 5-9 7z" fill="#6fc0f8"/><path d="M5 20l19-11v11a2 2 0 0 1-2 2H7z" fill="#1256b8"/><rect x="1" y="11" width="10" height="10" rx="2" fill="#0c4aa8"/><text x="6" y="19" font-size="8.5" font-weight="bold" fill="#fff" text-anchor="middle" font-family="Liberation Sans,sans-serif">O</text></svg>
<svg class="abs" style="left:1016px;top:11px" width="26" height="26" viewBox="0 0 26 26"><defs><radialGradient id="ff" cx=".6" cy=".3" r=".8"><stop offset="0" stop-color="#ffd43a"/><stop offset=".5" stop-color="#ff7a1a"/><stop offset="1" stop-color="#e8203a"/></radialGradient></defs><circle cx="13" cy="14" r="11" fill="url(#ff)"/><path d="M17 1c2 2 3 4 3 6 2 1 4 4 4 7l-6-3z" fill="#ffb020"/><circle cx="13" cy="14.5" r="5.5" fill="#7a3fd8"/><path d="M8 12c2-2 6-2 8 0-2 0-3 1-3 3-2 1-4 0-5-3z" fill="#ff9a2a"/></svg>
<div class="abs" style="left:1054px;top:4px;width:38px;height:39px;border-radius:5px;background:#f2f5fb;border:1px solid #e6eaf3;box-sizing:border-box"></div>
<svg class="abs" style="left:1062px;top:13px" width="22" height="22" viewBox="0 0 17 17"><rect width="17" height="17" rx="3.5" fill="#0a2f9a"/><path d="M4 17V9.5a3 3 0 0 1 3-3h10v4.2H10.3a1 1 0 0 0-1 1V17z" fill="#fff"/><rect x="11.5" y="12.3" width="5.5" height="4.700" fill="#0a2f9a"/></svg>
<div class="abs" style="left:1065px;top:39px;width:17px;height:3px;border-radius:2px;background:#0a6ad8"></div>
<svg class="abs" style="left:1103px;top:6px" width="32" height="32" viewBox="0 0 32 32"><circle cx="13" cy="19" r="11.5" fill="#1a6ad0"/><path d="M4 12c3-5 12-6 17-1 3 3 3 8 0 12-3 3-8 4-12 2 5 0 8-2 9-6-4 3-10 1-11-3-1-2-2-3-3-4z" fill="#2a94f0"/><path d="M8 16l6 5 8-6v6a2 2 0 0 1-2 2h-8z" fill="#e8f0ff"/><circle cx="24" cy="9" r="7.5" fill="#d8203a"/><text x="24" y="13.2" font-size="12" fill="#fff" text-anchor="middle" font-family="Liberation Sans,sans-serif">1</text></svg>
<svg class="abs" style="left:1147px;top:12px" width="26" height="24" viewBox="0 0 26 24"><path d="M1 4a2 2 0 0 1 2-2h7l3 3h10a2 2 0 0 1 2 2v3H1z" fill="#e8a820"/><rect x="1" y="6" width="24" height="16" rx="2" fill="#ffd24a"/><rect x="1" y="15" width="24" height="7" rx="2" fill="#f0b830"/><rect x="7" y="17" width="12" height="5" rx="1" fill="#2a8ae0"/></svg>
<svg class="abs" style="left:1194px;top:11px" width="20" height="26" viewBox="0 0 20 26"><rect x="1" y="1" width="18" height="24" rx="2" fill="#cfe0ee" stroke="#9ab4cc" stroke-width="1"/><rect x="3.5" y="3.5" width="13" height="5" fill="#f4f8fc" stroke="#9ab"/><g fill="#8aa4bc"><rect x="3.5" y="11" width="3" height="3"/><rect x="8.5" y="11" width="3" height="3"/><rect x="13.5" y="11" width="3" height="3"/><rect x="3.5" y="15.5" width="3" height="3"/><rect x="8.5" y="15.5" width="3" height="3"/><rect x="13.5" y="15.5" width="3" height="3"/><rect x="3.5" y="20" width="3" height="3"/><rect x="8.5" y="20" width="3" height="3"/><rect x="13.5" y="20" width="3" height="3"/></g></svg>
<svg class="abs" style="left:1236px;top:11px" width="26" height="26" viewBox="0 0 26 26"><circle cx="13" cy="13" r="12.5" fill="#0b5cff"/><text x="13" y="16.5" font-size="10.5" font-weight="bold" fill="#fff" text-anchor="middle" font-family="Liberation Sans,sans-serif">zm</text></svg>
<div class="abs" style="left:1025px;top:39px;width:7px;height:3px;border-radius:2px;background:#8a8e98"></div>
<div class="abs" style="left:1113px;top:39px;width:7px;height:3px;border-radius:2px;background:#8a8e98"></div>
<div class="abs" style="left:1157px;top:39px;width:7px;height:3px;border-radius:2px;background:#8a8e98"></div>
<div class="abs" style="left:1201px;top:39px;width:7px;height:3px;border-radius:2px;background:#8a8e98"></div>
<div class="abs" style="left:1245px;top:39px;width:7px;height:3px;border-radius:2px;background:#8a8e98"></div>
<svg class="abs" style="left:1671px;top:18px" width="13" height="9" viewBox="0 0 13 9" fill="none" stroke="#222" stroke-width="1.400"><path d="M1.5 7.5l5-5.5 5 5.5"/></svg>
<svg class="abs" style="left:1703px;top:13px" width="14" height="20" viewBox="0 0 14 20"><rect x="4.2" y="1.2" width="5.600" height="10.600" rx="2.8" fill="#9cc4f0" stroke="#1a62c8" stroke-width="1.3"/><path d="M1.5 9a5.5 5.5 0 0 0 11 0M7 14.5V18" stroke="#1a62c8" stroke-width="1.3" fill="none"/></svg>
<svg class="abs" style="left:1732px;top:14px" width="20" height="18" viewBox="0 0 20 18" fill="none" stroke="#222" stroke-width="1.2"><rect x="1" y="2" width="13" height="10" rx="1"/><path d="M5 15.5h6M8 12v3.5"/><rect x="12.5" y="5" width="6" height="11" rx="1" fill="#e6ebf6"/><circle cx="15.5" cy="3" r="2" fill="#222"/></svg>
<svg class="abs" style="left:1757px;top:15px" width="18" height="16" viewBox="0 0 18 16" fill="none" stroke="#222" stroke-width="1.2"><path d="M1 6h3l4-3.5v11L4 10H1z"/><path d="M10.5 5.5a4 4 0 0 1 0 5M12.5 3.5a7 7 0 0 1 0 9M14.5 1.5a10 10 0 0 1 0 13"/></svg>
<svg class="abs" style="left:1780px;top:15px" width="20" height="16" viewBox="0 0 20 16"><rect x="3" y="4" width="14" height="9" rx="1.5" fill="#222"/><rect x="17.5" y="6.5" width="1.8" height="4" fill="#222"/><path d="M2 1v5M5 1v5M1 5h5l-1 4H2z" fill="#222" stroke="#222" stroke-width=".8"/></svg>
<span class="txt" style="right:43px;top:8px">14:07</span><span class="txt" style="right:43px;top:25px;letter-spacing:0.3px">11/12/2025</span>
<svg class="abs" style="left:1883px;top:13px" width="20" height="21" viewBox="0 0 18 19"><path d="M3 13c1.5-1.5 1.5-3 1.5-6a4.5 4.5 0 0 1 9 0c0 3 0 4.5 1.5 6z" fill="#222"/><path d="M7 15.5a2 2 0 0 0 4 0z" fill="#222"/><text x="13" y="7" font-size="7" font-weight="bold" fill="#222" font-family="Liberation Sans,sans-serif">z</text><text x="9" y="11.5" font-size="6.5" font-weight="bold" fill="#e6ebf6" text-anchor="middle" font-family="Liberation Sans,sans-serif">z</text></svg>
</div>
<div class="abs" style="left:1883px;top:128px;width:37px;height:125.5px;background:#14181b;box-shadow:0 3px 8px rgba(0,0,0,.45)"><div class="abs" style="left:1px;top:105.5px;width:40px;height:19px;border-radius:4px;background:#202427;color:#f0f0f0;font-size:12.5px;line-height:19px;padding-left:4px;white-space:nowrap;overflow:hidden">Contr</div></div>
</body></html>
